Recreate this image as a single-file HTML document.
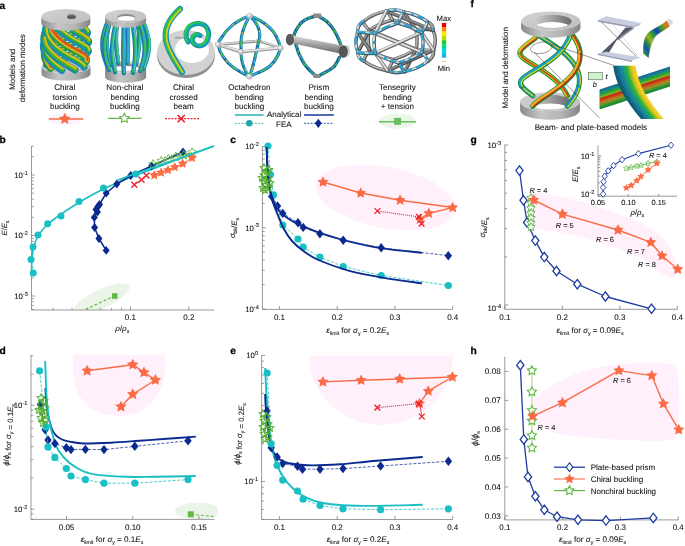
<!DOCTYPE html><html><head><meta charset="utf-8"><style>html,body{margin:0;padding:0;background:#fff;width:685px;height:546px;overflow:hidden}svg{display:block;will-change:transform} text{stroke:#1a1a1a;stroke-width:0.08px;text-rendering:geometricPrecision}</style></head><body><svg width="685" height="546" viewBox="0 0 685 546" font-family='"Liberation Sans", sans-serif'>
<rect width="685" height="546" fill="#fff"/>
<text x="-0.40" y="143.00" font-size="10.2" text-anchor="start" fill="#000" font-weight="bold"  style="stroke:#000;stroke-width:0.25px">b</text>
<clipPath id="cb"><rect x="31.5" y="141" width="187.5" height="169"/></clipPath>
<g clip-path="url(#cb)"><ellipse cx="101.5" cy="299" rx="30.5" ry="9.5" transform="rotate(-25 101.5 299)" fill="#eaf5e7"/></g>
<line x1="31.50" y1="146.00" x2="31.50" y2="310.00" stroke="#808080" stroke-width="0.8"/>
<line x1="31.50" y1="310.00" x2="214.00" y2="310.00" stroke="#808080" stroke-width="0.8"/>
<line x1="31.50" y1="309.42" x2="33.80" y2="309.42" stroke="#808080" stroke-width="0.8"/>
<line x1="31.50" y1="305.37" x2="33.80" y2="305.37" stroke="#808080" stroke-width="0.8"/>
<line x1="31.50" y1="301.86" x2="33.80" y2="301.86" stroke="#808080" stroke-width="0.8"/>
<line x1="31.50" y1="298.77" x2="33.80" y2="298.77" stroke="#808080" stroke-width="0.8"/>
<line x1="31.50" y1="296.00" x2="34.90" y2="296.00" stroke="#808080" stroke-width="0.8"/>
<line x1="31.50" y1="277.79" x2="33.80" y2="277.79" stroke="#808080" stroke-width="0.8"/>
<line x1="31.50" y1="267.13" x2="33.80" y2="267.13" stroke="#808080" stroke-width="0.8"/>
<line x1="31.50" y1="259.58" x2="33.80" y2="259.58" stroke="#808080" stroke-width="0.8"/>
<line x1="31.50" y1="253.71" x2="33.80" y2="253.71" stroke="#808080" stroke-width="0.8"/>
<line x1="31.50" y1="248.92" x2="33.80" y2="248.92" stroke="#808080" stroke-width="0.8"/>
<line x1="31.50" y1="244.87" x2="33.80" y2="244.87" stroke="#808080" stroke-width="0.8"/>
<line x1="31.50" y1="241.36" x2="33.80" y2="241.36" stroke="#808080" stroke-width="0.8"/>
<line x1="31.50" y1="238.27" x2="33.80" y2="238.27" stroke="#808080" stroke-width="0.8"/>
<line x1="31.50" y1="235.50" x2="34.90" y2="235.50" stroke="#808080" stroke-width="0.8"/>
<line x1="31.50" y1="217.29" x2="33.80" y2="217.29" stroke="#808080" stroke-width="0.8"/>
<line x1="31.50" y1="206.63" x2="33.80" y2="206.63" stroke="#808080" stroke-width="0.8"/>
<line x1="31.50" y1="199.08" x2="33.80" y2="199.08" stroke="#808080" stroke-width="0.8"/>
<line x1="31.50" y1="193.21" x2="33.80" y2="193.21" stroke="#808080" stroke-width="0.8"/>
<line x1="31.50" y1="188.42" x2="33.80" y2="188.42" stroke="#808080" stroke-width="0.8"/>
<line x1="31.50" y1="184.37" x2="33.80" y2="184.37" stroke="#808080" stroke-width="0.8"/>
<line x1="31.50" y1="180.86" x2="33.80" y2="180.86" stroke="#808080" stroke-width="0.8"/>
<line x1="31.50" y1="177.77" x2="33.80" y2="177.77" stroke="#808080" stroke-width="0.8"/>
<line x1="31.50" y1="175.00" x2="34.90" y2="175.00" stroke="#808080" stroke-width="0.8"/>
<line x1="31.50" y1="156.79" x2="33.80" y2="156.79" stroke="#808080" stroke-width="0.8"/>
<line x1="31.50" y1="146.13" x2="33.80" y2="146.13" stroke="#808080" stroke-width="0.8"/>
<text x="27.90" y="177.80" font-size="7.8" text-anchor="end" fill="#111">10<tspan font-size="5.6" dy="-3.2">-1</tspan></text>
<text x="27.90" y="238.30" font-size="7.8" text-anchor="end" fill="#111">10<tspan font-size="5.6" dy="-3.2">-2</tspan></text>
<text x="27.90" y="298.80" font-size="7.8" text-anchor="end" fill="#111">10<tspan font-size="5.6" dy="-3.2">-3</tspan></text>
<line x1="53.20" y1="310.00" x2="53.20" y2="307.70" stroke="#808080" stroke-width="0.8"/>
<line x1="72.00" y1="310.00" x2="72.00" y2="307.70" stroke="#808080" stroke-width="0.8"/>
<line x1="87.36" y1="310.00" x2="87.36" y2="307.70" stroke="#808080" stroke-width="0.8"/>
<line x1="100.35" y1="310.00" x2="100.35" y2="307.70" stroke="#808080" stroke-width="0.8"/>
<line x1="111.60" y1="310.00" x2="111.60" y2="307.70" stroke="#808080" stroke-width="0.8"/>
<line x1="121.52" y1="310.00" x2="121.52" y2="307.70" stroke="#808080" stroke-width="0.8"/>
<line x1="130.40" y1="310.00" x2="130.40" y2="306.60" stroke="#808080" stroke-width="0.8"/>
<line x1="188.80" y1="310.00" x2="188.80" y2="306.60" stroke="#808080" stroke-width="0.8"/>
<text x="130.40" y="320.00" font-size="8.0" text-anchor="middle" fill="#111" font-weight="normal"  >0.1</text>
<text x="188.80" y="320.00" font-size="8.0" text-anchor="middle" fill="#111" font-weight="normal"  >0.2</text>
<text x="122.3" y="330.8" font-size="8.0" text-anchor="middle" fill="#111"><tspan font-style="italic">ρ</tspan>/<tspan font-style="italic">ρ</tspan><tspan font-size="5.2" dy="2.2">s</tspan></text>
<text transform="translate(7,228) rotate(-90)" font-size="7.6" text-anchor="middle" fill="#111"><tspan font-style="italic">E</tspan>/<tspan font-style="italic">E</tspan><tspan font-size="5.2" dy="1.8">s</tspan></text>
<path d="M85.40 309.50 L113.40 296.40" fill="none" stroke="#62b844" stroke-width="1.1" stroke-dasharray="3,2" stroke-linejoin="round" />
<rect x="111.9" y="293.2" width="5.6" height="5.6" fill="#62b844"/>
<path d="M31.60 276.00 C31.70 272.50 31.47 261.00 32.20 255.00 C32.93 249.00 34.03 244.50 36.00 240.00 C37.97 235.50 40.50 231.83 44.00 228.00 C47.50 224.17 51.17 221.25 57.00 217.00 C62.83 212.75 71.25 207.17 79.00 202.50 C86.75 197.83 94.05 193.50 103.50 189.00 C112.95 184.50 123.78 180.25 135.70 175.50 C147.62 170.75 161.95 165.42 175.00 160.50 C188.05 155.58 207.50 148.42 214.00 146.00" fill="none" stroke="#19bfc2" stroke-width="1.6" stroke-linecap="butt"/>
<path d="M106.20 250.40 L98.90 238.50 L94.60 227.50 L94.30 217.40 L96.00 209.50 L99.50 204.50 L106.20 193.20 L116.80 184.00 L130.70 175.50 L151.60 166.00 L183.00 152.00" fill="none" stroke="#0b2a8f" stroke-width="1.5" stroke-linejoin="round" />
<polygon points="106.20,246.00 109.70,250.40 106.20,254.80 102.70,250.40" fill="#0b2a8f" stroke="none" stroke-width="0"/>
<polygon points="98.90,234.10 102.40,238.50 98.90,242.90 95.40,238.50" fill="#0b2a8f" stroke="none" stroke-width="0"/>
<polygon points="94.60,223.10 98.10,227.50 94.60,231.90 91.10,227.50" fill="#0b2a8f" stroke="none" stroke-width="0"/>
<polygon points="94.30,213.00 97.80,217.40 94.30,221.80 90.80,217.40" fill="#0b2a8f" stroke="none" stroke-width="0"/>
<polygon points="96.00,205.10 99.50,209.50 96.00,213.90 92.50,209.50" fill="#0b2a8f" stroke="none" stroke-width="0"/>
<polygon points="99.50,200.10 103.00,204.50 99.50,208.90 96.00,204.50" fill="#0b2a8f" stroke="none" stroke-width="0"/>
<polygon points="106.20,188.80 109.70,193.20 106.20,197.60 102.70,193.20" fill="#0b2a8f" stroke="none" stroke-width="0"/>
<polygon points="116.80,179.60 120.30,184.00 116.80,188.40 113.30,184.00" fill="#0b2a8f" stroke="none" stroke-width="0"/>
<polygon points="130.70,171.10 134.20,175.50 130.70,179.90 127.20,175.50" fill="#0b2a8f" stroke="none" stroke-width="0"/>
<polygon points="151.60,161.60 155.10,166.00 151.60,170.40 148.10,166.00" fill="#0b2a8f" stroke="none" stroke-width="0"/>
<polygon points="183.00,147.60 186.50,152.00 183.00,156.40 179.50,152.00" fill="#0b2a8f" stroke="none" stroke-width="0"/>
<polygon points="97.40,207.60 100.90,212.00 97.40,216.40 93.90,212.00" fill="#0b2a8f" stroke="none" stroke-width="0"/>
<polygon points="98.00,202.10 101.50,206.50 98.00,210.90 94.50,206.50" fill="#0b2a8f" stroke="none" stroke-width="0"/>
<circle cx="33.30" cy="273.00" r="3.50" fill="#19bfc2"/>
<circle cx="31.00" cy="259.50" r="3.50" fill="#19bfc2"/>
<circle cx="33.00" cy="247.00" r="3.50" fill="#19bfc2"/>
<circle cx="38.00" cy="235.00" r="3.50" fill="#19bfc2"/>
<circle cx="47.60" cy="223.80" r="3.50" fill="#19bfc2"/>
<circle cx="61.00" cy="216.00" r="3.50" fill="#19bfc2"/>
<circle cx="79.00" cy="201.50" r="3.50" fill="#19bfc2"/>
<circle cx="103.50" cy="188.00" r="3.50" fill="#19bfc2"/>
<circle cx="135.70" cy="174.00" r="3.50" fill="#19bfc2"/>
<path d="M153.20 164.40 L161.40 161.00 L168.50 158.90 L175.80 156.80 L183.70 155.20 L192.10 152.60" fill="none" stroke="#62b844" stroke-width="1.0" stroke-linejoin="round" />
<polygon points="153.20,159.60 154.61,162.46 157.77,162.92 155.48,165.14 156.02,168.28 153.20,166.80 150.38,168.28 150.92,165.14 148.63,162.92 151.79,162.46" fill="white" fill-opacity="0.0" stroke="#62b844" stroke-width="0.9" stroke-linejoin="miter"/>
<polygon points="161.40,156.20 162.81,159.06 165.97,159.52 163.68,161.74 164.22,164.88 161.40,163.40 158.58,164.88 159.12,161.74 156.83,159.52 159.99,159.06" fill="white" fill-opacity="0.0" stroke="#62b844" stroke-width="0.9" stroke-linejoin="miter"/>
<polygon points="168.50,154.10 169.91,156.96 173.07,157.42 170.78,159.64 171.32,162.78 168.50,161.30 165.68,162.78 166.22,159.64 163.93,157.42 167.09,156.96" fill="white" fill-opacity="0.0" stroke="#62b844" stroke-width="0.9" stroke-linejoin="miter"/>
<polygon points="175.80,152.00 177.21,154.86 180.37,155.32 178.08,157.54 178.62,160.68 175.80,159.20 172.98,160.68 173.52,157.54 171.23,155.32 174.39,154.86" fill="white" fill-opacity="0.0" stroke="#62b844" stroke-width="0.9" stroke-linejoin="miter"/>
<polygon points="183.70,150.40 185.11,153.26 188.27,153.72 185.98,155.94 186.52,159.08 183.70,157.60 180.88,159.08 181.42,155.94 179.13,153.72 182.29,153.26" fill="white" fill-opacity="0.0" stroke="#62b844" stroke-width="0.9" stroke-linejoin="miter"/>
<polygon points="192.10,147.80 193.51,150.66 196.67,151.12 194.38,153.34 194.92,156.48 192.10,155.00 189.28,156.48 189.82,153.34 187.53,151.12 190.69,150.66" fill="white" fill-opacity="0.0" stroke="#62b844" stroke-width="0.9" stroke-linejoin="miter"/>
<path d="M154.30 175.20 L161.10 172.60 L168.00 170.00 L174.80 167.10 L182.70 163.70 L192.10 157.90" fill="none" stroke="#fa6c46" stroke-width="1.0" stroke-linejoin="round" />
<polygon points="154.30,170.00 155.83,173.10 159.25,173.59 156.77,176.00 157.36,179.41 154.30,177.80 151.24,179.41 151.83,176.00 149.35,173.59 152.77,173.10" fill="#fa6c46" stroke="none" stroke-width="0" stroke-linejoin="round"/>
<polygon points="161.10,167.40 162.63,170.50 166.05,170.99 163.57,173.40 164.16,176.81 161.10,175.20 158.04,176.81 158.63,173.40 156.15,170.99 159.57,170.50" fill="#fa6c46" stroke="none" stroke-width="0" stroke-linejoin="round"/>
<polygon points="168.00,164.80 169.53,167.90 172.95,168.39 170.47,170.80 171.06,174.21 168.00,172.60 164.94,174.21 165.53,170.80 163.05,168.39 166.47,167.90" fill="#fa6c46" stroke="none" stroke-width="0" stroke-linejoin="round"/>
<polygon points="174.80,161.90 176.33,165.00 179.75,165.49 177.27,167.90 177.86,171.31 174.80,169.70 171.74,171.31 172.33,167.90 169.85,165.49 173.27,165.00" fill="#fa6c46" stroke="none" stroke-width="0" stroke-linejoin="round"/>
<polygon points="182.70,158.50 184.23,161.60 187.65,162.09 185.17,164.50 185.76,167.91 182.70,166.30 179.64,167.91 180.23,164.50 177.75,162.09 181.17,161.60" fill="#fa6c46" stroke="none" stroke-width="0" stroke-linejoin="round"/>
<polygon points="192.10,152.70 193.63,155.80 197.05,156.29 194.57,158.70 195.16,162.11 192.10,160.50 189.04,162.11 189.63,158.70 187.15,156.29 190.57,155.80" fill="#fa6c46" stroke="none" stroke-width="0" stroke-linejoin="round"/>
<path d="M134.30 184.70 L141.50 179.70 L146.40 175.50" fill="none" stroke="#ef1c2c" stroke-width="1.0" stroke-linejoin="round" />
<path d="M131.30 181.70L137.30 187.70M131.30 187.70L137.30 181.70" stroke="#ef1c2c" stroke-width="1.3" fill="none"/>
<path d="M138.50 176.70L144.50 182.70M138.50 182.70L144.50 176.70" stroke="#ef1c2c" stroke-width="1.3" fill="none"/>
<path d="M143.40 172.50L149.40 178.50M143.40 178.50L149.40 172.50" stroke="#ef1c2c" stroke-width="1.3" fill="none"/>
<path d="M117.00 180.50 C120.12 179.35 126.03 177.02 135.70 173.60 C145.37 170.18 161.95 164.60 175.00 160.00 C188.05 155.40 207.50 148.33 214.00 146.00" fill="none" stroke="#19bfc2" stroke-width="1.6" stroke-linecap="butt"/>
<text x="230.20" y="143.00" font-size="10.2" text-anchor="start" fill="#000" font-weight="bold"  style="stroke:#000;stroke-width:0.25px">c</text>
<ellipse cx="385.5" cy="197.5" rx="71" ry="30.5" transform="rotate(11 385.5 197.5)" fill="#fff0fc"/>
<line x1="262.40" y1="146.20" x2="262.40" y2="309.40" stroke="#808080" stroke-width="0.8"/>
<line x1="262.40" y1="309.40" x2="452.70" y2="309.40" stroke="#808080" stroke-width="0.8"/>
<line x1="262.40" y1="309.10" x2="265.80" y2="309.10" stroke="#808080" stroke-width="0.8"/>
<line x1="262.40" y1="284.63" x2="264.70" y2="284.63" stroke="#808080" stroke-width="0.8"/>
<line x1="262.40" y1="270.31" x2="264.70" y2="270.31" stroke="#808080" stroke-width="0.8"/>
<line x1="262.40" y1="260.15" x2="264.70" y2="260.15" stroke="#808080" stroke-width="0.8"/>
<line x1="262.40" y1="252.27" x2="264.70" y2="252.27" stroke="#808080" stroke-width="0.8"/>
<line x1="262.40" y1="245.84" x2="264.70" y2="245.84" stroke="#808080" stroke-width="0.8"/>
<line x1="262.40" y1="240.39" x2="264.70" y2="240.39" stroke="#808080" stroke-width="0.8"/>
<line x1="262.40" y1="235.68" x2="264.70" y2="235.68" stroke="#808080" stroke-width="0.8"/>
<line x1="262.40" y1="231.52" x2="264.70" y2="231.52" stroke="#808080" stroke-width="0.8"/>
<line x1="262.40" y1="227.80" x2="265.80" y2="227.80" stroke="#808080" stroke-width="0.8"/>
<line x1="262.40" y1="203.33" x2="264.70" y2="203.33" stroke="#808080" stroke-width="0.8"/>
<line x1="262.40" y1="189.01" x2="264.70" y2="189.01" stroke="#808080" stroke-width="0.8"/>
<line x1="262.40" y1="178.85" x2="264.70" y2="178.85" stroke="#808080" stroke-width="0.8"/>
<line x1="262.40" y1="170.97" x2="264.70" y2="170.97" stroke="#808080" stroke-width="0.8"/>
<line x1="262.40" y1="164.54" x2="264.70" y2="164.54" stroke="#808080" stroke-width="0.8"/>
<line x1="262.40" y1="159.09" x2="264.70" y2="159.09" stroke="#808080" stroke-width="0.8"/>
<line x1="262.40" y1="154.38" x2="264.70" y2="154.38" stroke="#808080" stroke-width="0.8"/>
<line x1="262.40" y1="150.22" x2="264.70" y2="150.22" stroke="#808080" stroke-width="0.8"/>
<line x1="262.40" y1="146.50" x2="265.80" y2="146.50" stroke="#808080" stroke-width="0.8"/>
<text x="258.80" y="149.30" font-size="7.8" text-anchor="end" fill="#111">10<tspan font-size="5.6" dy="-3.2">-2</tspan></text>
<text x="258.80" y="230.60" font-size="7.8" text-anchor="end" fill="#111">10<tspan font-size="5.6" dy="-3.2">-3</tspan></text>
<text x="258.80" y="311.90" font-size="7.8" text-anchor="end" fill="#111">10<tspan font-size="5.6" dy="-3.2">-4</tspan></text>
<line x1="279.45" y1="309.40" x2="279.45" y2="306.00" stroke="#808080" stroke-width="0.8"/>
<text x="279.45" y="320.00" font-size="8.0" text-anchor="middle" fill="#111" font-weight="normal"  >0.1</text>
<line x1="337.20" y1="309.40" x2="337.20" y2="306.00" stroke="#808080" stroke-width="0.8"/>
<text x="337.20" y="320.00" font-size="8.0" text-anchor="middle" fill="#111" font-weight="normal"  >0.2</text>
<line x1="394.95" y1="309.40" x2="394.95" y2="306.00" stroke="#808080" stroke-width="0.8"/>
<text x="394.95" y="320.00" font-size="8.0" text-anchor="middle" fill="#111" font-weight="normal"  >0.3</text>
<line x1="452.70" y1="309.40" x2="452.70" y2="306.00" stroke="#808080" stroke-width="0.8"/>
<text x="452.70" y="320.00" font-size="8.0" text-anchor="middle" fill="#111" font-weight="normal"  >0.4</text>
<text x="357.70" y="333.00" font-size="8.1" text-anchor="middle" fill="#111"><tspan font-style="italic">ε</tspan><tspan font-size="5.2" dy="2.2">limit</tspan><tspan dy="-2.2"> for </tspan><tspan font-style="italic">σ</tspan><tspan font-size="5.2" dy="2.2">y</tspan><tspan dy="-2.2"> = 0.2</tspan><tspan font-style="italic">E</tspan><tspan font-size="5.2" dy="2.2">s</tspan></text>
<text transform="translate(235.20,228.00) rotate(-90)" font-size="7.8" text-anchor="middle" fill="#111"><tspan font-style="italic">σ</tspan><tspan font-size="5.2" dy="2.0">bk</tspan><tspan dy="-2.0"></tspan>/<tspan font-style="italic">E</tspan><tspan font-size="5.2" dy="2.0">s</tspan><tspan dy="-2.0"></tspan></text>
<path d="M267.50 165.00 L269.50 183.00 L271.70 196.40 L277.50 206.00 L282.80 213.40 L298.00 222.70 L303.20 227.40 L319.90 233.80 L343.20 240.20 L381.20 247.80 L448.30 255.70" fill="none" stroke="#1f3da0" stroke-width="0.8" stroke-dasharray="3,1.6" stroke-linejoin="round" />
<polygon points="271.70,191.70 275.40,196.40 271.70,201.10 268.00,196.40" fill="#0b2a8f" stroke="none" stroke-width="0"/>
<polygon points="277.50,201.30 281.20,206.00 277.50,210.70 273.80,206.00" fill="#0b2a8f" stroke="none" stroke-width="0"/>
<polygon points="282.80,208.70 286.50,213.40 282.80,218.10 279.10,213.40" fill="#0b2a8f" stroke="none" stroke-width="0"/>
<polygon points="298.00,218.00 301.70,222.70 298.00,227.40 294.30,222.70" fill="#0b2a8f" stroke="none" stroke-width="0"/>
<polygon points="303.20,222.70 306.90,227.40 303.20,232.10 299.50,227.40" fill="#0b2a8f" stroke="none" stroke-width="0"/>
<polygon points="319.90,229.10 323.60,233.80 319.90,238.50 316.20,233.80" fill="#0b2a8f" stroke="none" stroke-width="0"/>
<polygon points="343.20,235.50 346.90,240.20 343.20,244.90 339.50,240.20" fill="#0b2a8f" stroke="none" stroke-width="0"/>
<polygon points="381.20,243.10 384.90,247.80 381.20,252.50 377.50,247.80" fill="#0b2a8f" stroke="none" stroke-width="0"/>
<polygon points="448.30,251.00 452.00,255.70 448.30,260.40 444.60,255.70" fill="#0b2a8f" stroke="none" stroke-width="0"/>
<path d="M268.00 146.00 L270.50 174.60 L273.40 194.90 L282.80 225.00 L298.00 239.00 L303.20 247.20 L319.90 257.20 L343.20 266.50 L381.20 275.50 L448.30 285.50" fill="none" stroke="#19bfc2" stroke-width="0.8" stroke-dasharray="3,1.6" stroke-linejoin="round" />
<circle cx="268.00" cy="146.00" r="3.60" fill="#19bfc2"/>
<circle cx="270.50" cy="174.60" r="3.60" fill="#19bfc2"/>
<circle cx="273.40" cy="194.90" r="3.60" fill="#19bfc2"/>
<circle cx="282.80" cy="225.00" r="3.60" fill="#19bfc2"/>
<circle cx="298.00" cy="239.00" r="3.60" fill="#19bfc2"/>
<circle cx="303.20" cy="247.20" r="3.60" fill="#19bfc2"/>
<circle cx="319.90" cy="257.20" r="3.60" fill="#19bfc2"/>
<circle cx="343.20" cy="266.50" r="3.60" fill="#19bfc2"/>
<circle cx="381.20" cy="275.50" r="3.60" fill="#19bfc2"/>
<circle cx="448.30" cy="285.50" r="3.60" fill="#19bfc2"/>
<path d="M266.60 147.00 C266.77 150.83 267.12 163.33 267.60 170.00 C268.08 176.67 268.82 182.70 269.50 187.00 C270.18 191.30 270.37 192.13 271.70 195.80 C273.03 199.47 274.58 205.10 277.50 209.00 C280.42 212.90 284.82 216.28 289.20 219.20 C293.58 222.12 298.93 224.32 303.80 226.50 C308.67 228.68 311.10 229.87 318.40 232.30 C325.70 234.73 336.90 238.42 347.60 241.10 C358.30 243.78 370.20 246.45 382.60 248.40 C395.00 250.35 415.43 252.07 422.00 252.80" fill="none" stroke="#0b2a8f" stroke-width="1.9" stroke-linecap="butt"/>
<path d="M266.60 147.00 C266.77 150.83 267.12 163.33 267.60 170.00 C268.08 176.67 268.82 182.20 269.50 187.00 C270.18 191.80 270.62 194.90 271.70 198.80 C272.78 202.70 274.05 205.53 276.00 210.40 C277.95 215.27 280.73 222.90 283.40 228.00 C286.07 233.10 288.60 237.12 292.00 241.00 C295.40 244.88 299.40 248.13 303.80 251.30 C308.20 254.47 311.10 256.83 318.40 260.00 C325.70 263.17 336.90 267.37 347.60 270.30 C358.30 273.23 370.20 275.42 382.60 277.60 C395.00 279.78 415.43 282.43 422.00 283.40" fill="none" stroke="#0b2a8f" stroke-width="1.9" stroke-linecap="butt"/>
<polygon points="264.00,164.00 265.18,166.38 267.80,166.76 265.90,168.62 266.35,171.24 264.00,170.00 261.65,171.24 262.10,168.62 260.20,166.76 262.82,166.38" fill="white" fill-opacity="0.0" stroke="#52ad2e" stroke-width="1.05" stroke-linejoin="miter"/>
<polygon points="267.00,167.00 268.18,169.38 270.80,169.76 268.90,171.62 269.35,174.24 267.00,173.00 264.65,174.24 265.10,171.62 263.20,169.76 265.82,169.38" fill="white" fill-opacity="0.0" stroke="#52ad2e" stroke-width="1.05" stroke-linejoin="miter"/>
<polygon points="264.00,171.00 265.18,173.38 267.80,173.76 265.90,175.62 266.35,178.24 264.00,177.00 261.65,178.24 262.10,175.62 260.20,173.76 262.82,173.38" fill="white" fill-opacity="0.0" stroke="#52ad2e" stroke-width="1.05" stroke-linejoin="miter"/>
<polygon points="268.00,174.00 269.18,176.38 271.80,176.76 269.90,178.62 270.35,181.24 268.00,180.00 265.65,181.24 266.10,178.62 264.20,176.76 266.82,176.38" fill="white" fill-opacity="0.0" stroke="#52ad2e" stroke-width="1.05" stroke-linejoin="miter"/>
<polygon points="264.00,177.00 265.18,179.38 267.80,179.76 265.90,181.62 266.35,184.24 264.00,183.00 261.65,184.24 262.10,181.62 260.20,179.76 262.82,179.38" fill="white" fill-opacity="0.0" stroke="#52ad2e" stroke-width="1.05" stroke-linejoin="miter"/>
<polygon points="266.00,181.00 267.18,183.38 269.80,183.76 267.90,185.62 268.35,188.24 266.00,187.00 263.65,188.24 264.10,185.62 262.20,183.76 264.82,183.38" fill="white" fill-opacity="0.0" stroke="#52ad2e" stroke-width="1.05" stroke-linejoin="miter"/>
<polygon points="263.00,184.00 264.18,186.38 266.80,186.76 264.90,188.62 265.35,191.24 263.00,190.00 260.65,191.24 261.10,188.62 259.20,186.76 261.82,186.38" fill="white" fill-opacity="0.0" stroke="#52ad2e" stroke-width="1.05" stroke-linejoin="miter"/>
<polygon points="268.00,184.00 269.18,186.38 271.80,186.76 269.90,188.62 270.35,191.24 268.00,190.00 265.65,191.24 266.10,188.62 264.20,186.76 266.82,186.38" fill="white" fill-opacity="0.0" stroke="#52ad2e" stroke-width="1.05" stroke-linejoin="miter"/>
<polygon points="265.00,186.00 266.18,188.38 268.80,188.76 266.90,190.62 267.35,193.24 265.00,192.00 262.65,193.24 263.10,190.62 261.20,188.76 263.82,188.38" fill="white" fill-opacity="0.0" stroke="#52ad2e" stroke-width="1.05" stroke-linejoin="miter"/>
<polygon points="270.00,179.00 271.18,181.38 273.80,181.76 271.90,183.62 272.35,186.24 270.00,185.00 267.65,186.24 268.10,183.62 266.20,181.76 268.82,181.38" fill="white" fill-opacity="0.0" stroke="#52ad2e" stroke-width="1.05" stroke-linejoin="miter"/>
<polygon points="269.00,166.00 270.18,168.38 272.80,168.76 270.90,170.62 271.35,173.24 269.00,172.00 266.65,173.24 267.10,170.62 265.20,168.76 267.82,168.38" fill="white" fill-opacity="0.0" stroke="#52ad2e" stroke-width="1.05" stroke-linejoin="miter"/>
<polygon points="262.00,174.00 263.18,176.38 265.80,176.76 263.90,178.62 264.35,181.24 262.00,180.00 259.65,181.24 260.10,178.62 258.20,176.76 260.82,176.38" fill="white" fill-opacity="0.0" stroke="#52ad2e" stroke-width="1.05" stroke-linejoin="miter"/>
<path d="M323.00 182.00 L360.70 193.00 L400.10 200.20 L452.70 207.50 L428.80 213.40 L420.00 219.20" fill="none" stroke="#fa6c46" stroke-width="1.4" stroke-linejoin="round" />
<polygon points="323.00,176.20 324.70,179.65 328.52,180.21 325.76,182.90 326.41,186.69 323.00,184.90 319.59,186.69 320.24,182.90 317.48,180.21 321.30,179.65" fill="#fa6c46" stroke="none" stroke-width="0" stroke-linejoin="round"/>
<polygon points="360.70,187.20 362.40,190.65 366.22,191.21 363.46,193.90 364.11,197.69 360.70,195.90 357.29,197.69 357.94,193.90 355.18,191.21 359.00,190.65" fill="#fa6c46" stroke="none" stroke-width="0" stroke-linejoin="round"/>
<polygon points="400.10,194.40 401.80,197.85 405.62,198.41 402.86,201.10 403.51,204.89 400.10,203.10 396.69,204.89 397.34,201.10 394.58,198.41 398.40,197.85" fill="#fa6c46" stroke="none" stroke-width="0" stroke-linejoin="round"/>
<polygon points="452.70,201.70 454.40,205.15 458.22,205.71 455.46,208.40 456.11,212.19 452.70,210.40 449.29,212.19 449.94,208.40 447.18,205.71 451.00,205.15" fill="#fa6c46" stroke="none" stroke-width="0" stroke-linejoin="round"/>
<polygon points="428.80,207.60 430.50,211.05 434.32,211.61 431.56,214.30 432.21,218.09 428.80,216.30 425.39,218.09 426.04,214.30 423.28,211.61 427.10,211.05" fill="#fa6c46" stroke="none" stroke-width="0" stroke-linejoin="round"/>
<polygon points="420.00,213.40 421.70,216.85 425.52,217.41 422.76,220.10 423.41,223.89 420.00,222.10 416.59,223.89 417.24,220.10 414.48,217.41 418.30,216.85" fill="#fa6c46" stroke="none" stroke-width="0" stroke-linejoin="round"/>
<path d="M377.40 211.00 L419.00 216.90" fill="none" stroke="#ef1c2c" stroke-width="1.1" stroke-dasharray="1,1" stroke-linejoin="round" />
<path d="M374.50 208.10L380.30 213.90M374.50 213.90L380.30 208.10" stroke="#ef1c2c" stroke-width="1.3" fill="none"/>
<path d="M416.10 214.00L421.90 219.80M416.10 219.80L421.90 214.00" stroke="#ef1c2c" stroke-width="1.3" fill="none"/>
<path d="M418.60 220.70L424.40 226.50M418.60 226.50L424.40 220.70" stroke="#ef1c2c" stroke-width="1.3" fill="none"/>
<text x="-0.40" y="353.60" font-size="10.2" text-anchor="start" fill="#000" font-weight="bold"  style="stroke:#000;stroke-width:0.25px">d</text>
<clipPath id="cd"><rect x="31" y="355" width="186.5" height="164.39999999999998"/></clipPath>
<g clip-path="url(#cd)"><path d="M73 355 L165 355 C166 372 164 392 150 404 C140 413 130 416 119 416 C105 416 92 411 84 402 C74 391 72 372 73 355 Z" fill="#fff0fc"/><ellipse cx="198" cy="511" rx="23" ry="8.5" fill="#eaf5e7"/></g>
<line x1="31.00" y1="355.00" x2="31.00" y2="519.40" stroke="#808080" stroke-width="0.8"/>
<line x1="31.00" y1="519.40" x2="214.50" y2="519.40" stroke="#808080" stroke-width="0.8"/>
<line x1="31.00" y1="519.27" x2="33.30" y2="519.27" stroke="#808080" stroke-width="0.8"/>
<line x1="31.00" y1="513.95" x2="33.30" y2="513.95" stroke="#808080" stroke-width="0.8"/>
<line x1="31.00" y1="509.20" x2="34.40" y2="509.20" stroke="#808080" stroke-width="0.8"/>
<line x1="31.00" y1="477.92" x2="33.30" y2="477.92" stroke="#808080" stroke-width="0.8"/>
<line x1="31.00" y1="459.63" x2="33.30" y2="459.63" stroke="#808080" stroke-width="0.8"/>
<line x1="31.00" y1="446.65" x2="33.30" y2="446.65" stroke="#808080" stroke-width="0.8"/>
<line x1="31.00" y1="436.58" x2="33.30" y2="436.58" stroke="#808080" stroke-width="0.8"/>
<line x1="31.00" y1="428.35" x2="33.30" y2="428.35" stroke="#808080" stroke-width="0.8"/>
<line x1="31.00" y1="421.39" x2="33.30" y2="421.39" stroke="#808080" stroke-width="0.8"/>
<line x1="31.00" y1="415.37" x2="33.30" y2="415.37" stroke="#808080" stroke-width="0.8"/>
<line x1="31.00" y1="410.05" x2="33.30" y2="410.05" stroke="#808080" stroke-width="0.8"/>
<line x1="31.00" y1="405.30" x2="34.40" y2="405.30" stroke="#808080" stroke-width="0.8"/>
<line x1="31.00" y1="374.02" x2="33.30" y2="374.02" stroke="#808080" stroke-width="0.8"/>
<line x1="31.00" y1="355.73" x2="33.30" y2="355.73" stroke="#808080" stroke-width="0.8"/>
<text x="27.40" y="408.10" font-size="7.8" text-anchor="end" fill="#111">10<tspan font-size="5.6" dy="-3.2">-1</tspan></text>
<text x="27.40" y="512.00" font-size="7.8" text-anchor="end" fill="#111">10<tspan font-size="5.6" dy="-3.2">-2</tspan></text>
<line x1="66.50" y1="519.40" x2="66.50" y2="516.00" stroke="#808080" stroke-width="0.8"/>
<text x="66.50" y="530.00" font-size="8.0" text-anchor="middle" fill="#111" font-weight="normal"  >0.05</text>
<line x1="132.75" y1="519.40" x2="132.75" y2="516.00" stroke="#808080" stroke-width="0.8"/>
<text x="132.75" y="530.00" font-size="8.0" text-anchor="middle" fill="#111" font-weight="normal"  >0.10</text>
<line x1="199.00" y1="519.40" x2="199.00" y2="516.00" stroke="#808080" stroke-width="0.8"/>
<text x="199.00" y="530.00" font-size="8.0" text-anchor="middle" fill="#111" font-weight="normal"  >0.15</text>
<text x="112.00" y="542.00" font-size="8.1" text-anchor="middle" fill="#111"><tspan font-style="italic">ε</tspan><tspan font-size="5.2" dy="2.2">limit</tspan><tspan dy="-2.2"> for </tspan><tspan font-style="italic">σ</tspan><tspan font-size="5.2" dy="2.2">y</tspan><tspan dy="-2.2"> = 0.1</tspan><tspan font-style="italic">E</tspan><tspan font-size="5.2" dy="2.2">s</tspan></text>
<text transform="translate(8.60,435.00) rotate(-90)" font-size="7.8" text-anchor="middle" fill="#111"><tspan font-style="italic">ϕ</tspan>/<tspan font-style="italic">ϕ</tspan><tspan font-size="5.2" dy="2.0">s</tspan><tspan dy="-2.0"></tspan> for <tspan font-style="italic">σ</tspan><tspan font-size="5.2" dy="2.0">y</tspan><tspan dy="-2.0"></tspan> = 0.1<tspan font-style="italic">E</tspan><tspan font-size="5.2" dy="2.0">s</tspan><tspan dy="-2.0"></tspan></text>
<path d="M45.40 388.00 C45.50 389.67 45.67 394.07 46.00 398.00 C46.33 401.93 46.47 406.55 47.40 411.60 C48.33 416.65 50.22 424.37 51.60 428.30 C52.98 432.23 53.97 433.33 55.70 435.20 C57.43 437.07 59.68 438.43 62.00 439.50 C64.32 440.57 66.02 440.93 69.60 441.60 C73.18 442.27 76.57 443.32 83.50 443.50 C90.43 443.68 101.95 443.15 111.20 442.70 C120.45 442.25 129.75 441.45 139.00 440.80 C148.25 440.15 157.23 439.50 166.70 438.80 C176.17 438.10 190.95 436.97 195.80 436.60" fill="none" stroke="#0b2a8f" stroke-width="1.9" stroke-linecap="butt"/>
<path d="M45.20 361.00 C45.42 366.67 45.90 385.63 46.50 395.00 C47.10 404.37 47.72 410.27 48.80 417.20 C49.88 424.13 51.38 431.05 53.00 436.60 C54.62 442.15 55.73 446.10 58.50 450.50 C61.27 454.90 65.43 459.53 69.60 463.00 C73.77 466.47 78.88 469.32 83.50 471.30 C88.12 473.28 90.38 473.98 97.30 474.90 C104.22 475.82 115.75 476.48 125.00 476.80 C134.25 477.12 141.00 476.93 152.80 476.80 C164.60 476.67 188.63 476.13 195.80 476.00" fill="none" stroke="#19bfc2" stroke-width="1.9" stroke-linecap="butt"/>
<path d="M40.50 404.70 L45.20 429.70 L48.00 440.00 L54.90 443.50 L66.30 447.70 L71.00 449.60 L85.40 449.40 L104.00 449.60 L134.80 446.30 L188.00 440.80" fill="none" stroke="#1f3da0" stroke-width="0.8" stroke-dasharray="3,1.6" stroke-linejoin="round" />
<polygon points="40.50,400.00 44.20,404.70 40.50,409.40 36.80,404.70" fill="#0b2a8f" stroke="none" stroke-width="0"/>
<polygon points="45.20,425.00 48.90,429.70 45.20,434.40 41.50,429.70" fill="#0b2a8f" stroke="none" stroke-width="0"/>
<polygon points="48.00,435.30 51.70,440.00 48.00,444.70 44.30,440.00" fill="#0b2a8f" stroke="none" stroke-width="0"/>
<polygon points="54.90,438.80 58.60,443.50 54.90,448.20 51.20,443.50" fill="#0b2a8f" stroke="none" stroke-width="0"/>
<polygon points="66.30,443.00 70.00,447.70 66.30,452.40 62.60,447.70" fill="#0b2a8f" stroke="none" stroke-width="0"/>
<polygon points="71.00,444.90 74.70,449.60 71.00,454.30 67.30,449.60" fill="#0b2a8f" stroke="none" stroke-width="0"/>
<polygon points="85.40,444.70 89.10,449.40 85.40,454.10 81.70,449.40" fill="#0b2a8f" stroke="none" stroke-width="0"/>
<polygon points="104.00,444.90 107.70,449.60 104.00,454.30 100.30,449.60" fill="#0b2a8f" stroke="none" stroke-width="0"/>
<polygon points="134.80,441.60 138.50,446.30 134.80,451.00 131.10,446.30" fill="#0b2a8f" stroke="none" stroke-width="0"/>
<polygon points="188.00,436.10 191.70,440.80 188.00,445.50 184.30,440.80" fill="#0b2a8f" stroke="none" stroke-width="0"/>
<path d="M39.60 370.80 L46.00 426.90 L48.00 446.90 L54.90 457.40 L66.30 468.50 L71.00 476.00 L85.40 479.60 L104.00 483.20 L134.80 483.20 L188.00 479.60" fill="none" stroke="#19bfc2" stroke-width="0.8" stroke-dasharray="3,1.6" stroke-linejoin="round" />
<circle cx="39.60" cy="370.80" r="3.60" fill="#19bfc2"/>
<circle cx="46.00" cy="426.90" r="3.60" fill="#19bfc2"/>
<circle cx="48.00" cy="446.90" r="3.60" fill="#19bfc2"/>
<circle cx="54.90" cy="457.40" r="3.60" fill="#19bfc2"/>
<circle cx="66.30" cy="468.50" r="3.60" fill="#19bfc2"/>
<circle cx="71.00" cy="476.00" r="3.60" fill="#19bfc2"/>
<circle cx="85.40" cy="479.60" r="3.60" fill="#19bfc2"/>
<circle cx="104.00" cy="483.20" r="3.60" fill="#19bfc2"/>
<circle cx="134.80" cy="483.20" r="3.60" fill="#19bfc2"/>
<circle cx="188.00" cy="479.60" r="3.60" fill="#19bfc2"/>
<polygon points="41.00,394.00 42.18,396.38 44.80,396.76 42.90,398.62 43.35,401.24 41.00,400.00 38.65,401.24 39.10,398.62 37.20,396.76 39.82,396.38" fill="white" fill-opacity="0.0" stroke="#52ad2e" stroke-width="1.05" stroke-linejoin="miter"/>
<polygon points="44.00,397.00 45.18,399.38 47.80,399.76 45.90,401.62 46.35,404.24 44.00,403.00 41.65,404.24 42.10,401.62 40.20,399.76 42.82,399.38" fill="white" fill-opacity="0.0" stroke="#52ad2e" stroke-width="1.05" stroke-linejoin="miter"/>
<polygon points="41.00,401.00 42.18,403.38 44.80,403.76 42.90,405.62 43.35,408.24 41.00,407.00 38.65,408.24 39.10,405.62 37.20,403.76 39.82,403.38" fill="white" fill-opacity="0.0" stroke="#52ad2e" stroke-width="1.05" stroke-linejoin="miter"/>
<polygon points="45.00,404.00 46.18,406.38 48.80,406.76 46.90,408.62 47.35,411.24 45.00,410.00 42.65,411.24 43.10,408.62 41.20,406.76 43.82,406.38" fill="white" fill-opacity="0.0" stroke="#52ad2e" stroke-width="1.05" stroke-linejoin="miter"/>
<polygon points="42.00,407.00 43.18,409.38 45.80,409.76 43.90,411.62 44.35,414.24 42.00,413.00 39.65,414.24 40.10,411.62 38.20,409.76 40.82,409.38" fill="white" fill-opacity="0.0" stroke="#52ad2e" stroke-width="1.05" stroke-linejoin="miter"/>
<polygon points="44.00,411.00 45.18,413.38 47.80,413.76 45.90,415.62 46.35,418.24 44.00,417.00 41.65,418.24 42.10,415.62 40.20,413.76 42.82,413.38" fill="white" fill-opacity="0.0" stroke="#52ad2e" stroke-width="1.05" stroke-linejoin="miter"/>
<polygon points="41.00,414.00 42.18,416.38 44.80,416.76 42.90,418.62 43.35,421.24 41.00,420.00 38.65,421.24 39.10,418.62 37.20,416.76 39.82,416.38" fill="white" fill-opacity="0.0" stroke="#52ad2e" stroke-width="1.05" stroke-linejoin="miter"/>
<polygon points="45.00,416.00 46.18,418.38 48.80,418.76 46.90,420.62 47.35,423.24 45.00,422.00 42.65,423.24 43.10,420.62 41.20,418.76 43.82,418.38" fill="white" fill-opacity="0.0" stroke="#52ad2e" stroke-width="1.05" stroke-linejoin="miter"/>
<polygon points="43.00,419.00 44.18,421.38 46.80,421.76 44.90,423.62 45.35,426.24 43.00,425.00 40.65,426.24 41.10,423.62 39.20,421.76 41.82,421.38" fill="white" fill-opacity="0.0" stroke="#52ad2e" stroke-width="1.05" stroke-linejoin="miter"/>
<polygon points="39.00,406.00 40.18,408.38 42.80,408.76 40.90,410.62 41.35,413.24 39.00,412.00 36.65,413.24 37.10,410.62 35.20,408.76 37.82,408.38" fill="white" fill-opacity="0.0" stroke="#52ad2e" stroke-width="1.05" stroke-linejoin="miter"/>
<path d="M87.10 370.80 L132.70 364.70 L144.00 372.40 L155.40 380.00 L132.70 394.30 L121.00 406.70" fill="none" stroke="#fa6c46" stroke-width="1.4" stroke-linejoin="round" />
<polygon points="87.10,364.80 88.86,368.37 92.81,368.95 89.95,371.73 90.63,375.65 87.10,373.80 83.57,375.65 84.25,371.73 81.39,368.95 85.34,368.37" fill="#fa6c46" stroke="none" stroke-width="0" stroke-linejoin="round"/>
<polygon points="132.70,358.70 134.46,362.27 138.41,362.85 135.55,365.63 136.23,369.55 132.70,367.70 129.17,369.55 129.85,365.63 126.99,362.85 130.94,362.27" fill="#fa6c46" stroke="none" stroke-width="0" stroke-linejoin="round"/>
<polygon points="144.00,366.40 145.76,369.97 149.71,370.55 146.85,373.33 147.53,377.25 144.00,375.40 140.47,377.25 141.15,373.33 138.29,370.55 142.24,369.97" fill="#fa6c46" stroke="none" stroke-width="0" stroke-linejoin="round"/>
<polygon points="155.40,374.00 157.16,377.57 161.11,378.15 158.25,380.93 158.93,384.85 155.40,383.00 151.87,384.85 152.55,380.93 149.69,378.15 153.64,377.57" fill="#fa6c46" stroke="none" stroke-width="0" stroke-linejoin="round"/>
<polygon points="132.70,388.30 134.46,391.87 138.41,392.45 135.55,395.23 136.23,399.15 132.70,397.30 129.17,399.15 129.85,395.23 126.99,392.45 130.94,391.87" fill="#fa6c46" stroke="none" stroke-width="0" stroke-linejoin="round"/>
<polygon points="121.00,400.70 122.76,404.27 126.71,404.85 123.85,407.63 124.53,411.55 121.00,409.70 117.47,411.55 118.15,407.63 115.29,404.85 119.24,404.27" fill="#fa6c46" stroke="none" stroke-width="0" stroke-linejoin="round"/>
<path d="M190.80 514.30 L213.90 516.50" fill="none" stroke="#62b844" stroke-width="1.0" stroke-dasharray="3,2" stroke-linejoin="round" />
<rect x="187.8" y="511.3" width="6" height="6" fill="#62b844"/>
<text x="230.20" y="353.80" font-size="10.2" text-anchor="start" fill="#000" font-weight="bold"  style="stroke:#000;stroke-width:0.25px">e</text>
<clipPath id="ce"><rect x="261.6" y="355.4" width="194.09999999999997" height="164.10000000000002"/></clipPath>
<g clip-path="url(#ce)"><ellipse cx="381" cy="355.3" rx="72" ry="69.5" fill="#fff0fc"/></g>
<line x1="261.60" y1="355.40" x2="261.60" y2="519.50" stroke="#808080" stroke-width="0.8"/>
<line x1="261.60" y1="519.50" x2="452.70" y2="519.50" stroke="#808080" stroke-width="0.8"/>
<line x1="261.60" y1="519.46" x2="263.90" y2="519.46" stroke="#808080" stroke-width="0.8"/>
<line x1="261.60" y1="509.48" x2="263.90" y2="509.48" stroke="#808080" stroke-width="0.8"/>
<line x1="261.60" y1="501.03" x2="263.90" y2="501.03" stroke="#808080" stroke-width="0.8"/>
<line x1="261.60" y1="493.72" x2="263.90" y2="493.72" stroke="#808080" stroke-width="0.8"/>
<line x1="261.60" y1="487.27" x2="263.90" y2="487.27" stroke="#808080" stroke-width="0.8"/>
<line x1="261.60" y1="481.50" x2="265.00" y2="481.50" stroke="#808080" stroke-width="0.8"/>
<line x1="261.60" y1="443.54" x2="263.90" y2="443.54" stroke="#808080" stroke-width="0.8"/>
<line x1="261.60" y1="421.34" x2="263.90" y2="421.34" stroke="#808080" stroke-width="0.8"/>
<line x1="261.60" y1="405.58" x2="263.90" y2="405.58" stroke="#808080" stroke-width="0.8"/>
<line x1="261.60" y1="393.36" x2="263.90" y2="393.36" stroke="#808080" stroke-width="0.8"/>
<line x1="261.60" y1="383.38" x2="263.90" y2="383.38" stroke="#808080" stroke-width="0.8"/>
<line x1="261.60" y1="374.93" x2="263.90" y2="374.93" stroke="#808080" stroke-width="0.8"/>
<line x1="261.60" y1="367.62" x2="263.90" y2="367.62" stroke="#808080" stroke-width="0.8"/>
<line x1="261.60" y1="361.17" x2="263.90" y2="361.17" stroke="#808080" stroke-width="0.8"/>
<line x1="261.60" y1="355.40" x2="265.00" y2="355.40" stroke="#808080" stroke-width="0.8"/>
<text x="258.00" y="358.20" font-size="7.8" text-anchor="end" fill="#111">10<tspan font-size="5.6" dy="-3.2">0</tspan></text>
<text x="258.00" y="484.30" font-size="7.8" text-anchor="end" fill="#111">10<tspan font-size="5.6" dy="-3.2">-1</tspan></text>
<line x1="279.45" y1="519.50" x2="279.45" y2="516.10" stroke="#808080" stroke-width="0.8"/>
<text x="279.45" y="530.00" font-size="8.0" text-anchor="middle" fill="#111" font-weight="normal"  >0.1</text>
<line x1="337.20" y1="519.50" x2="337.20" y2="516.10" stroke="#808080" stroke-width="0.8"/>
<text x="337.20" y="530.00" font-size="8.0" text-anchor="middle" fill="#111" font-weight="normal"  >0.2</text>
<line x1="394.95" y1="519.50" x2="394.95" y2="516.10" stroke="#808080" stroke-width="0.8"/>
<text x="394.95" y="530.00" font-size="8.0" text-anchor="middle" fill="#111" font-weight="normal"  >0.3</text>
<line x1="452.70" y1="519.50" x2="452.70" y2="516.10" stroke="#808080" stroke-width="0.8"/>
<text x="452.70" y="530.00" font-size="8.0" text-anchor="middle" fill="#111" font-weight="normal"  >0.4</text>
<text x="358.00" y="542.00" font-size="8.1" text-anchor="middle" fill="#111"><tspan font-style="italic">ε</tspan><tspan font-size="5.2" dy="2.2">limit</tspan><tspan dy="-2.2"> for </tspan><tspan font-style="italic">σ</tspan><tspan font-size="5.2" dy="2.2">y</tspan><tspan dy="-2.2"> = 0.2</tspan><tspan font-style="italic">E</tspan><tspan font-size="5.2" dy="2.2">s</tspan></text>
<text transform="translate(239.50,434.00) rotate(-90)" font-size="7.8" text-anchor="middle" fill="#111"><tspan font-style="italic">ϕ</tspan>/<tspan font-style="italic">ϕ</tspan><tspan font-size="5.2" dy="2.0">s</tspan><tspan dy="-2.0"></tspan> for <tspan font-style="italic">σ</tspan><tspan font-size="5.2" dy="2.0">y</tspan><tspan dy="-2.0"></tspan> = 0.2<tspan font-style="italic">E</tspan><tspan font-size="5.2" dy="2.0">s</tspan><tspan dy="-2.0"></tspan></text>
<path d="M265.20 368.00 C265.37 371.67 265.75 382.85 266.20 390.00 C266.65 397.15 267.07 401.93 267.90 410.90 C268.73 419.87 269.55 434.47 271.20 443.80 C272.85 453.13 274.50 459.75 277.80 466.90 C281.10 474.05 286.07 481.48 291.00 486.70 C295.93 491.92 301.92 495.45 307.40 498.20 C312.88 500.95 315.67 501.93 323.90 503.20 C332.13 504.47 340.33 505.53 356.80 505.80 C373.27 506.07 411.72 504.97 422.70 504.80" fill="none" stroke="#19bfc2" stroke-width="1.9" stroke-linecap="butt"/>
<path d="M265.20 394.00 C265.30 396.27 265.08 399.83 265.80 407.60 C266.52 415.37 268.05 432.92 269.50 440.60 C270.95 448.28 272.02 450.13 274.50 453.70 C276.98 457.27 278.92 460.07 284.40 462.00 C289.88 463.93 298.07 464.92 307.40 465.30 C316.73 465.68 329.42 465.02 340.40 464.30 C351.38 463.58 359.58 462.22 373.30 461.00 C387.02 459.78 414.47 457.67 422.70 457.00" fill="none" stroke="#0b2a8f" stroke-width="1.9" stroke-linecap="butt"/>
<path d="M267.20 410.90 L271.20 447.80 L277.10 457.00 L282.70 463.60 L297.50 466.30 L302.50 469.20 L320.00 469.20 L343.00 468.60 L380.60 466.00 L448.40 461.30" fill="none" stroke="#1f3da0" stroke-width="0.8" stroke-dasharray="3,1.6" stroke-linejoin="round" />
<polygon points="267.20,406.20 270.90,410.90 267.20,415.60 263.50,410.90" fill="#0b2a8f" stroke="none" stroke-width="0"/>
<polygon points="271.20,443.10 274.90,447.80 271.20,452.50 267.50,447.80" fill="#0b2a8f" stroke="none" stroke-width="0"/>
<polygon points="277.10,452.30 280.80,457.00 277.10,461.70 273.40,457.00" fill="#0b2a8f" stroke="none" stroke-width="0"/>
<polygon points="282.70,458.90 286.40,463.60 282.70,468.30 279.00,463.60" fill="#0b2a8f" stroke="none" stroke-width="0"/>
<polygon points="297.50,461.60 301.20,466.30 297.50,471.00 293.80,466.30" fill="#0b2a8f" stroke="none" stroke-width="0"/>
<polygon points="302.50,464.50 306.20,469.20 302.50,473.90 298.80,469.20" fill="#0b2a8f" stroke="none" stroke-width="0"/>
<polygon points="320.00,464.50 323.70,469.20 320.00,473.90 316.30,469.20" fill="#0b2a8f" stroke="none" stroke-width="0"/>
<polygon points="343.00,463.90 346.70,468.60 343.00,473.30 339.30,468.60" fill="#0b2a8f" stroke="none" stroke-width="0"/>
<polygon points="380.60,461.30 384.30,466.00 380.60,470.70 376.90,466.00" fill="#0b2a8f" stroke="none" stroke-width="0"/>
<polygon points="448.40,456.60 452.10,461.30 448.40,466.00 444.70,461.30" fill="#0b2a8f" stroke="none" stroke-width="0"/>
<path d="M267.20 373.00 L271.20 443.80 L277.10 465.30 L282.70 480.10 L297.50 491.00 L303.10 499.20 L320.00 505.50 L343.00 508.80 L380.60 509.70 L448.40 508.80" fill="none" stroke="#19bfc2" stroke-width="0.8" stroke-dasharray="3,1.6" stroke-linejoin="round" />
<circle cx="267.20" cy="373.00" r="3.60" fill="#19bfc2"/>
<circle cx="271.20" cy="443.80" r="3.60" fill="#19bfc2"/>
<circle cx="277.10" cy="465.30" r="3.60" fill="#19bfc2"/>
<circle cx="282.70" cy="480.10" r="3.60" fill="#19bfc2"/>
<circle cx="297.50" cy="491.00" r="3.60" fill="#19bfc2"/>
<circle cx="303.10" cy="499.20" r="3.60" fill="#19bfc2"/>
<circle cx="320.00" cy="505.50" r="3.60" fill="#19bfc2"/>
<circle cx="343.00" cy="508.80" r="3.60" fill="#19bfc2"/>
<circle cx="380.60" cy="509.70" r="3.60" fill="#19bfc2"/>
<circle cx="448.40" cy="508.80" r="3.60" fill="#19bfc2"/>
<polygon points="263.00,410.00 264.18,412.38 266.80,412.76 264.90,414.62 265.35,417.24 263.00,416.00 260.65,417.24 261.10,414.62 259.20,412.76 261.82,412.38" fill="white" fill-opacity="0.0" stroke="#52ad2e" stroke-width="1.05" stroke-linejoin="miter"/>
<polygon points="267.00,413.00 268.18,415.38 270.80,415.76 268.90,417.62 269.35,420.24 267.00,419.00 264.65,420.24 265.10,417.62 263.20,415.76 265.82,415.38" fill="white" fill-opacity="0.0" stroke="#52ad2e" stroke-width="1.05" stroke-linejoin="miter"/>
<polygon points="264.00,417.00 265.18,419.38 267.80,419.76 265.90,421.62 266.35,424.24 264.00,423.00 261.65,424.24 262.10,421.62 260.20,419.76 262.82,419.38" fill="white" fill-opacity="0.0" stroke="#52ad2e" stroke-width="1.05" stroke-linejoin="miter"/>
<polygon points="268.00,420.00 269.18,422.38 271.80,422.76 269.90,424.62 270.35,427.24 268.00,426.00 265.65,427.24 266.10,424.62 264.20,422.76 266.82,422.38" fill="white" fill-opacity="0.0" stroke="#52ad2e" stroke-width="1.05" stroke-linejoin="miter"/>
<polygon points="263.00,423.00 264.18,425.38 266.80,425.76 264.90,427.62 265.35,430.24 263.00,429.00 260.65,430.24 261.10,427.62 259.20,425.76 261.82,425.38" fill="white" fill-opacity="0.0" stroke="#52ad2e" stroke-width="1.05" stroke-linejoin="miter"/>
<polygon points="267.00,426.00 268.18,428.38 270.80,428.76 268.90,430.62 269.35,433.24 267.00,432.00 264.65,433.24 265.10,430.62 263.20,428.76 265.82,428.38" fill="white" fill-opacity="0.0" stroke="#52ad2e" stroke-width="1.05" stroke-linejoin="miter"/>
<polygon points="264.00,430.00 265.18,432.38 267.80,432.76 265.90,434.62 266.35,437.24 264.00,436.00 261.65,437.24 262.10,434.62 260.20,432.76 262.82,432.38" fill="white" fill-opacity="0.0" stroke="#52ad2e" stroke-width="1.05" stroke-linejoin="miter"/>
<polygon points="268.00,433.00 269.18,435.38 271.80,435.76 269.90,437.62 270.35,440.24 268.00,439.00 265.65,440.24 266.10,437.62 264.20,435.76 266.82,435.38" fill="white" fill-opacity="0.0" stroke="#52ad2e" stroke-width="1.05" stroke-linejoin="miter"/>
<polygon points="265.00,435.00 266.18,437.38 268.80,437.76 266.90,439.62 267.35,442.24 265.00,441.00 262.65,442.24 263.10,439.62 261.20,437.76 263.82,437.38" fill="white" fill-opacity="0.0" stroke="#52ad2e" stroke-width="1.05" stroke-linejoin="miter"/>
<polygon points="270.00,424.00 271.18,426.38 273.80,426.76 271.90,428.62 272.35,431.24 270.00,430.00 267.65,431.24 268.10,428.62 266.20,426.76 268.82,426.38" fill="white" fill-opacity="0.0" stroke="#52ad2e" stroke-width="1.05" stroke-linejoin="miter"/>
<path d="M322.90 381.90 L361.10 380.30 L399.70 379.00 L452.40 377.00 L428.30 391.10 L419.50 403.60" fill="none" stroke="#fa6c46" stroke-width="1.4" stroke-linejoin="round" />
<polygon points="322.90,376.00 324.63,379.51 328.51,380.08 325.71,382.81 326.37,386.67 322.90,384.85 319.43,386.67 320.09,382.81 317.29,380.08 321.17,379.51" fill="#fa6c46" stroke="none" stroke-width="0" stroke-linejoin="round"/>
<polygon points="361.10,374.40 362.83,377.91 366.71,378.48 363.91,381.21 364.57,385.07 361.10,383.25 357.63,385.07 358.29,381.21 355.49,378.48 359.37,377.91" fill="#fa6c46" stroke="none" stroke-width="0" stroke-linejoin="round"/>
<polygon points="399.70,373.10 401.43,376.61 405.31,377.18 402.51,379.91 403.17,383.77 399.70,381.95 396.23,383.77 396.89,379.91 394.09,377.18 397.97,376.61" fill="#fa6c46" stroke="none" stroke-width="0" stroke-linejoin="round"/>
<polygon points="452.40,371.10 454.13,374.61 458.01,375.18 455.21,377.91 455.87,381.77 452.40,379.95 448.93,381.77 449.59,377.91 446.79,375.18 450.67,374.61" fill="#fa6c46" stroke="none" stroke-width="0" stroke-linejoin="round"/>
<polygon points="428.30,385.20 430.03,388.71 433.91,389.28 431.11,392.01 431.77,395.87 428.30,394.05 424.83,395.87 425.49,392.01 422.69,389.28 426.57,388.71" fill="#fa6c46" stroke="none" stroke-width="0" stroke-linejoin="round"/>
<polygon points="419.50,397.70 421.23,401.21 425.11,401.78 422.31,404.51 422.97,408.37 419.50,406.55 416.03,408.37 416.69,404.51 413.89,401.78 417.77,401.21" fill="#fa6c46" stroke="none" stroke-width="0" stroke-linejoin="round"/>
<path d="M377.30 407.60 L418.80 403.60" fill="none" stroke="#ef1c2c" stroke-width="1.1" stroke-dasharray="1,1" stroke-linejoin="round" />
<path d="M420.00 405.00 L421.80 416.50" fill="none" stroke="#ef1c2c" stroke-width="0.8" stroke-linejoin="round" />
<path d="M374.40 404.70L380.20 410.50M374.40 410.50L380.20 404.70" stroke="#ef1c2c" stroke-width="1.3" fill="none"/>
<path d="M415.90 400.70L421.70 406.50M415.90 406.50L421.70 400.70" stroke="#ef1c2c" stroke-width="1.3" fill="none"/>
<path d="M418.90 413.60L424.70 419.40M418.90 419.40L424.70 413.60" stroke="#ef1c2c" stroke-width="1.3" fill="none"/>
<text x="470.60" y="143.00" font-size="10.2" text-anchor="start" fill="#000" font-weight="bold"  style="stroke:#000;stroke-width:0.25px">g</text>
<path d="M530 192 C560 195 592 203 632 219 C655 228 668 240 672 252 C676 262 678 272 674 277 C665 279 655 268 645 260 C620 248 590 238 560 232 C548 230 538 230 532 229 C528 220 527 200 530 192 Z" fill="#fff0fc"/>
<line x1="504.80" y1="144.50" x2="504.80" y2="309.30" stroke="#808080" stroke-width="0.8"/>
<line x1="504.80" y1="309.30" x2="677.40" y2="309.30" stroke="#808080" stroke-width="0.8"/>
<line x1="504.80" y1="305.00" x2="508.20" y2="305.00" stroke="#808080" stroke-width="0.8"/>
<line x1="504.80" y1="256.84" x2="507.10" y2="256.84" stroke="#808080" stroke-width="0.8"/>
<line x1="504.80" y1="228.66" x2="507.10" y2="228.66" stroke="#808080" stroke-width="0.8"/>
<line x1="504.80" y1="208.67" x2="507.10" y2="208.67" stroke="#808080" stroke-width="0.8"/>
<line x1="504.80" y1="193.16" x2="507.10" y2="193.16" stroke="#808080" stroke-width="0.8"/>
<line x1="504.80" y1="180.50" x2="507.10" y2="180.50" stroke="#808080" stroke-width="0.8"/>
<line x1="504.80" y1="169.78" x2="507.10" y2="169.78" stroke="#808080" stroke-width="0.8"/>
<line x1="504.80" y1="160.51" x2="507.10" y2="160.51" stroke="#808080" stroke-width="0.8"/>
<line x1="504.80" y1="152.32" x2="507.10" y2="152.32" stroke="#808080" stroke-width="0.8"/>
<line x1="504.80" y1="145.00" x2="508.20" y2="145.00" stroke="#808080" stroke-width="0.8"/>
<text x="501.20" y="147.80" font-size="7.8" text-anchor="end" fill="#111">10<tspan font-size="5.6" dy="-3.2">-3</tspan></text>
<text x="501.20" y="311.10" font-size="7.8" text-anchor="end" fill="#111">10<tspan font-size="5.6" dy="-3.2">-4</tspan></text>
<line x1="504.80" y1="309.30" x2="504.80" y2="305.90" stroke="#808080" stroke-width="0.8"/>
<text x="504.80" y="320.00" font-size="8.0" text-anchor="middle" fill="#111" font-weight="normal"  >0.1</text>
<line x1="562.30" y1="309.30" x2="562.30" y2="305.90" stroke="#808080" stroke-width="0.8"/>
<text x="562.30" y="320.00" font-size="8.0" text-anchor="middle" fill="#111" font-weight="normal"  >0.2</text>
<line x1="619.80" y1="309.30" x2="619.80" y2="305.90" stroke="#808080" stroke-width="0.8"/>
<text x="619.80" y="320.00" font-size="8.0" text-anchor="middle" fill="#111" font-weight="normal"  >0.3</text>
<line x1="677.30" y1="309.30" x2="677.30" y2="305.90" stroke="#808080" stroke-width="0.8"/>
<text x="677.30" y="320.00" font-size="8.0" text-anchor="middle" fill="#111" font-weight="normal"  >0.4</text>
<text x="590.00" y="333.00" font-size="8.1" text-anchor="middle" fill="#111"><tspan font-style="italic">ε</tspan><tspan font-size="5.2" dy="2.2">limit</tspan><tspan dy="-2.2"> for </tspan><tspan font-style="italic">σ</tspan><tspan font-size="5.2" dy="2.2">y</tspan><tspan dy="-2.2"> = 0.09</tspan><tspan font-style="italic">E</tspan><tspan font-size="5.2" dy="2.2">s</tspan></text>
<text transform="translate(484.50,227.50) rotate(-90)" font-size="7.8" text-anchor="middle" fill="#111"><tspan font-style="italic">σ</tspan><tspan font-size="5.2" dy="2.0">bk</tspan><tspan dy="-2.0"></tspan>/<tspan font-style="italic">E</tspan><tspan font-size="5.2" dy="2.0">s</tspan><tspan dy="-2.0"></tspan></text>
<path d="M519.50 170.60 L523.50 200.30 L527.10 222.50 L535.30 240.60 L544.30 257.10 L556.50 271.00 L577.30 284.20 L605.40 296.50 L651.50 308.80" fill="none" stroke="#1f3da0" stroke-width="1.3" stroke-linejoin="round" />
<polygon points="519.50,165.90 523.10,170.60 519.50,175.30 515.90,170.60" fill="#fff" stroke="#1f3da0" stroke-width="1.3"/>
<polygon points="523.50,195.60 527.10,200.30 523.50,205.00 519.90,200.30" fill="#fff" stroke="#1f3da0" stroke-width="1.3"/>
<polygon points="527.10,217.80 530.70,222.50 527.10,227.20 523.50,222.50" fill="#fff" stroke="#1f3da0" stroke-width="1.3"/>
<polygon points="535.30,235.90 538.90,240.60 535.30,245.30 531.70,240.60" fill="#fff" stroke="#1f3da0" stroke-width="1.3"/>
<polygon points="544.30,252.40 547.90,257.10 544.30,261.80 540.70,257.10" fill="#fff" stroke="#1f3da0" stroke-width="1.3"/>
<polygon points="556.50,266.30 560.10,271.00 556.50,275.70 552.90,271.00" fill="#fff" stroke="#1f3da0" stroke-width="1.3"/>
<polygon points="577.30,279.50 580.90,284.20 577.30,288.90 573.70,284.20" fill="#fff" stroke="#1f3da0" stroke-width="1.3"/>
<polygon points="605.40,291.80 609.00,296.50 605.40,301.20 601.80,296.50" fill="#fff" stroke="#1f3da0" stroke-width="1.3"/>
<polygon points="651.50,304.10 655.10,308.80 651.50,313.50 647.90,308.80" fill="#fff" stroke="#1f3da0" stroke-width="1.3"/>
<polygon points="531.00,193.60 532.29,196.22 535.18,196.64 533.09,198.68 533.59,201.56 531.00,200.20 528.41,201.56 528.91,198.68 526.82,196.64 529.71,196.22" fill="white" fill-opacity="1" stroke="#62b844" stroke-width="0.95" stroke-linejoin="miter"/>
<polygon points="531.00,198.60 532.29,201.22 535.18,201.64 533.09,203.68 533.59,206.56 531.00,205.20 528.41,206.56 528.91,203.68 526.82,201.64 529.71,201.22" fill="white" fill-opacity="1" stroke="#62b844" stroke-width="0.95" stroke-linejoin="miter"/>
<polygon points="531.00,203.60 532.29,206.22 535.18,206.64 533.09,208.68 533.59,211.56 531.00,210.20 528.41,211.56 528.91,208.68 526.82,206.64 529.71,206.22" fill="white" fill-opacity="1" stroke="#62b844" stroke-width="0.95" stroke-linejoin="miter"/>
<polygon points="531.00,208.60 532.29,211.22 535.18,211.64 533.09,213.68 533.59,216.56 531.00,215.20 528.41,216.56 528.91,213.68 526.82,211.64 529.71,211.22" fill="white" fill-opacity="1" stroke="#62b844" stroke-width="0.95" stroke-linejoin="miter"/>
<polygon points="531.00,213.60 532.29,216.22 535.18,216.64 533.09,218.68 533.59,221.56 531.00,220.20 528.41,221.56 528.91,218.68 526.82,216.64 529.71,216.22" fill="white" fill-opacity="1" stroke="#62b844" stroke-width="0.95" stroke-linejoin="miter"/>
<polygon points="531.00,218.60 532.29,221.22 535.18,221.64 533.09,223.68 533.59,226.56 531.00,225.20 528.41,226.56 528.91,223.68 526.82,221.64 529.71,221.22" fill="white" fill-opacity="1" stroke="#62b844" stroke-width="0.95" stroke-linejoin="miter"/>
<polygon points="531.00,222.60 532.29,225.22 535.18,225.64 533.09,227.68 533.59,230.56 531.00,229.20 528.41,230.56 528.91,227.68 526.82,225.64 529.71,225.22" fill="white" fill-opacity="1" stroke="#62b844" stroke-width="0.95" stroke-linejoin="miter"/>
<path d="M533.70 200.00 L562.40 214.20 L618.00 230.00 L650.80 242.30 L662.00 255.80 L677.70 269.20" fill="none" stroke="#fa6c46" stroke-width="1.4" stroke-linejoin="round" />
<polygon points="533.70,194.10 535.43,197.61 539.31,198.18 536.51,200.91 537.17,204.77 533.70,202.95 530.23,204.77 530.89,200.91 528.09,198.18 531.97,197.61" fill="#fa6c46" stroke="none" stroke-width="0" stroke-linejoin="round"/>
<polygon points="562.40,208.30 564.13,211.81 568.01,212.38 565.21,215.11 565.87,218.97 562.40,217.15 558.93,218.97 559.59,215.11 556.79,212.38 560.67,211.81" fill="#fa6c46" stroke="none" stroke-width="0" stroke-linejoin="round"/>
<polygon points="618.00,224.10 619.73,227.61 623.61,228.18 620.81,230.91 621.47,234.77 618.00,232.95 614.53,234.77 615.19,230.91 612.39,228.18 616.27,227.61" fill="#fa6c46" stroke="none" stroke-width="0" stroke-linejoin="round"/>
<polygon points="650.80,236.40 652.53,239.91 656.41,240.48 653.61,243.21 654.27,247.07 650.80,245.25 647.33,247.07 647.99,243.21 645.19,240.48 649.07,239.91" fill="#fa6c46" stroke="none" stroke-width="0" stroke-linejoin="round"/>
<polygon points="662.00,249.90 663.73,253.41 667.61,253.98 664.81,256.71 665.47,260.57 662.00,258.75 658.53,260.57 659.19,256.71 656.39,253.98 660.27,253.41" fill="#fa6c46" stroke="none" stroke-width="0" stroke-linejoin="round"/>
<polygon points="677.70,263.30 679.43,266.81 683.31,267.38 680.51,270.11 681.17,273.97 677.70,272.15 674.23,273.97 674.89,270.11 672.09,267.38 675.97,266.81" fill="#fa6c46" stroke="none" stroke-width="0" stroke-linejoin="round"/>
<text x="529.40" y="192.80" font-size="7.4" fill="#111"><tspan font-style="italic">R</tspan> = 4</text>
<text x="555.80" y="228.00" font-size="7.4" fill="#111"><tspan font-style="italic">R</tspan> = 5</text>
<text x="596.00" y="242.00" font-size="7.4" fill="#111"><tspan font-style="italic">R</tspan> = 6</text>
<text x="627.00" y="254.00" font-size="7.4" fill="#111"><tspan font-style="italic">R</tspan> = 7</text>
<text x="638.00" y="266.50" font-size="7.4" fill="#111"><tspan font-style="italic">R</tspan> = 8</text>
<line x1="598.00" y1="145.20" x2="598.00" y2="196.20" stroke="#808080" stroke-width="0.8"/>
<line x1="598.00" y1="196.20" x2="677.00" y2="196.20" stroke="#808080" stroke-width="0.8"/>
<line x1="598.00" y1="196.26" x2="600.30" y2="196.26" stroke="#808080" stroke-width="0.8"/>
<line x1="598.00" y1="194.50" x2="601.40" y2="194.50" stroke="#808080" stroke-width="0.8"/>
<line x1="598.00" y1="182.91" x2="600.30" y2="182.91" stroke="#808080" stroke-width="0.8"/>
<line x1="598.00" y1="176.13" x2="600.30" y2="176.13" stroke="#808080" stroke-width="0.8"/>
<line x1="598.00" y1="171.32" x2="600.30" y2="171.32" stroke="#808080" stroke-width="0.8"/>
<line x1="598.00" y1="167.59" x2="600.30" y2="167.59" stroke="#808080" stroke-width="0.8"/>
<line x1="598.00" y1="164.54" x2="600.30" y2="164.54" stroke="#808080" stroke-width="0.8"/>
<line x1="598.00" y1="161.96" x2="600.30" y2="161.96" stroke="#808080" stroke-width="0.8"/>
<line x1="598.00" y1="159.73" x2="600.30" y2="159.73" stroke="#808080" stroke-width="0.8"/>
<line x1="598.00" y1="157.76" x2="600.30" y2="157.76" stroke="#808080" stroke-width="0.8"/>
<line x1="598.00" y1="156.00" x2="601.40" y2="156.00" stroke="#808080" stroke-width="0.8"/>
<text x="594.40" y="158.80" font-size="7.8" text-anchor="end" fill="#111">10<tspan font-size="5.6" dy="-3.2">-1</tspan></text>
<text x="594.40" y="197.30" font-size="7.8" text-anchor="end" fill="#111">10<tspan font-size="5.6" dy="-3.2">-2</tspan></text>
<line x1="598.00" y1="196.20" x2="598.00" y2="194.00" stroke="#808080" stroke-width="0.8"/>
<text x="598.00" y="204.90" font-size="7.4" text-anchor="middle" fill="#111" font-weight="normal"  >0.05</text>
<line x1="628.35" y1="196.20" x2="628.35" y2="194.00" stroke="#808080" stroke-width="0.8"/>
<text x="628.35" y="204.90" font-size="7.4" text-anchor="middle" fill="#111" font-weight="normal"  >0.10</text>
<line x1="658.70" y1="196.20" x2="658.70" y2="194.00" stroke="#808080" stroke-width="0.8"/>
<text x="658.70" y="204.90" font-size="7.4" text-anchor="middle" fill="#111" font-weight="normal"  >0.15</text>
<text x="637.3" y="214.6" font-size="7.8" text-anchor="middle" fill="#111"><tspan font-style="italic">ρ</tspan>/<tspan font-style="italic">ρ</tspan><tspan font-size="5.2" dy="2.4">s</tspan></text>
<text transform="translate(578.20,174.30) rotate(-90)" font-size="7.9" text-anchor="middle" fill="#111"><tspan font-style="italic">E</tspan>/<tspan font-style="italic">E</tspan><tspan font-size="5.2" dy="2.0">s</tspan><tspan dy="-2.0"></tspan></text>
<path d="M603.10 194.20 L603.10 187.50 L603.60 181.70 L604.70 176.20 L608.20 170.90 L613.50 165.60 L622.00 159.70 L638.40 153.60 L671.00 145.20" fill="none" stroke="#1f3da0" stroke-width="1.1" stroke-linejoin="round" />
<polygon points="603.10,191.00 605.80,194.20 603.10,197.40 600.40,194.20" fill="#fff" stroke="#1f3da0" stroke-width="0.9"/>
<polygon points="603.10,184.30 605.80,187.50 603.10,190.70 600.40,187.50" fill="#fff" stroke="#1f3da0" stroke-width="0.9"/>
<polygon points="603.60,178.50 606.30,181.70 603.60,184.90 600.90,181.70" fill="#fff" stroke="#1f3da0" stroke-width="0.9"/>
<polygon points="604.70,173.00 607.40,176.20 604.70,179.40 602.00,176.20" fill="#fff" stroke="#1f3da0" stroke-width="0.9"/>
<polygon points="608.20,167.70 610.90,170.90 608.20,174.10 605.50,170.90" fill="#fff" stroke="#1f3da0" stroke-width="0.9"/>
<polygon points="613.50,162.40 616.20,165.60 613.50,168.80 610.80,165.60" fill="#fff" stroke="#1f3da0" stroke-width="0.9"/>
<polygon points="622.00,156.50 624.70,159.70 622.00,162.90 619.30,159.70" fill="#fff" stroke="#1f3da0" stroke-width="0.9"/>
<polygon points="638.40,150.40 641.10,153.60 638.40,156.80 635.70,153.60" fill="#fff" stroke="#1f3da0" stroke-width="0.9"/>
<polygon points="671.00,142.00 673.70,145.20 671.00,148.40 668.30,145.20" fill="#fff" stroke="#1f3da0" stroke-width="0.9"/>
<path d="M626.40 168.50 L631.20 167.40 L636.80 166.10 L641.20 165.30 L648.10 163.40 L656.90 161.80" fill="none" stroke="#62b844" stroke-width="0.8" stroke-linejoin="round" />
<polygon points="626.40,165.50 627.28,167.29 629.25,167.57 627.83,168.96 628.16,170.93 626.40,170.00 624.64,170.93 624.97,168.96 623.55,167.57 625.52,167.29" fill="white" fill-opacity="0.0" stroke="#62b844" stroke-width="0.7" stroke-linejoin="miter"/>
<polygon points="631.20,164.40 632.08,166.19 634.05,166.47 632.63,167.86 632.96,169.83 631.20,168.90 629.44,169.83 629.77,167.86 628.35,166.47 630.32,166.19" fill="white" fill-opacity="0.0" stroke="#62b844" stroke-width="0.7" stroke-linejoin="miter"/>
<polygon points="636.80,163.10 637.68,164.89 639.65,165.17 638.23,166.56 638.56,168.53 636.80,167.60 635.04,168.53 635.37,166.56 633.95,165.17 635.92,164.89" fill="white" fill-opacity="0.0" stroke="#62b844" stroke-width="0.7" stroke-linejoin="miter"/>
<polygon points="641.20,162.30 642.08,164.09 644.05,164.37 642.63,165.76 642.96,167.73 641.20,166.80 639.44,167.73 639.77,165.76 638.35,164.37 640.32,164.09" fill="white" fill-opacity="0.0" stroke="#62b844" stroke-width="0.7" stroke-linejoin="miter"/>
<polygon points="648.10,160.40 648.98,162.19 650.95,162.47 649.53,163.86 649.86,165.83 648.10,164.90 646.34,165.83 646.67,163.86 645.25,162.47 647.22,162.19" fill="white" fill-opacity="0.0" stroke="#62b844" stroke-width="0.7" stroke-linejoin="miter"/>
<polygon points="656.90,158.80 657.78,160.59 659.75,160.87 658.33,162.26 658.66,164.23 656.90,163.30 655.14,164.23 655.47,162.26 654.05,160.87 656.02,160.59" fill="white" fill-opacity="0.0" stroke="#62b844" stroke-width="0.7" stroke-linejoin="miter"/>
<path d="M626.40 187.80 L631.20 185.40 L636.80 180.60 L640.80 176.50 L648.10 169.80 L656.90 163.40" fill="none" stroke="#fa6c46" stroke-width="1.0" stroke-linejoin="round" />
<polygon points="626.40,183.90 627.55,186.22 630.11,186.59 628.25,188.40 628.69,190.96 626.40,189.75 624.11,190.96 624.55,188.40 622.69,186.59 625.25,186.22" fill="#fa6c46" stroke="none" stroke-width="0" stroke-linejoin="round"/>
<polygon points="631.20,181.50 632.35,183.82 634.91,184.19 633.05,186.00 633.49,188.56 631.20,187.35 628.91,188.56 629.35,186.00 627.49,184.19 630.05,183.82" fill="#fa6c46" stroke="none" stroke-width="0" stroke-linejoin="round"/>
<polygon points="636.80,176.70 637.95,179.02 640.51,179.39 638.65,181.20 639.09,183.76 636.80,182.55 634.51,183.76 634.95,181.20 633.09,179.39 635.65,179.02" fill="#fa6c46" stroke="none" stroke-width="0" stroke-linejoin="round"/>
<polygon points="640.80,172.60 641.95,174.92 644.51,175.29 642.65,177.10 643.09,179.66 640.80,178.45 638.51,179.66 638.95,177.10 637.09,175.29 639.65,174.92" fill="#fa6c46" stroke="none" stroke-width="0" stroke-linejoin="round"/>
<polygon points="648.10,165.90 649.25,168.22 651.81,168.59 649.95,170.40 650.39,172.96 648.10,171.75 645.81,172.96 646.25,170.40 644.39,168.59 646.95,168.22" fill="#fa6c46" stroke="none" stroke-width="0" stroke-linejoin="round"/>
<polygon points="656.90,159.50 658.05,161.82 660.61,162.19 658.75,164.00 659.19,166.56 656.90,165.35 654.61,166.56 655.05,164.00 653.19,162.19 655.75,161.82" fill="#fa6c46" stroke="none" stroke-width="0" stroke-linejoin="round"/>
<text x="648.90" y="157.60" font-size="7.4" fill="#111"><tspan font-style="italic">R</tspan> = 4</text>
<text x="470.60" y="354.00" font-size="10.2" text-anchor="start" fill="#000" font-weight="bold"  style="stroke:#000;stroke-width:0.25px">h</text>
<path d="M533 400 C545 388 575 368 620 364 C650 362 672 362 676 366 C680 380 681 425 675 440 C650 442 600 440 560 434 C540 430 530 420 533 400 Z" fill="#fff0fc"/>
<line x1="504.80" y1="356.80" x2="504.80" y2="519.90" stroke="#808080" stroke-width="0.8"/>
<line x1="504.80" y1="519.90" x2="678.60" y2="519.90" stroke="#808080" stroke-width="0.8"/>
<line x1="504.80" y1="515.80" x2="508.20" y2="515.80" stroke="#808080" stroke-width="0.8"/>
<text x="500.80" y="518.70" font-size="8.2" text-anchor="end" fill="#111" font-weight="normal"  >0.03</text>
<line x1="504.80" y1="486.94" x2="508.20" y2="486.94" stroke="#808080" stroke-width="0.8"/>
<text x="500.80" y="489.84" font-size="8.2" text-anchor="end" fill="#111" font-weight="normal"  >0.04</text>
<line x1="504.80" y1="458.08" x2="508.20" y2="458.08" stroke="#808080" stroke-width="0.8"/>
<text x="500.80" y="460.98" font-size="8.2" text-anchor="end" fill="#111" font-weight="normal"  >0.05</text>
<line x1="504.80" y1="429.22" x2="508.20" y2="429.22" stroke="#808080" stroke-width="0.8"/>
<text x="500.80" y="432.12" font-size="8.2" text-anchor="end" fill="#111" font-weight="normal"  >0.06</text>
<line x1="504.80" y1="400.36" x2="508.20" y2="400.36" stroke="#808080" stroke-width="0.8"/>
<text x="500.80" y="403.26" font-size="8.2" text-anchor="end" fill="#111" font-weight="normal"  >0.07</text>
<line x1="504.80" y1="371.50" x2="508.20" y2="371.50" stroke="#808080" stroke-width="0.8"/>
<text x="500.80" y="374.40" font-size="8.2" text-anchor="end" fill="#111" font-weight="normal"  >0.08</text>
<line x1="504.80" y1="519.90" x2="504.80" y2="516.50" stroke="#808080" stroke-width="0.8"/>
<text x="504.80" y="530.00" font-size="8.0" text-anchor="middle" fill="#111" font-weight="normal"  >0.1</text>
<line x1="562.60" y1="519.90" x2="562.60" y2="516.50" stroke="#808080" stroke-width="0.8"/>
<text x="562.60" y="530.00" font-size="8.0" text-anchor="middle" fill="#111" font-weight="normal"  >0.2</text>
<line x1="620.40" y1="519.90" x2="620.40" y2="516.50" stroke="#808080" stroke-width="0.8"/>
<text x="620.40" y="530.00" font-size="8.0" text-anchor="middle" fill="#111" font-weight="normal"  >0.3</text>
<line x1="678.20" y1="519.90" x2="678.20" y2="516.50" stroke="#808080" stroke-width="0.8"/>
<text x="678.20" y="530.00" font-size="8.0" text-anchor="middle" fill="#111" font-weight="normal"  >0.4</text>
<text x="592.60" y="542.00" font-size="8.1" text-anchor="middle" fill="#111"><tspan font-style="italic">ε</tspan><tspan font-size="5.2" dy="2.2">limit</tspan><tspan dy="-2.2"> for </tspan><tspan font-style="italic">σ</tspan><tspan font-size="5.2" dy="2.2">y</tspan><tspan dy="-2.2"> = 0.09</tspan><tspan font-style="italic">E</tspan><tspan font-size="5.2" dy="2.2">s</tspan></text>
<text transform="translate(478.00,438.60) rotate(-90)" font-size="8.8" text-anchor="middle" fill="#111"><tspan font-style="italic">ϕ</tspan>/<tspan font-style="italic">ϕ</tspan><tspan font-size="5.2" dy="2.0">s</tspan><tspan dy="-2.0"></tspan></text>
<path d="M520.30 365.20 L523.80 439.40 L528.00 476.90 L535.40 496.30 L544.30 509.80 L557.00 516.70 L578.00 519.80 L606.00 520.60 L653.30 517.90" fill="none" stroke="#1f3da0" stroke-width="1.3" stroke-linejoin="round" />
<polygon points="520.30,360.50 523.90,365.20 520.30,369.90 516.70,365.20" fill="#fff" stroke="#1f3da0" stroke-width="1.3"/>
<polygon points="523.80,434.70 527.40,439.40 523.80,444.10 520.20,439.40" fill="#fff" stroke="#1f3da0" stroke-width="1.3"/>
<polygon points="528.00,472.20 531.60,476.90 528.00,481.60 524.40,476.90" fill="#fff" stroke="#1f3da0" stroke-width="1.3"/>
<polygon points="535.40,491.60 539.00,496.30 535.40,501.00 531.80,496.30" fill="#fff" stroke="#1f3da0" stroke-width="1.3"/>
<polygon points="544.30,505.10 547.90,509.80 544.30,514.50 540.70,509.80" fill="#fff" stroke="#1f3da0" stroke-width="1.3"/>
<polygon points="557.00,512.00 560.60,516.70 557.00,521.40 553.40,516.70" fill="#fff" stroke="#1f3da0" stroke-width="1.3"/>
<polygon points="578.00,515.10 581.60,519.80 578.00,524.50 574.40,519.80" fill="#fff" stroke="#1f3da0" stroke-width="1.3"/>
<polygon points="606.00,515.90 609.60,520.60 606.00,525.30 602.40,520.60" fill="#fff" stroke="#1f3da0" stroke-width="1.3"/>
<polygon points="653.30,513.20 656.90,517.90 653.30,522.60 649.70,517.90" fill="#fff" stroke="#1f3da0" stroke-width="1.3"/>
<path d="M531.90 370.60 L531.90 391.80 L531.90 410.40 L531.90 420.80 L531.90 435.50 L531.90 447.90" fill="none" stroke="#a6d890" stroke-width="1.1" stroke-linejoin="round" />
<polygon points="531.90,365.80 533.31,368.66 536.47,369.12 534.18,371.34 534.72,374.48 531.90,373.00 529.08,374.48 529.62,371.34 527.33,369.12 530.49,368.66" fill="white" fill-opacity="1" stroke="#62b844" stroke-width="1.1" stroke-linejoin="miter"/>
<polygon points="531.90,387.00 533.31,389.86 536.47,390.32 534.18,392.54 534.72,395.68 531.90,394.20 529.08,395.68 529.62,392.54 527.33,390.32 530.49,389.86" fill="white" fill-opacity="1" stroke="#62b844" stroke-width="1.1" stroke-linejoin="miter"/>
<polygon points="531.90,405.60 533.31,408.46 536.47,408.92 534.18,411.14 534.72,414.28 531.90,412.80 529.08,414.28 529.62,411.14 527.33,408.92 530.49,408.46" fill="white" fill-opacity="1" stroke="#62b844" stroke-width="1.1" stroke-linejoin="miter"/>
<polygon points="531.90,416.00 533.31,418.86 536.47,419.32 534.18,421.54 534.72,424.68 531.90,423.20 529.08,424.68 529.62,421.54 527.33,419.32 530.49,418.86" fill="white" fill-opacity="1" stroke="#62b844" stroke-width="1.1" stroke-linejoin="miter"/>
<polygon points="531.90,430.70 533.31,433.56 536.47,434.02 534.18,436.24 534.72,439.38 531.90,437.90 529.08,439.38 529.62,436.24 527.33,434.02 530.49,433.56" fill="white" fill-opacity="1" stroke="#62b844" stroke-width="1.1" stroke-linejoin="miter"/>
<polygon points="531.90,443.10 533.31,445.96 536.47,446.42 534.18,448.64 534.72,451.78 531.90,450.30 529.08,451.78 529.62,448.64 527.33,446.42 530.49,445.96" fill="white" fill-opacity="1" stroke="#62b844" stroke-width="1.1" stroke-linejoin="miter"/>
<path d="M532.70 416.20 L562.40 402.70 L618.90 370.60 L651.80 375.60 L663.40 403.80 L678.80 429.70" fill="none" stroke="#fa6c46" stroke-width="1.4" stroke-linejoin="round" />
<polygon points="532.70,410.30 534.43,413.81 538.31,414.38 535.51,417.11 536.17,420.97 532.70,419.15 529.23,420.97 529.89,417.11 527.09,414.38 530.97,413.81" fill="#fa6c46" stroke="none" stroke-width="0" stroke-linejoin="round"/>
<polygon points="562.40,396.80 564.13,400.31 568.01,400.88 565.21,403.61 565.87,407.47 562.40,405.65 558.93,407.47 559.59,403.61 556.79,400.88 560.67,400.31" fill="#fa6c46" stroke="none" stroke-width="0" stroke-linejoin="round"/>
<polygon points="618.90,364.70 620.63,368.21 624.51,368.78 621.71,371.51 622.37,375.37 618.90,373.55 615.43,375.37 616.09,371.51 613.29,368.78 617.17,368.21" fill="#fa6c46" stroke="none" stroke-width="0" stroke-linejoin="round"/>
<polygon points="651.80,369.70 653.53,373.21 657.41,373.78 654.61,376.51 655.27,380.37 651.80,378.55 648.33,380.37 648.99,376.51 646.19,373.78 650.07,373.21" fill="#fa6c46" stroke="none" stroke-width="0" stroke-linejoin="round"/>
<polygon points="663.40,397.90 665.13,401.41 669.01,401.98 666.21,404.71 666.87,408.57 663.40,406.75 659.93,408.57 660.59,404.71 657.79,401.98 661.67,401.41" fill="#fa6c46" stroke="none" stroke-width="0" stroke-linejoin="round"/>
<polygon points="678.80,423.80 680.53,427.31 684.41,427.88 681.61,430.61 682.27,434.47 678.80,432.65 675.33,434.47 675.99,430.61 673.19,427.88 677.07,427.31" fill="#fa6c46" stroke="none" stroke-width="0" stroke-linejoin="round"/>
<text x="613.00" y="383.00" font-size="7.4" fill="#111"><tspan font-style="italic">R</tspan> = 6</text>
<text x="537.50" y="429.50" font-size="7.4" fill="#111"><tspan font-style="italic">R</tspan> = 4</text>
<line x1="554.00" y1="467.20" x2="585.00" y2="467.20" stroke="#1f3da0" stroke-width="1.3"/>
<polygon points="569.50,462.80 572.80,467.20 569.50,471.60 566.20,467.20" fill="#fff" stroke="#1f3da0" stroke-width="1.1"/>
<text x="590.70" y="469.60" font-size="8.0" text-anchor="start" fill="#111" font-weight="normal"  >Plate-based prism</text>
<line x1="554.00" y1="479.00" x2="585.00" y2="479.00" stroke="#fa6c46" stroke-width="1.1"/>
<polygon points="569.50,473.60 571.09,476.82 574.64,477.33 572.07,479.83 572.67,483.37 569.50,481.70 566.33,483.37 566.93,479.83 564.36,477.33 567.91,476.82" fill="#fa6c46" stroke="none" stroke-width="0" stroke-linejoin="round"/>
<text x="590.70" y="481.50" font-size="8.0" text-anchor="start" fill="#111" font-weight="normal"  >Chiral buckling</text>
<line x1="554.00" y1="490.60" x2="585.00" y2="490.60" stroke="#62b844" stroke-width="1.2"/>
<polygon points="569.50,485.80 570.91,488.66 574.07,489.12 571.78,491.34 572.32,494.48 569.50,493.00 566.68,494.48 567.22,491.34 564.93,489.12 568.09,488.66" fill="white" fill-opacity="1" stroke="#62b844" stroke-width="1.1" stroke-linejoin="miter"/>
<text x="590.70" y="494.10" font-size="8.0" text-anchor="start" fill="#111" font-weight="normal"  >Nonchiral buckling</text>
<defs><linearGradient id="gside" x1="0" x2="1" y1="0" y2="0"><stop offset="0" stop-color="#8a8a8a"/><stop offset="0.35" stop-color="#c6c6c6"/><stop offset="0.7" stop-color="#b4b4b4"/><stop offset="1" stop-color="#848484"/></linearGradient><linearGradient id="gtop" x1="0" x2="1" y1="0" y2="1"><stop offset="0" stop-color="#d2d2d2"/><stop offset="1" stop-color="#bebebe"/></linearGradient><linearGradient id="cbar" x1="0" x2="0" y1="0" y2="1"><stop offset="0" stop-color="#e8001c"/><stop offset="0.15" stop-color="#ff7a00"/><stop offset="0.32" stop-color="#f2e600"/><stop offset="0.5" stop-color="#3cc81e"/><stop offset="0.7" stop-color="#00d2c8"/><stop offset="0.85" stop-color="#10b4f0"/><stop offset="1" stop-color="#1eaaf0"/></linearGradient><linearGradient id="gwall" x1="0" x2="1" y1="0" y2="0"><stop offset="0" stop-color="#d0d0d0"/><stop offset="0.5" stop-color="#a0a0a0"/><stop offset="1" stop-color="#686868"/></linearGradient><linearGradient id="rod" x1="0" x2="0" y1="0" y2="1"><stop offset="0" stop-color="#e6e6e6"/><stop offset="0.5" stop-color="#9c9c9c"/><stop offset="1" stop-color="#6a6a6a"/></linearGradient></defs>
<text x="-0.40" y="9.00" font-size="10.2" text-anchor="start" fill="#000" font-weight="bold"  style="stroke:#000;stroke-width:0.25px">a</text>
<text transform="translate(15,69.3) rotate(-90)" font-size="7.95" text-anchor="middle" fill="#111">Models and</text>
<text transform="translate(24.5,68.2) rotate(-90)" font-size="7.95" text-anchor="middle" fill="#111">deformation modes</text>
<path d="M41.50 66.50 A24.50 6.60 0 0 0 90.50 66.50 L90.50 74.00 A24.50 6.60 0 0 1 41.50 74.00 Z" fill="url(#gside)"/>
<ellipse cx="66.00" cy="66.50" rx="24.50" ry="6.60" fill="url(#gtop)"/>
<path d="M87.3 32.7 L87.2 33.6 L86.7 34.5 L85.8 35.4 L84.6 36.4 L83.1 37.4 L81.3 38.5 L79.2 39.7 L76.8 40.9 L74.3 42.3 L71.7 43.7 L69.0 45.3 L66.4 47.0 L63.7 48.7 L61.2 50.6 L58.9 52.6 L56.7 54.6 L54.7 56.8 L53.0 58.9 L51.6 61.2" fill="none" stroke="#1888c8" stroke-width="7.00" stroke-linecap="round" stroke-linejoin="round"/>
<path d="M87.3 32.7 L87.2 33.6 L86.7 34.5 L85.8 35.4 L84.6 36.4 L83.1 37.4 L81.3 38.5 L79.2 39.7 L76.8 40.9 L74.3 42.3 L71.7 43.7 L69.0 45.3 L66.4 47.0 L63.7 48.7 L61.2 50.6 L58.9 52.6 L56.7 54.6 L54.7 56.8 L53.0 58.9 L51.6 61.2" fill="none" stroke="#2aa83a" stroke-width="4.34" stroke-linecap="round" stroke-linejoin="round" transform="translate(0.5,-0.7)"/>
<path d="M87.3 32.7 L87.2 33.6 L86.7 34.5 L85.8 35.4 L84.6 36.4 L83.1 37.4 L81.3 38.5 L79.2 39.7 L76.8 40.9 L74.3 42.3 L71.7 43.7 L69.0 45.3 L66.4 47.0 L63.7 48.7 L61.2 50.6 L58.9 52.6 L56.7 54.6 L54.7 56.8 L53.0 58.9 L51.6 61.2" fill="none" stroke="#d4c420" stroke-width="2.10" stroke-linecap="round" stroke-linejoin="round" transform="translate(1.0,-1.5)"/>
<path d="M78.2 20.6 L76.5 21.8 L74.5 23.0 L72.4 24.3 L70.0 25.7 L67.5 27.1 L64.9 28.7 L62.3 30.4 L59.6 32.2 L57.0 34.1 L54.5 36.0 L52.2 38.1 L50.2 40.3 L48.4 42.6 L46.8 44.9 L45.7 47.3 L44.9 49.7 L44.4 52.1 L44.3 54.6 L44.6 57.0" fill="none" stroke="#2a9a3a" stroke-width="7.00" stroke-linecap="round" stroke-linejoin="round"/>
<path d="M78.2 20.6 L76.5 21.8 L74.5 23.0 L72.4 24.3 L70.0 25.7 L67.5 27.1 L64.9 28.7 L62.3 30.4 L59.6 32.2 L57.0 34.1 L54.5 36.0 L52.2 38.1 L50.2 40.3 L48.4 42.6 L46.8 44.9 L45.7 47.3 L44.9 49.7 L44.4 52.1 L44.3 54.6 L44.6 57.0" fill="none" stroke="#d8b020" stroke-width="4.34" stroke-linecap="round" stroke-linejoin="round" transform="translate(0.5,-0.7)"/>
<path d="M78.2 20.6 L76.5 21.8 L74.5 23.0 L72.4 24.3 L70.0 25.7 L67.5 27.1 L64.9 28.7 L62.3 30.4 L59.6 32.2 L57.0 34.1 L54.5 36.0 L52.2 38.1 L50.2 40.3 L48.4 42.6 L46.8 44.9 L45.7 47.3 L44.9 49.7 L44.4 52.1 L44.3 54.6 L44.6 57.0" fill="none" stroke="#e04a20" stroke-width="2.10" stroke-linecap="round" stroke-linejoin="round" transform="translate(1.0,-1.5)"/>
<path d="M85.1 23.9 L84.9 24.9 L84.4 25.8 L83.5 26.8 L82.4 27.8 L80.9 28.9 L79.1 30.0 L77.0 31.2 L74.8 32.4 L72.3 33.8 L69.7 35.2 L67.0 36.8 L64.3 38.5 L61.6 40.2 L58.9 42.1 L56.5 44.1 L54.2 46.2 L52.2 48.4 L50.4 50.6 L48.9 52.9 L47.8 55.3 L47.0 57.6 L46.5 60.0 L46.4 62.4 L46.5 64.8" fill="none" stroke="#1888c8" stroke-width="7.00" stroke-linecap="round" stroke-linejoin="round"/>
<path d="M85.1 23.9 L84.9 24.9 L84.4 25.8 L83.5 26.8 L82.4 27.8 L80.9 28.9 L79.1 30.0 L77.0 31.2 L74.8 32.4 L72.3 33.8 L69.7 35.2 L67.0 36.8 L64.3 38.5 L61.6 40.2 L58.9 42.1 L56.5 44.1 L54.2 46.2 L52.2 48.4 L50.4 50.6 L48.9 52.9 L47.8 55.3 L47.0 57.6 L46.5 60.0 L46.4 62.4 L46.5 64.8" fill="none" stroke="#2aa83a" stroke-width="4.34" stroke-linecap="round" stroke-linejoin="round" transform="translate(0.5,-0.7)"/>
<path d="M85.1 23.9 L84.9 24.9 L84.4 25.8 L83.5 26.8 L82.4 27.8 L80.9 28.9 L79.1 30.0 L77.0 31.2 L74.8 32.4 L72.3 33.8 L69.7 35.2 L67.0 36.8 L64.3 38.5 L61.6 40.2 L58.9 42.1 L56.5 44.1 L54.2 46.2 L52.2 48.4 L50.4 50.6 L48.9 52.9 L47.8 55.3 L47.0 57.6 L46.5 60.0 L46.4 62.4 L46.5 64.8" fill="none" stroke="#d4c420" stroke-width="2.10" stroke-linecap="round" stroke-linejoin="round" transform="translate(1.0,-1.5)"/>
<path d="M88.5 41.6 L88.4 42.5 L87.9 43.4 L87.0 44.3 L85.8 45.2 L84.3 46.3 L82.5 47.3 L80.4 48.5 L78.1 49.8 L75.8 51.1 L73.3 52.6 L70.7 54.2 L68.2 55.8 L65.8 57.6 L63.5 59.4" fill="none" stroke="#1a8a9a" stroke-width="7.00" stroke-linecap="round" stroke-linejoin="round"/>
<path d="M88.5 41.6 L88.4 42.5 L87.9 43.4 L87.0 44.3 L85.8 45.2 L84.3 46.3 L82.5 47.3 L80.4 48.5 L78.1 49.8 L75.8 51.1 L73.3 52.6 L70.7 54.2 L68.2 55.8 L65.8 57.6 L63.5 59.4" fill="none" stroke="#44b030" stroke-width="4.34" stroke-linecap="round" stroke-linejoin="round" transform="translate(0.5,-0.7)"/>
<path d="M88.5 41.6 L88.4 42.5 L87.9 43.4 L87.0 44.3 L85.8 45.2 L84.3 46.3 L82.5 47.3 L80.4 48.5 L78.1 49.8 L75.8 51.1 L73.3 52.6 L70.7 54.2 L68.2 55.8 L65.8 57.6 L63.5 59.4" fill="none" stroke="#e0b818" stroke-width="2.10" stroke-linecap="round" stroke-linejoin="round" transform="translate(1.0,-1.5)"/>
<path d="M65.5 19.3 L63.1 21.0 L60.7 22.7 L58.2 24.4 L55.8 26.3 L53.4 28.3 L51.2 30.4 L49.2 32.6 L47.4 34.8 L45.9 37.1 L44.8 39.5 L43.9 41.9 L43.5 44.4 L43.4 46.8" fill="none" stroke="#1888c8" stroke-width="7.00" stroke-linecap="round" stroke-linejoin="round"/>
<path d="M65.5 19.3 L63.1 21.0 L60.7 22.7 L58.2 24.4 L55.8 26.3 L53.4 28.3 L51.2 30.4 L49.2 32.6 L47.4 34.8 L45.9 37.1 L44.8 39.5 L43.9 41.9 L43.5 44.4 L43.4 46.8" fill="none" stroke="#30a838" stroke-width="4.34" stroke-linecap="round" stroke-linejoin="round" transform="translate(0.5,-0.7)"/>
<path d="M65.5 19.3 L63.1 21.0 L60.7 22.7 L58.2 24.4 L55.8 26.3 L53.4 28.3 L51.2 30.4 L49.2 32.6 L47.4 34.8 L45.9 37.1 L44.8 39.5 L43.9 41.9 L43.5 44.4 L43.4 46.8" fill="none" stroke="#c8c820" stroke-width="2.10" stroke-linecap="round" stroke-linejoin="round" transform="translate(1.0,-1.5)"/>
<path d="M88.2 51.4 L87.7 52.3 L86.9 53.3 L85.7 54.3 L84.3 55.3 L82.6 56.4 L80.7 57.6 L78.6 58.9 L76.5 60.2" fill="none" stroke="#1888c8" stroke-width="7.00" stroke-linecap="round" stroke-linejoin="round"/>
<path d="M88.2 51.4 L87.7 52.3 L86.9 53.3 L85.7 54.3 L84.3 55.3 L82.6 56.4 L80.7 57.6 L78.6 58.9 L76.5 60.2" fill="none" stroke="#30a838" stroke-width="4.34" stroke-linecap="round" stroke-linejoin="round" transform="translate(0.5,-0.7)"/>
<path d="M88.2 51.4 L87.7 52.3 L86.9 53.3 L85.7 54.3 L84.3 55.3 L82.6 56.4 L80.7 57.6 L78.6 58.9 L76.5 60.2" fill="none" stroke="#c8c820" stroke-width="2.10" stroke-linecap="round" stroke-linejoin="round" transform="translate(1.0,-1.5)"/>
<path d="M53.1 20.8 L51.1 22.8 L49.3 25.0 L47.7 27.2 L46.3 29.5 L45.2 31.8 L44.5 34.2 L44.0 36.6 L44.0 39.1" fill="none" stroke="#1a8a9a" stroke-width="7.00" stroke-linecap="round" stroke-linejoin="round"/>
<path d="M53.1 20.8 L51.1 22.8 L49.3 25.0 L47.7 27.2 L46.3 29.5 L45.2 31.8 L44.5 34.2 L44.0 36.6 L44.0 39.1" fill="none" stroke="#44b030" stroke-width="4.34" stroke-linecap="round" stroke-linejoin="round" transform="translate(0.5,-0.7)"/>
<path d="M53.1 20.8 L51.1 22.8 L49.3 25.0 L47.7 27.2 L46.3 29.5 L45.2 31.8 L44.5 34.2 L44.0 36.6 L44.0 39.1" fill="none" stroke="#e0b818" stroke-width="2.10" stroke-linecap="round" stroke-linejoin="round" transform="translate(1.0,-1.5)"/>
<path d="M86.3 61.3 L85.6 62.3 L84.6 63.3" fill="none" stroke="#2a9a3a" stroke-width="7.00" stroke-linecap="round" stroke-linejoin="round"/>
<path d="M86.3 61.3 L85.6 62.3 L84.6 63.3" fill="none" stroke="#d8b020" stroke-width="4.34" stroke-linecap="round" stroke-linejoin="round" transform="translate(0.5,-0.7)"/>
<path d="M86.3 61.3 L85.6 62.3 L84.6 63.3" fill="none" stroke="#e04a20" stroke-width="2.10" stroke-linecap="round" stroke-linejoin="round" transform="translate(1.0,-1.5)"/>
<path d="M46.7 24.1 L46.1 26.5 L45.8 28.9" fill="none" stroke="#1888c8" stroke-width="7.00" stroke-linecap="round" stroke-linejoin="round"/>
<path d="M46.7 24.1 L46.1 26.5 L45.8 28.9" fill="none" stroke="#2aa83a" stroke-width="4.34" stroke-linecap="round" stroke-linejoin="round" transform="translate(0.5,-0.7)"/>
<path d="M46.7 24.1 L46.1 26.5 L45.8 28.9" fill="none" stroke="#d4c420" stroke-width="2.10" stroke-linecap="round" stroke-linejoin="round" transform="translate(1.0,-1.5)"/>
<path d="M83.1 27.7 L84.5 28.8 L85.6 29.8 L86.5 30.8 L87.1 31.8 L87.3 32.7" fill="none" stroke="#1888c8" stroke-width="7.00" stroke-linecap="round" stroke-linejoin="round"/>
<path d="M83.1 27.7 L84.5 28.8 L85.6 29.8 L86.5 30.8 L87.1 31.8 L87.3 32.7" fill="none" stroke="#2aa83a" stroke-width="4.34" stroke-linecap="round" stroke-linejoin="round" transform="translate(0.5,-0.7)"/>
<path d="M83.1 27.7 L84.5 28.8 L85.6 29.8 L86.5 30.8 L87.1 31.8 L87.3 32.7" fill="none" stroke="#d4c420" stroke-width="2.10" stroke-linecap="round" stroke-linejoin="round" transform="translate(1.0,-1.5)"/>
<path d="M44.6 57.0 L45.2 59.4 L46.2 61.7 L47.4 64.0 L48.9 66.3 L50.5 68.4" fill="none" stroke="#2a9a3a" stroke-width="7.00" stroke-linecap="round" stroke-linejoin="round"/>
<path d="M44.6 57.0 L45.2 59.4 L46.2 61.7 L47.4 64.0 L48.9 66.3 L50.5 68.4" fill="none" stroke="#d8b020" stroke-width="4.34" stroke-linecap="round" stroke-linejoin="round" transform="translate(0.5,-0.7)"/>
<path d="M44.6 57.0 L45.2 59.4 L46.2 61.7 L47.4 64.0 L48.9 66.3 L50.5 68.4" fill="none" stroke="#e04a20" stroke-width="2.10" stroke-linecap="round" stroke-linejoin="round" transform="translate(1.0,-1.5)"/>
<path d="M73.1 30.3 L75.4 31.8 L77.7 33.1 L79.9 34.5 L81.9 35.7 L83.7 36.8 L85.3 37.9 L86.6 38.9 L87.6 39.8 L88.2 40.7 L88.5 41.6" fill="none" stroke="#1a8a9a" stroke-width="7.00" stroke-linecap="round" stroke-linejoin="round"/>
<path d="M73.1 30.3 L75.4 31.8 L77.7 33.1 L79.9 34.5 L81.9 35.7 L83.7 36.8 L85.3 37.9 L86.6 38.9 L87.6 39.8 L88.2 40.7 L88.5 41.6" fill="none" stroke="#44b030" stroke-width="4.34" stroke-linecap="round" stroke-linejoin="round" transform="translate(0.5,-0.7)"/>
<path d="M73.1 30.3 L75.4 31.8 L77.7 33.1 L79.9 34.5 L81.9 35.7 L83.7 36.8 L85.3 37.9 L86.6 38.9 L87.6 39.8 L88.2 40.7 L88.5 41.6" fill="none" stroke="#e0b818" stroke-width="2.10" stroke-linecap="round" stroke-linejoin="round" transform="translate(1.0,-1.5)"/>
<path d="M43.4 46.8 L43.7 49.3 L44.4 51.7 L45.4 54.1 L46.8 56.4 L48.4 58.7 L50.3 60.9 L52.4 63.0 L54.7 65.0 L57.0 66.9 L59.4 68.8 L61.8 70.5" fill="none" stroke="#1888c8" stroke-width="7.00" stroke-linecap="round" stroke-linejoin="round"/>
<path d="M43.4 46.8 L43.7 49.3 L44.4 51.7 L45.4 54.1 L46.8 56.4 L48.4 58.7 L50.3 60.9 L52.4 63.0 L54.7 65.0 L57.0 66.9 L59.4 68.8 L61.8 70.5" fill="none" stroke="#30a838" stroke-width="4.34" stroke-linecap="round" stroke-linejoin="round" transform="translate(0.5,-0.7)"/>
<path d="M43.4 46.8 L43.7 49.3 L44.4 51.7 L45.4 54.1 L46.8 56.4 L48.4 58.7 L50.3 60.9 L52.4 63.0 L54.7 65.0 L57.0 66.9 L59.4 68.8 L61.8 70.5" fill="none" stroke="#c8c820" stroke-width="2.10" stroke-linecap="round" stroke-linejoin="round" transform="translate(1.0,-1.5)"/>
<path d="M59.8 30.4 L62.0 32.3 L64.3 34.2 L66.8 36.0 L69.3 37.7 L71.9 39.3 L74.4 40.8 L76.9 42.2 L79.3 43.5 L81.5 44.7 L83.4 45.8 L85.1 46.9 L86.4 47.8 L87.4 48.8 L88.0 49.7 L88.3 50.5 L88.2 51.4" fill="none" stroke="#1888c8" stroke-width="7.00" stroke-linecap="round" stroke-linejoin="round"/>
<path d="M59.8 30.4 L62.0 32.3 L64.3 34.2 L66.8 36.0 L69.3 37.7 L71.9 39.3 L74.4 40.8 L76.9 42.2 L79.3 43.5 L81.5 44.7 L83.4 45.8 L85.1 46.9 L86.4 47.8 L87.4 48.8 L88.0 49.7 L88.3 50.5 L88.2 51.4" fill="none" stroke="#30a838" stroke-width="4.34" stroke-linecap="round" stroke-linejoin="round" transform="translate(0.5,-0.7)"/>
<path d="M59.8 30.4 L62.0 32.3 L64.3 34.2 L66.8 36.0 L69.3 37.7 L71.9 39.3 L74.4 40.8 L76.9 42.2 L79.3 43.5 L81.5 44.7 L83.4 45.8 L85.1 46.9 L86.4 47.8 L87.4 48.8 L88.0 49.7 L88.3 50.5 L88.2 51.4" fill="none" stroke="#c8c820" stroke-width="2.10" stroke-linecap="round" stroke-linejoin="round" transform="translate(1.0,-1.5)"/>
<path d="M49.3 27.9 L50.4 30.2 L51.7 32.5 L53.3 34.7 L55.2 36.9 L57.3 39.0 L59.6 41.0 L62.1 42.9 L64.7 44.8 L67.4 46.5 L70.1 48.1 L72.8 49.6 L75.4 51.0 L77.8 52.3 L79.9 53.5 L81.9 54.6 L83.5 55.6 L84.8 56.6 L85.8 57.6 L86.5 58.5 L86.7 59.4 L86.7 60.3 L86.3 61.3" fill="none" stroke="#2a9a3a" stroke-width="7.00" stroke-linecap="round" stroke-linejoin="round"/>
<path d="M49.3 27.9 L50.4 30.2 L51.7 32.5 L53.3 34.7 L55.2 36.9 L57.3 39.0 L59.6 41.0 L62.1 42.9 L64.7 44.8 L67.4 46.5 L70.1 48.1 L72.8 49.6 L75.4 51.0 L77.8 52.3 L79.9 53.5 L81.9 54.6 L83.5 55.6 L84.8 56.6 L85.8 57.6 L86.5 58.5 L86.7 59.4 L86.7 60.3 L86.3 61.3" fill="none" stroke="#d8b020" stroke-width="4.34" stroke-linecap="round" stroke-linejoin="round" transform="translate(0.5,-0.7)"/>
<path d="M49.3 27.9 L50.4 30.2 L51.7 32.5 L53.3 34.7 L55.2 36.9 L57.3 39.0 L59.6 41.0 L62.1 42.9 L64.7 44.8 L67.4 46.5 L70.1 48.1 L72.8 49.6 L75.4 51.0 L77.8 52.3 L79.9 53.5 L81.9 54.6 L83.5 55.6 L84.8 56.6 L85.8 57.6 L86.5 58.5 L86.7 59.4 L86.7 60.3 L86.3 61.3" fill="none" stroke="#e04a20" stroke-width="2.10" stroke-linecap="round" stroke-linejoin="round" transform="translate(1.0,-1.5)"/>
<path d="M45.8 28.9 L45.8 31.3 L46.1 33.7 L46.8 36.1 L47.8 38.4 L49.1 40.7 L50.8 43.0 L52.7 45.2 L54.9 47.4 L57.4 49.4 L59.9 51.3 L62.6 53.1 L65.3 54.9 L68.0 56.5 L70.7 58.0 L73.2 59.4 L75.5 60.7 L77.6 61.9 L79.5 63.0 L81.1 64.1 L82.4 65.2 L83.3 66.2 L84.0 67.2" fill="none" stroke="#1888c8" stroke-width="7.00" stroke-linecap="round" stroke-linejoin="round"/>
<path d="M45.8 28.9 L45.8 31.3 L46.1 33.7 L46.8 36.1 L47.8 38.4 L49.1 40.7 L50.8 43.0 L52.7 45.2 L54.9 47.4 L57.4 49.4 L59.9 51.3 L62.6 53.1 L65.3 54.9 L68.0 56.5 L70.7 58.0 L73.2 59.4 L75.5 60.7 L77.6 61.9 L79.5 63.0 L81.1 64.1 L82.4 65.2 L83.3 66.2 L84.0 67.2" fill="none" stroke="#2aa83a" stroke-width="4.34" stroke-linecap="round" stroke-linejoin="round" transform="translate(0.5,-0.7)"/>
<path d="M45.8 28.9 L45.8 31.3 L46.1 33.7 L46.8 36.1 L47.8 38.4 L49.1 40.7 L50.8 43.0 L52.7 45.2 L54.9 47.4 L57.4 49.4 L59.9 51.3 L62.6 53.1 L65.3 54.9 L68.0 56.5 L70.7 58.0 L73.2 59.4 L75.5 60.7 L77.6 61.9 L79.5 63.0 L81.1 64.1 L82.4 65.2 L83.3 66.2 L84.0 67.2" fill="none" stroke="#d4c420" stroke-width="2.10" stroke-linecap="round" stroke-linejoin="round" transform="translate(1.0,-1.5)"/>
<path d="M44.0 39.1 L44.3 41.5 L44.9 44.0 L46.0 46.4 L47.3 48.7 L49.0 51.0 L51.0 53.2 L53.2 55.3 L55.6 57.4 L58.1 59.3 L60.7 61.1 L63.4 62.8 L65.9 64.4 L68.4 66.0 L70.8 67.4 L73.0 68.7 L75.0 70.0" fill="none" stroke="#1a8a9a" stroke-width="7.00" stroke-linecap="round" stroke-linejoin="round"/>
<path d="M44.0 39.1 L44.3 41.5 L44.9 44.0 L46.0 46.4 L47.3 48.7 L49.0 51.0 L51.0 53.2 L53.2 55.3 L55.6 57.4 L58.1 59.3 L60.7 61.1 L63.4 62.8 L65.9 64.4 L68.4 66.0 L70.8 67.4 L73.0 68.7 L75.0 70.0" fill="none" stroke="#44b030" stroke-width="4.34" stroke-linecap="round" stroke-linejoin="round" transform="translate(0.5,-0.7)"/>
<path d="M44.0 39.1 L44.3 41.5 L44.9 44.0 L46.0 46.4 L47.3 48.7 L49.0 51.0 L51.0 53.2 L53.2 55.3 L55.6 57.4 L58.1 59.3 L60.7 61.1 L63.4 62.8 L65.9 64.4 L68.4 66.0 L70.8 67.4 L73.0 68.7 L75.0 70.0" fill="none" stroke="#e0b818" stroke-width="2.10" stroke-linecap="round" stroke-linejoin="round" transform="translate(1.0,-1.5)"/>
<path d="M41.30 16.65 A24.50 7.55 0 0 0 90.30 16.65 L90.30 23.15 A24.50 7.55 0 0 1 41.30 23.15 Z" fill="url(#gside)"/>
<ellipse cx="65.80" cy="16.65" rx="24.50" ry="7.55" fill="url(#gtop)"/>
<ellipse cx="71.50" cy="16.40" rx="4.50" ry="2.50" fill="#8a8a8a"/>
<ellipse cx="71.50" cy="17.15" rx="4.37" ry="1.80" fill="#5a5a5a"/>
<path d="M105.10 67.00 A20.50 5.80 0 0 0 146.10 67.00 L146.10 77.00 A20.50 5.80 0 0 1 105.10 77.00 Z" fill="url(#gside)"/>
<ellipse cx="125.60" cy="67.00" rx="20.50" ry="5.80" fill="url(#gtop)"/>
<ellipse cx="125.60" cy="67.50" rx="14.00" ry="3.50" fill="#8c8c8c"/>
<ellipse cx="125.60" cy="68.55" rx="13.58" ry="2.52" fill="#fff"/>
<path d="M127.4 16.8 L127.5 18.5 L127.5 20.2 L127.6 22.0 L127.7 23.7 L127.7 25.4 L127.8 27.2 L127.8 29.0 L127.9 30.8 L127.9 32.6 L127.9 34.5 L127.9 36.3 L127.9 38.2 L127.9 40.2 L127.9 42.1 L127.9 44.1 L127.9 46.1 L127.8 48.2 L127.8 50.2 L127.7 52.3 L127.7 54.4 L127.6 56.5 L127.5 58.6 L127.5 60.7 L127.4 62.8" fill="none" stroke="#1a70b0" stroke-width="4.40" stroke-linecap="round" stroke-linejoin="round"/>
<path d="M127.4 16.8 L127.5 18.5 L127.5 20.2 L127.6 22.0 L127.7 23.7 L127.7 25.4 L127.8 27.2 L127.8 29.0 L127.9 30.8 L127.9 32.6 L127.9 34.5 L127.9 36.3 L127.9 38.2 L127.9 40.2 L127.9 42.1 L127.9 44.1 L127.9 46.1 L127.8 48.2 L127.8 50.2 L127.7 52.3 L127.7 54.4 L127.6 56.5 L127.5 58.6 L127.5 60.7 L127.4 62.8" fill="none" stroke="#3ab848" stroke-width="2.73" stroke-linecap="round" stroke-linejoin="round" transform="translate(0.5,-0.7)"/>
<path d="M127.4 16.8 L127.5 18.5 L127.5 20.2 L127.6 22.0 L127.7 23.7 L127.7 25.4 L127.8 27.2 L127.8 29.0 L127.9 30.8 L127.9 32.6 L127.9 34.5 L127.9 36.3 L127.9 38.2 L127.9 40.2 L127.9 42.1 L127.9 44.1 L127.9 46.1 L127.8 48.2 L127.8 50.2 L127.7 52.3 L127.7 54.4 L127.6 56.5 L127.5 58.6 L127.5 60.7 L127.4 62.8" fill="none" stroke="#30b0e0" stroke-width="1.32" stroke-linecap="round" stroke-linejoin="round" transform="translate(1.0,-1.5)"/>
<path d="M118.2 17.2 L117.9 19.0 L117.6 20.7 L117.4 22.4 L117.1 24.2 L116.8 26.0 L116.6 27.7 L116.4 29.5 L116.3 31.3 L116.2 33.2 L116.1 35.0 L116.0 36.9 L116.0 38.8 L116.0 40.7 L116.1 42.7 L116.2 44.7 L116.3 46.7 L116.4 48.7 L116.6 50.7 L116.8 52.8 L117.1 54.9 L117.4 56.9 L117.6 59.0 L117.9 61.1 L118.2 63.2" fill="none" stroke="#1a78b8" stroke-width="4.40" stroke-linecap="round" stroke-linejoin="round"/>
<path d="M118.2 17.2 L117.9 19.0 L117.6 20.7 L117.4 22.4 L117.1 24.2 L116.8 26.0 L116.6 27.7 L116.4 29.5 L116.3 31.3 L116.2 33.2 L116.1 35.0 L116.0 36.9 L116.0 38.8 L116.0 40.7 L116.1 42.7 L116.2 44.7 L116.3 46.7 L116.4 48.7 L116.6 50.7 L116.8 52.8 L117.1 54.9 L117.4 56.9 L117.6 59.0 L117.9 61.1 L118.2 63.2" fill="none" stroke="#2ab04a" stroke-width="2.73" stroke-linecap="round" stroke-linejoin="round" transform="translate(0.5,-0.7)"/>
<path d="M118.2 17.2 L117.9 19.0 L117.6 20.7 L117.4 22.4 L117.1 24.2 L116.8 26.0 L116.6 27.7 L116.4 29.5 L116.3 31.3 L116.2 33.2 L116.1 35.0 L116.0 36.9 L116.0 38.8 L116.0 40.7 L116.1 42.7 L116.2 44.7 L116.3 46.7 L116.4 48.7 L116.6 50.7 L116.8 52.8 L117.1 54.9 L117.4 56.9 L117.6 59.0 L117.9 61.1 L118.2 63.2" fill="none" stroke="#48c4e8" stroke-width="1.32" stroke-linecap="round" stroke-linejoin="round" transform="translate(1.0,-1.5)"/>
<path d="M136.1 17.8 L136.5 19.5 L136.9 21.3 L137.3 23.0 L137.7 24.8 L138.0 26.6 L138.3 28.4 L138.6 30.2 L138.8 32.0 L139.0 33.8 L139.2 35.7 L139.2 37.6 L139.3 39.5 L139.2 41.4 L139.2 43.4 L139.0 45.3 L138.8 47.3 L138.6 49.3 L138.3 51.4 L138.0 53.4 L137.7 55.5 L137.3 57.5 L136.9 59.6 L136.5 61.7 L136.1 63.8" fill="none" stroke="#1a78b8" stroke-width="4.40" stroke-linecap="round" stroke-linejoin="round"/>
<path d="M136.1 17.8 L136.5 19.5 L136.9 21.3 L137.3 23.0 L137.7 24.8 L138.0 26.6 L138.3 28.4 L138.6 30.2 L138.8 32.0 L139.0 33.8 L139.2 35.7 L139.2 37.6 L139.3 39.5 L139.2 41.4 L139.2 43.4 L139.0 45.3 L138.8 47.3 L138.6 49.3 L138.3 51.4 L138.0 53.4 L137.7 55.5 L137.3 57.5 L136.9 59.6 L136.5 61.7 L136.1 63.8" fill="none" stroke="#2ab04a" stroke-width="2.73" stroke-linecap="round" stroke-linejoin="round" transform="translate(0.5,-0.7)"/>
<path d="M136.1 17.8 L136.5 19.5 L136.9 21.3 L137.3 23.0 L137.7 24.8 L138.0 26.6 L138.3 28.4 L138.6 30.2 L138.8 32.0 L139.0 33.8 L139.2 35.7 L139.2 37.6 L139.3 39.5 L139.2 41.4 L139.2 43.4 L139.0 45.3 L138.8 47.3 L138.6 49.3 L138.3 51.4 L138.0 53.4 L137.7 55.5 L137.3 57.5 L136.9 59.6 L136.5 61.7 L136.1 63.8" fill="none" stroke="#48c4e8" stroke-width="1.32" stroke-linecap="round" stroke-linejoin="round" transform="translate(1.0,-1.5)"/>
<path d="M111.0 19.0 L110.4 20.7 L109.9 22.5 L109.3 24.4 L108.8 26.2 L108.3 28.0 L107.9 29.8 L107.5 31.6 L107.2 33.5 L106.9 35.4 L106.8 37.2 L106.6 39.1 L106.6 41.0 L106.6 43.0 L106.8 44.9 L106.9 46.9 L107.2 48.8 L107.5 50.8 L107.9 52.8 L108.3 54.8 L108.8 56.8 L109.3 58.9 L109.9 60.9 L110.4 62.9 L111.0 65.0" fill="none" stroke="#1a70b0" stroke-width="4.40" stroke-linecap="round" stroke-linejoin="round"/>
<path d="M111.0 19.0 L110.4 20.7 L109.9 22.5 L109.3 24.4 L108.8 26.2 L108.3 28.0 L107.9 29.8 L107.5 31.6 L107.2 33.5 L106.9 35.4 L106.8 37.2 L106.6 39.1 L106.6 41.0 L106.6 43.0 L106.8 44.9 L106.9 46.9 L107.2 48.8 L107.5 50.8 L107.9 52.8 L108.3 54.8 L108.8 56.8 L109.3 58.9 L109.9 60.9 L110.4 62.9 L111.0 65.0" fill="none" stroke="#3ab848" stroke-width="2.73" stroke-linecap="round" stroke-linejoin="round" transform="translate(0.5,-0.7)"/>
<path d="M111.0 19.0 L110.4 20.7 L109.9 22.5 L109.3 24.4 L108.8 26.2 L108.3 28.0 L107.9 29.8 L107.5 31.6 L107.2 33.5 L106.9 35.4 L106.8 37.2 L106.6 39.1 L106.6 41.0 L106.6 43.0 L106.8 44.9 L106.9 46.9 L107.2 48.8 L107.5 50.8 L107.9 52.8 L108.3 54.8 L108.8 56.8 L109.3 58.9 L109.9 60.9 L110.4 62.9 L111.0 65.0" fill="none" stroke="#30b0e0" stroke-width="1.32" stroke-linecap="round" stroke-linejoin="round" transform="translate(1.0,-1.5)"/>
<path d="M142.0 19.9 L142.7 21.7 L143.3 23.5 L143.9 25.4 L144.5 27.2 L145.0 29.0 L145.5 30.9 L145.9 32.8 L146.3 34.6 L146.6 36.5 L146.8 38.4 L146.9 40.3 L146.9 42.2 L146.9 44.1 L146.8 46.1 L146.6 48.0 L146.3 50.0 L145.9 51.9 L145.5 53.9 L145.0 55.9 L144.5 57.9 L143.9 59.9 L143.3 61.9 L142.7 63.9 L142.0 65.9" fill="none" stroke="#1a70b0" stroke-width="4.40" stroke-linecap="round" stroke-linejoin="round"/>
<path d="M142.0 19.9 L142.7 21.7 L143.3 23.5 L143.9 25.4 L144.5 27.2 L145.0 29.0 L145.5 30.9 L145.9 32.8 L146.3 34.6 L146.6 36.5 L146.8 38.4 L146.9 40.3 L146.9 42.2 L146.9 44.1 L146.8 46.1 L146.6 48.0 L146.3 50.0 L145.9 51.9 L145.5 53.9 L145.0 55.9 L144.5 57.9 L143.9 59.9 L143.3 61.9 L142.7 63.9 L142.0 65.9" fill="none" stroke="#3ab848" stroke-width="2.73" stroke-linecap="round" stroke-linejoin="round" transform="translate(0.5,-0.7)"/>
<path d="M142.0 19.9 L142.7 21.7 L143.3 23.5 L143.9 25.4 L144.5 27.2 L145.0 29.0 L145.5 30.9 L145.9 32.8 L146.3 34.6 L146.6 36.5 L146.8 38.4 L146.9 40.3 L146.9 42.2 L146.9 44.1 L146.8 46.1 L146.6 48.0 L146.3 50.0 L145.9 51.9 L145.5 53.9 L145.0 55.9 L144.5 57.9 L143.9 59.9 L143.3 61.9 L142.7 63.9 L142.0 65.9" fill="none" stroke="#30b0e0" stroke-width="1.32" stroke-linecap="round" stroke-linejoin="round" transform="translate(1.0,-1.5)"/>
<path d="M107.7 21.5 L107.0 23.4 L106.3 25.3 L105.6 27.2 L105.0 29.1 L104.4 31.0 L103.9 32.9 L103.4 34.8 L103.0 36.7 L102.7 38.6 L102.5 40.5 L102.4 42.4 L102.3 44.3 L102.4 46.2 L102.5 48.2 L102.7 50.1 L103.0 52.0 L103.4 53.9 L103.9 55.9 L104.4 57.8 L105.0 59.7 L105.6 61.7 L106.3 63.6 L107.0 65.5 L107.7 67.5" fill="none" stroke="#1a78b8" stroke-width="4.40" stroke-linecap="round" stroke-linejoin="round"/>
<path d="M107.7 21.5 L107.0 23.4 L106.3 25.3 L105.6 27.2 L105.0 29.1 L104.4 31.0 L103.9 32.9 L103.4 34.8 L103.0 36.7 L102.7 38.6 L102.5 40.5 L102.4 42.4 L102.3 44.3 L102.4 46.2 L102.5 48.2 L102.7 50.1 L103.0 52.0 L103.4 53.9 L103.9 55.9 L104.4 57.8 L105.0 59.7 L105.6 61.7 L106.3 63.6 L107.0 65.5 L107.7 67.5" fill="none" stroke="#2ab04a" stroke-width="2.73" stroke-linecap="round" stroke-linejoin="round" transform="translate(0.5,-0.7)"/>
<path d="M107.7 21.5 L107.0 23.4 L106.3 25.3 L105.6 27.2 L105.0 29.1 L104.4 31.0 L103.9 32.9 L103.4 34.8 L103.0 36.7 L102.7 38.6 L102.5 40.5 L102.4 42.4 L102.3 44.3 L102.4 46.2 L102.5 48.2 L102.7 50.1 L103.0 52.0 L103.4 53.9 L103.9 55.9 L104.4 57.8 L105.0 59.7 L105.6 61.7 L106.3 63.6 L107.0 65.5 L107.7 67.5" fill="none" stroke="#48c4e8" stroke-width="1.32" stroke-linecap="round" stroke-linejoin="round" transform="translate(1.0,-1.5)"/>
<path d="M143.5 22.5 L144.2 24.5 L144.9 26.4 L145.6 28.3 L146.2 30.3 L146.8 32.2 L147.3 34.1 L147.8 36.1 L148.2 38.0 L148.5 39.9 L148.7 41.8 L148.8 43.8 L148.9 45.7 L148.8 47.6 L148.7 49.5 L148.5 51.4 L148.2 53.3 L147.8 55.2 L147.3 57.1 L146.8 59.0 L146.2 60.9 L145.6 62.8 L144.9 64.7 L144.2 66.6 L143.5 68.5" fill="none" stroke="#1a78b8" stroke-width="4.40" stroke-linecap="round" stroke-linejoin="round"/>
<path d="M143.5 22.5 L144.2 24.5 L144.9 26.4 L145.6 28.3 L146.2 30.3 L146.8 32.2 L147.3 34.1 L147.8 36.1 L148.2 38.0 L148.5 39.9 L148.7 41.8 L148.8 43.8 L148.9 45.7 L148.8 47.6 L148.7 49.5 L148.5 51.4 L148.2 53.3 L147.8 55.2 L147.3 57.1 L146.8 59.0 L146.2 60.9 L145.6 62.8 L144.9 64.7 L144.2 66.6 L143.5 68.5" fill="none" stroke="#2ab04a" stroke-width="2.73" stroke-linecap="round" stroke-linejoin="round" transform="translate(0.5,-0.7)"/>
<path d="M143.5 22.5 L144.2 24.5 L144.9 26.4 L145.6 28.3 L146.2 30.3 L146.8 32.2 L147.3 34.1 L147.8 36.1 L148.2 38.0 L148.5 39.9 L148.7 41.8 L148.8 43.8 L148.9 45.7 L148.8 47.6 L148.7 49.5 L148.5 51.4 L148.2 53.3 L147.8 55.2 L147.3 57.1 L146.8 59.0 L146.2 60.9 L145.6 62.8 L144.9 64.7 L144.2 66.6 L143.5 68.5" fill="none" stroke="#48c4e8" stroke-width="1.32" stroke-linecap="round" stroke-linejoin="round" transform="translate(1.0,-1.5)"/>
<path d="M109.2 24.1 L108.5 26.1 L107.9 28.1 L107.3 30.1 L106.7 32.1 L106.2 34.1 L105.7 36.1 L105.3 38.1 L104.9 40.0 L104.6 42.0 L104.4 43.9 L104.3 45.9 L104.3 47.8 L104.3 49.7 L104.4 51.6 L104.6 53.5 L104.9 55.4 L105.3 57.2 L105.7 59.1 L106.2 61.0 L106.7 62.8 L107.3 64.6 L107.9 66.5 L108.5 68.3 L109.2 70.1" fill="none" stroke="#1a70b0" stroke-width="4.40" stroke-linecap="round" stroke-linejoin="round"/>
<path d="M109.2 24.1 L108.5 26.1 L107.9 28.1 L107.3 30.1 L106.7 32.1 L106.2 34.1 L105.7 36.1 L105.3 38.1 L104.9 40.0 L104.6 42.0 L104.4 43.9 L104.3 45.9 L104.3 47.8 L104.3 49.7 L104.4 51.6 L104.6 53.5 L104.9 55.4 L105.3 57.2 L105.7 59.1 L106.2 61.0 L106.7 62.8 L107.3 64.6 L107.9 66.5 L108.5 68.3 L109.2 70.1" fill="none" stroke="#3ab848" stroke-width="2.73" stroke-linecap="round" stroke-linejoin="round" transform="translate(0.5,-0.7)"/>
<path d="M109.2 24.1 L108.5 26.1 L107.9 28.1 L107.3 30.1 L106.7 32.1 L106.2 34.1 L105.7 36.1 L105.3 38.1 L104.9 40.0 L104.6 42.0 L104.4 43.9 L104.3 45.9 L104.3 47.8 L104.3 49.7 L104.4 51.6 L104.6 53.5 L104.9 55.4 L105.3 57.2 L105.7 59.1 L106.2 61.0 L106.7 62.8 L107.3 64.6 L107.9 66.5 L108.5 68.3 L109.2 70.1" fill="none" stroke="#30b0e0" stroke-width="1.32" stroke-linecap="round" stroke-linejoin="round" transform="translate(1.0,-1.5)"/>
<path d="M140.2 25.0 L140.8 27.1 L141.3 29.1 L141.9 31.1 L142.4 33.2 L142.9 35.2 L143.3 37.2 L143.7 39.2 L144.0 41.2 L144.3 43.1 L144.4 45.1 L144.6 47.0 L144.6 49.0 L144.6 50.9 L144.4 52.8 L144.3 54.6 L144.0 56.5 L143.7 58.4 L143.3 60.2 L142.9 62.0 L142.4 63.8 L141.9 65.6 L141.3 67.5 L140.8 69.3 L140.2 71.0" fill="none" stroke="#1a70b0" stroke-width="4.40" stroke-linecap="round" stroke-linejoin="round"/>
<path d="M140.2 25.0 L140.8 27.1 L141.3 29.1 L141.9 31.1 L142.4 33.2 L142.9 35.2 L143.3 37.2 L143.7 39.2 L144.0 41.2 L144.3 43.1 L144.4 45.1 L144.6 47.0 L144.6 49.0 L144.6 50.9 L144.4 52.8 L144.3 54.6 L144.0 56.5 L143.7 58.4 L143.3 60.2 L142.9 62.0 L142.4 63.8 L141.9 65.6 L141.3 67.5 L140.8 69.3 L140.2 71.0" fill="none" stroke="#3ab848" stroke-width="2.73" stroke-linecap="round" stroke-linejoin="round" transform="translate(0.5,-0.7)"/>
<path d="M140.2 25.0 L140.8 27.1 L141.3 29.1 L141.9 31.1 L142.4 33.2 L142.9 35.2 L143.3 37.2 L143.7 39.2 L144.0 41.2 L144.3 43.1 L144.4 45.1 L144.6 47.0 L144.6 49.0 L144.6 50.9 L144.4 52.8 L144.3 54.6 L144.0 56.5 L143.7 58.4 L143.3 60.2 L142.9 62.0 L142.4 63.8 L141.9 65.6 L141.3 67.5 L140.8 69.3 L140.2 71.0" fill="none" stroke="#30b0e0" stroke-width="1.32" stroke-linecap="round" stroke-linejoin="round" transform="translate(1.0,-1.5)"/>
<path d="M115.1 26.2 L114.7 28.3 L114.3 30.4 L113.9 32.5 L113.5 34.5 L113.2 36.6 L112.9 38.6 L112.6 40.7 L112.4 42.7 L112.2 44.7 L112.0 46.6 L112.0 48.6 L111.9 50.5 L112.0 52.4 L112.0 54.3 L112.2 56.2 L112.4 58.0 L112.6 59.8 L112.9 61.6 L113.2 63.4 L113.5 65.2 L113.9 67.0 L114.3 68.7 L114.7 70.5 L115.1 72.2" fill="none" stroke="#1a78b8" stroke-width="4.40" stroke-linecap="round" stroke-linejoin="round"/>
<path d="M115.1 26.2 L114.7 28.3 L114.3 30.4 L113.9 32.5 L113.5 34.5 L113.2 36.6 L112.9 38.6 L112.6 40.7 L112.4 42.7 L112.2 44.7 L112.0 46.6 L112.0 48.6 L111.9 50.5 L112.0 52.4 L112.0 54.3 L112.2 56.2 L112.4 58.0 L112.6 59.8 L112.9 61.6 L113.2 63.4 L113.5 65.2 L113.9 67.0 L114.3 68.7 L114.7 70.5 L115.1 72.2" fill="none" stroke="#2ab04a" stroke-width="2.73" stroke-linecap="round" stroke-linejoin="round" transform="translate(0.5,-0.7)"/>
<path d="M115.1 26.2 L114.7 28.3 L114.3 30.4 L113.9 32.5 L113.5 34.5 L113.2 36.6 L112.9 38.6 L112.6 40.7 L112.4 42.7 L112.2 44.7 L112.0 46.6 L112.0 48.6 L111.9 50.5 L112.0 52.4 L112.0 54.3 L112.2 56.2 L112.4 58.0 L112.6 59.8 L112.9 61.6 L113.2 63.4 L113.5 65.2 L113.9 67.0 L114.3 68.7 L114.7 70.5 L115.1 72.2" fill="none" stroke="#48c4e8" stroke-width="1.32" stroke-linecap="round" stroke-linejoin="round" transform="translate(1.0,-1.5)"/>
<path d="M133.0 26.8 L133.3 28.9 L133.6 31.0 L133.8 33.1 L134.1 35.1 L134.4 37.2 L134.6 39.3 L134.8 41.3 L134.9 43.3 L135.0 45.3 L135.1 47.3 L135.2 49.3 L135.2 51.2 L135.2 53.1 L135.1 55.0 L135.0 56.8 L134.9 58.7 L134.8 60.5 L134.6 62.3 L134.4 64.0 L134.1 65.8 L133.8 67.6 L133.6 69.3 L133.3 71.0 L133.0 72.8" fill="none" stroke="#1a78b8" stroke-width="4.40" stroke-linecap="round" stroke-linejoin="round"/>
<path d="M133.0 26.8 L133.3 28.9 L133.6 31.0 L133.8 33.1 L134.1 35.1 L134.4 37.2 L134.6 39.3 L134.8 41.3 L134.9 43.3 L135.0 45.3 L135.1 47.3 L135.2 49.3 L135.2 51.2 L135.2 53.1 L135.1 55.0 L135.0 56.8 L134.9 58.7 L134.8 60.5 L134.6 62.3 L134.4 64.0 L134.1 65.8 L133.8 67.6 L133.6 69.3 L133.3 71.0 L133.0 72.8" fill="none" stroke="#2ab04a" stroke-width="2.73" stroke-linecap="round" stroke-linejoin="round" transform="translate(0.5,-0.7)"/>
<path d="M133.0 26.8 L133.3 28.9 L133.6 31.0 L133.8 33.1 L134.1 35.1 L134.4 37.2 L134.6 39.3 L134.8 41.3 L134.9 43.3 L135.0 45.3 L135.1 47.3 L135.2 49.3 L135.2 51.2 L135.2 53.1 L135.1 55.0 L135.0 56.8 L134.9 58.7 L134.8 60.5 L134.6 62.3 L134.4 64.0 L134.1 65.8 L133.8 67.6 L133.6 69.3 L133.3 71.0 L133.0 72.8" fill="none" stroke="#48c4e8" stroke-width="1.32" stroke-linecap="round" stroke-linejoin="round" transform="translate(1.0,-1.5)"/>
<path d="M123.8 27.2 L123.7 29.3 L123.7 31.4 L123.6 33.5 L123.5 35.6 L123.5 37.7 L123.4 39.8 L123.4 41.8 L123.3 43.9 L123.3 45.9 L123.3 47.9 L123.3 49.8 L123.3 51.8 L123.3 53.7 L123.3 55.5 L123.3 57.4 L123.3 59.2 L123.4 61.0 L123.4 62.8 L123.5 64.6 L123.5 66.3 L123.6 68.0 L123.7 69.8 L123.7 71.5 L123.8 73.2" fill="none" stroke="#1a70b0" stroke-width="4.40" stroke-linecap="round" stroke-linejoin="round"/>
<path d="M123.8 27.2 L123.7 29.3 L123.7 31.4 L123.6 33.5 L123.5 35.6 L123.5 37.7 L123.4 39.8 L123.4 41.8 L123.3 43.9 L123.3 45.9 L123.3 47.9 L123.3 49.8 L123.3 51.8 L123.3 53.7 L123.3 55.5 L123.3 57.4 L123.3 59.2 L123.4 61.0 L123.4 62.8 L123.5 64.6 L123.5 66.3 L123.6 68.0 L123.7 69.8 L123.7 71.5 L123.8 73.2" fill="none" stroke="#3ab848" stroke-width="2.73" stroke-linecap="round" stroke-linejoin="round" transform="translate(0.5,-0.7)"/>
<path d="M123.8 27.2 L123.7 29.3 L123.7 31.4 L123.6 33.5 L123.5 35.6 L123.5 37.7 L123.4 39.8 L123.4 41.8 L123.3 43.9 L123.3 45.9 L123.3 47.9 L123.3 49.8 L123.3 51.8 L123.3 53.7 L123.3 55.5 L123.3 57.4 L123.3 59.2 L123.4 61.0 L123.4 62.8 L123.5 64.6 L123.5 66.3 L123.6 68.0 L123.7 69.8 L123.7 71.5 L123.8 73.2" fill="none" stroke="#30b0e0" stroke-width="1.32" stroke-linecap="round" stroke-linejoin="round" transform="translate(1.0,-1.5)"/>
<path d="M105.10 16.40 A20.50 6.80 0 0 0 146.10 16.40 L146.10 20.90 A20.50 6.80 0 0 1 105.10 20.90 Z" fill="url(#gside)"/>
<ellipse cx="125.60" cy="16.40" rx="20.50" ry="6.80" fill="url(#gtop)"/>
<ellipse cx="126.30" cy="17.40" rx="9.00" ry="3.40" fill="#8c8c8c"/>
<ellipse cx="126.30" cy="18.42" rx="8.73" ry="2.45" fill="#fff"/>
<ellipse cx="186" cy="55.5" rx="29" ry="22.5" fill="#8f8f8f"/>
<ellipse cx="186" cy="52.5" rx="29" ry="22.5" fill="#d2d2d2"/>
<ellipse cx="192" cy="49.5" rx="17" ry="13.5" fill="#fff"/>
<path d="M175 38 C178 37 186 38 192 40" stroke="#9a9a9a" stroke-width="1.5" fill="none"/>
<path d="M180 9 C170 18 164 28 166 40 C168 52 176 62 182 72" fill="none" stroke="#1b8fb0" stroke-width="6.20" stroke-linecap="round"/>
<path d="M180 9 C170 18 164 28 166 40 C168 52 176 62 182 72" fill="none" stroke="#2cc04a" stroke-width="3.10" stroke-linecap="round" transform="translate(-0.7,-0.5)"/>
<path d="M180 9 C170 18 164 28 166 40 C168 52 176 62 182 72" fill="none" stroke="#d8d020" stroke-width="1.74" stroke-linecap="round" transform="translate(0.9,0.4)"/>
<path d="M188 42 C184 34 186 25 197 23.5 C208 23 211 33 207 41 C203 48 194 47 192.5 41 C191.5 36 196 33 200 35.5" fill="none" stroke="#178fa0" stroke-width="5.00" stroke-linecap="round"/>
<path d="M188 42 C184 34 186 25 197 23.5 C208 23 211 33 207 41 C203 48 194 47 192.5 41 C191.5 36 196 33 200 35.5" fill="none" stroke="#2ccd3a" stroke-width="2.50" stroke-linecap="round" transform="translate(-0.7,-0.5)"/>
<path d="M188 42 C184 34 186 25 197 23.5 C208 23 211 33 207 41 C203 48 194 47 192.5 41 C191.5 36 196 33 200 35.5" fill="none" stroke="#0fa0d8" stroke-width="1.40" stroke-linecap="round" transform="translate(0.9,0.4)"/>
<line x1="218.00" y1="44.60" x2="258.80" y2="41.00" stroke="#8e8e8e" stroke-width="2.80" stroke-linecap="round"/>
<line x1="258.80" y1="41.00" x2="280.60" y2="48.00" stroke="#8e8e8e" stroke-width="2.80" stroke-linecap="round"/>
<line x1="218.00" y1="44.20" x2="258.80" y2="40.60" stroke="#d8d8d8" stroke-width="1.40" stroke-linecap="round"/>
<line x1="258.80" y1="40.60" x2="280.60" y2="47.60" stroke="#d8d8d8" stroke-width="1.40" stroke-linecap="round"/>
<path d="M249.6 15.9 C257 22 262 32 258.8 41 C256 52 254 66 249.3 76.6" fill="none" stroke="#18709a" stroke-width="3.10" stroke-linecap="round"/>
<path d="M249.6 15.9 C257 22 262 32 258.8 41 C256 52 254 66 249.3 76.6" fill="none" stroke="#3ab8e0" stroke-width="1.40" stroke-linecap="round" stroke-dasharray="9,2,4,3" transform="translate(0.35,-0.35)"/>
<path d="M249.6 15.9 C257 22 262 32 258.8 41 C256 52 254 66 249.3 76.6" fill="none" stroke="#3cc040" stroke-width="1.86" stroke-dasharray="4,11,3,15" stroke-dashoffset="6"/>
<path d="M249.6 15.9 C257 22 262 32 258.8 41 C256 52 254 66 249.3 76.6" fill="none" stroke="#e8b020" stroke-width="1.40" stroke-dasharray="2,28,1.5,36" stroke-dashoffset="12"/>
<path d="M249.6 15.9 C236 20 226 30 222 37 C219 41 218 43 218 44.6" fill="none" stroke="#18709a" stroke-width="3.10" stroke-linecap="round"/>
<path d="M249.6 15.9 C236 20 226 30 222 37 C219 41 218 43 218 44.6" fill="none" stroke="#3ab8e0" stroke-width="1.40" stroke-linecap="round" stroke-dasharray="9,2,4,3" transform="translate(0.35,-0.35)"/>
<path d="M249.6 15.9 C236 20 226 30 222 37 C219 41 218 43 218 44.6" fill="none" stroke="#3cc040" stroke-width="1.86" stroke-dasharray="4,11,3,15" stroke-dashoffset="6"/>
<path d="M249.6 15.9 C236 20 226 30 222 37 C219 41 218 43 218 44.6" fill="none" stroke="#e8b020" stroke-width="1.40" stroke-dasharray="2,28,1.5,36" stroke-dashoffset="12"/>
<path d="M249.6 15.9 C262 20 272 28 276 36 C279 42 280 45 280.6 48" fill="none" stroke="#18709a" stroke-width="3.10" stroke-linecap="round"/>
<path d="M249.6 15.9 C262 20 272 28 276 36 C279 42 280 45 280.6 48" fill="none" stroke="#3ab8e0" stroke-width="1.40" stroke-linecap="round" stroke-dasharray="9,2,4,3" transform="translate(0.35,-0.35)"/>
<path d="M249.6 15.9 C262 20 272 28 276 36 C279 42 280 45 280.6 48" fill="none" stroke="#3cc040" stroke-width="1.86" stroke-dasharray="4,11,3,15" stroke-dashoffset="6"/>
<path d="M249.6 15.9 C262 20 272 28 276 36 C279 42 280 45 280.6 48" fill="none" stroke="#e8b020" stroke-width="1.40" stroke-dasharray="2,28,1.5,36" stroke-dashoffset="12"/>
<path d="M218 44.6 C220 54 226 62 234 68 C240 72 246 75 249.3 76.6" fill="none" stroke="#18709a" stroke-width="3.10" stroke-linecap="round"/>
<path d="M218 44.6 C220 54 226 62 234 68 C240 72 246 75 249.3 76.6" fill="none" stroke="#3ab8e0" stroke-width="1.40" stroke-linecap="round" stroke-dasharray="9,2,4,3" transform="translate(0.35,-0.35)"/>
<path d="M218 44.6 C220 54 226 62 234 68 C240 72 246 75 249.3 76.6" fill="none" stroke="#3cc040" stroke-width="1.86" stroke-dasharray="4,11,3,15" stroke-dashoffset="6"/>
<path d="M218 44.6 C220 54 226 62 234 68 C240 72 246 75 249.3 76.6" fill="none" stroke="#e8b020" stroke-width="1.40" stroke-dasharray="2,28,1.5,36" stroke-dashoffset="12"/>
<path d="M280.6 48 C278 58 272 66 264 70 C258 73 252 75 249.3 76.6" fill="none" stroke="#18709a" stroke-width="3.10" stroke-linecap="round"/>
<path d="M280.6 48 C278 58 272 66 264 70 C258 73 252 75 249.3 76.6" fill="none" stroke="#3ab8e0" stroke-width="1.40" stroke-linecap="round" stroke-dasharray="9,2,4,3" transform="translate(0.35,-0.35)"/>
<path d="M280.6 48 C278 58 272 66 264 70 C258 73 252 75 249.3 76.6" fill="none" stroke="#3cc040" stroke-width="1.86" stroke-dasharray="4,11,3,15" stroke-dashoffset="6"/>
<path d="M280.6 48 C278 58 272 66 264 70 C258 73 252 75 249.3 76.6" fill="none" stroke="#e8b020" stroke-width="1.40" stroke-dasharray="2,28,1.5,36" stroke-dashoffset="12"/>
<path d="M249.6 15.9 C245 24 241 34 241 42 C241 48 241 51 241 51.9 C241 60 244 70 249.3 76.6" fill="none" stroke="#18709a" stroke-width="3.10" stroke-linecap="round"/>
<path d="M249.6 15.9 C245 24 241 34 241 42 C241 48 241 51 241 51.9 C241 60 244 70 249.3 76.6" fill="none" stroke="#3ab8e0" stroke-width="1.40" stroke-linecap="round" stroke-dasharray="9,2,4,3" transform="translate(0.35,-0.35)"/>
<path d="M249.6 15.9 C245 24 241 34 241 42 C241 48 241 51 241 51.9 C241 60 244 70 249.3 76.6" fill="none" stroke="#3cc040" stroke-width="1.86" stroke-dasharray="4,11,3,15" stroke-dashoffset="6"/>
<path d="M249.6 15.9 C245 24 241 34 241 42 C241 48 241 51 241 51.9 C241 60 244 70 249.3 76.6" fill="none" stroke="#e8b020" stroke-width="1.40" stroke-dasharray="2,28,1.5,36" stroke-dashoffset="12"/>
<line x1="218.00" y1="44.60" x2="241.00" y2="51.90" stroke="#9a9a9a" stroke-width="3.20" stroke-linecap="round"/>
<line x1="241.00" y1="51.90" x2="280.60" y2="48.00" stroke="#9a9a9a" stroke-width="3.20" stroke-linecap="round"/>
<line x1="218.00" y1="44.10" x2="241.00" y2="51.40" stroke="#e2e2e2" stroke-width="1.80" stroke-linecap="round"/>
<line x1="241.00" y1="51.40" x2="280.60" y2="47.50" stroke="#e2e2e2" stroke-width="1.80" stroke-linecap="round"/>
<circle cx="249.60" cy="15.90" r="3.0" fill="#b8b8b8"/><circle cx="249.00" cy="15.30" r="1.8" fill="#e8e8e8"/>
<circle cx="249.30" cy="76.60" r="3.0" fill="#b8b8b8"/><circle cx="248.70" cy="76.00" r="1.8" fill="#e8e8e8"/>
<circle cx="218.00" cy="44.60" r="3.0" fill="#b8b8b8"/><circle cx="217.40" cy="44.00" r="1.8" fill="#e8e8e8"/>
<circle cx="280.60" cy="48.00" r="3.0" fill="#b8b8b8"/><circle cx="280.00" cy="47.40" r="1.8" fill="#e8e8e8"/>
<circle cx="241.00" cy="51.90" r="3.0" fill="#b8b8b8"/><circle cx="240.40" cy="51.30" r="1.8" fill="#e8e8e8"/>
<path d="M317 15.9 C311 17 305 19 301 23 C297 28 294 33 293.9 36.5 M295.9 44.3 C297 49 299 55 302 60 C305 66 310 71 314.3 74.6 L316.3 75.9" fill="none" stroke="#13627e" stroke-width="3.3" stroke-linecap="round"/>
<path d="M317 15.9 C311 17 305 19 301 23 C297 28 294 33 293.9 36.5 M295.9 44.3 C297 49 299 55 302 60 C305 66 310 71 314.3 74.6 L316.3 75.9" fill="none" stroke="#2aa6cc" stroke-width="1.3" stroke-linecap="round" stroke-dasharray="4,2,2,3" transform="translate(0.4,-0.2)"/>
<path d="M317 15.9 C311 17 305 19 301 23 C297 28 294 33 293.9 36.5 M295.9 44.3 C297 49 299 55 302 60 C305 66 310 71 314.3 74.6 L316.3 75.9" fill="none" stroke="#36c23a" stroke-width="1.8" stroke-dasharray="3,8,2,11" stroke-dashoffset="4"/>
<path d="M317 15.9 C311 17 305 19 301 23 C297 28 294 33 293.9 36.5 M295.9 44.3 C297 49 299 55 302 60 C305 66 310 71 314.3 74.6 L316.3 75.9" fill="none" stroke="#f0a018" stroke-width="1.4" stroke-dasharray="1.5,19,1,23" stroke-dashoffset="9"/>
<path d="M319 16.5 C324 19 328 22 331 26 C335 31 338 37 340.7 44.3 M339.4 57.4 C338 61 336 64 334.1 66.7 C330 70 326 72 323.5 73.3 L318.3 75.9" fill="none" stroke="#13627e" stroke-width="3.3" stroke-linecap="round"/>
<path d="M319 16.5 C324 19 328 22 331 26 C335 31 338 37 340.7 44.3 M339.4 57.4 C338 61 336 64 334.1 66.7 C330 70 326 72 323.5 73.3 L318.3 75.9" fill="none" stroke="#2aa6cc" stroke-width="1.3" stroke-linecap="round" stroke-dasharray="4,2,2,3" transform="translate(0.4,-0.2)"/>
<path d="M319 16.5 C324 19 328 22 331 26 C335 31 338 37 340.7 44.3 M339.4 57.4 C338 61 336 64 334.1 66.7 C330 70 326 72 323.5 73.3 L318.3 75.9" fill="none" stroke="#36c23a" stroke-width="1.8" stroke-dasharray="3,8,2,11" stroke-dashoffset="4"/>
<path d="M319 16.5 C324 19 328 22 331 26 C335 31 338 37 340.7 44.3 M339.4 57.4 C338 61 336 64 334.1 66.7 C330 70 326 72 323.5 73.3 L318.3 75.9" fill="none" stroke="#f0a018" stroke-width="1.4" stroke-dasharray="1.5,19,1,23" stroke-dashoffset="9"/>
<linearGradient id="rod2" x1="0" x2="0" y1="0" y2="1" gradientTransform="rotate(12 0.5 0.5)"><stop offset="0" stop-color="#f0f0f0"/><stop offset="0.45" stop-color="#a8a8a8"/><stop offset="1" stop-color="#5e5e5e"/></linearGradient>
<path d="M292 35.5 L341.5 45.6 L340.2 53.4 L290.6 43 Z" fill="url(#rod2)"/>
<ellipse cx="347" cy="50.9" rx="3.2" ry="6.1" fill="#d6d6d6"/>
<ellipse cx="343.3" cy="51.5" rx="4.6" ry="6.3" fill="#555"/>
<ellipse cx="289.9" cy="39.7" rx="4.1" ry="5.9" fill="#5a5a5a"/>
<path d="M313 13.5 L321 13.5 L322 17.5 L314 18 Z" fill="#8c8c8c"/><path d="M312.5 74 L320 74 L320.5 78 L313.5 78 Z" fill="#8c8c8c"/>
<path d="M416.2 49.4 L369.3 30.2" fill="none" stroke="#505050" stroke-width="3.6" stroke-linecap="round"/>
<path d="M416.2 49.4 L369.3 30.2" fill="none" stroke="#8a8a8a" stroke-width="1.9" stroke-linecap="round" transform="translate(-0.3,-0.5)"/>
<path d="M393.2 59.7 Q405.6 55.8 416.2 49.4" fill="none" stroke="#505050" stroke-width="3.4" stroke-linecap="round"/>
<path d="M393.2 59.7 Q405.6 55.8 416.2 49.4" fill="none" stroke="#b0b0b0" stroke-width="1.9" stroke-linecap="round" transform="translate(-0.3,-0.4)"/>
<path d="M416.2 49.4 Q418.1 39.3 415.9 29.5" fill="none" stroke="#505050" stroke-width="3.4" stroke-linecap="round"/>
<path d="M416.2 49.4 Q418.1 39.3 415.9 29.5" fill="none" stroke="#b0b0b0" stroke-width="1.9" stroke-linecap="round" transform="translate(-0.3,-0.4)"/>
<path d="M369.7 50.1 Q380.0 56.2 393.2 59.7" fill="none" stroke="#505050" stroke-width="3.4" stroke-linecap="round"/>
<path d="M369.7 50.1 Q380.0 56.2 393.2 59.7" fill="none" stroke="#b0b0b0" stroke-width="1.9" stroke-linecap="round" transform="translate(-0.3,-0.4)"/>
<path d="M415.9 29.5 Q405.0 23.1 392.4 20.0" fill="none" stroke="#505050" stroke-width="3.4" stroke-linecap="round"/>
<path d="M415.9 29.5 Q405.0 23.1 392.4 20.0" fill="none" stroke="#b0b0b0" stroke-width="1.9" stroke-linecap="round" transform="translate(-0.3,-0.4)"/>
<path d="M369.7 50.1 Q366.9 40.0 369.3 30.2" fill="none" stroke="#505050" stroke-width="3.4" stroke-linecap="round"/>
<path d="M369.7 50.1 Q366.9 40.0 369.3 30.2" fill="none" stroke="#b0b0b0" stroke-width="1.9" stroke-linecap="round" transform="translate(-0.3,-0.4)"/>
<path d="M369.3 30.2 Q379.4 23.4 392.4 20.0" fill="none" stroke="#505050" stroke-width="3.4" stroke-linecap="round"/>
<path d="M369.3 30.2 Q379.4 23.4 392.4 20.0" fill="none" stroke="#b0b0b0" stroke-width="1.9" stroke-linecap="round" transform="translate(-0.3,-0.4)"/>
<path d="M416.2 49.4 Q427.8 50.7 433.6 50.2" fill="none" stroke="#505050" stroke-width="3.4" stroke-linecap="round"/>
<path d="M416.2 49.4 Q427.8 50.7 433.6 50.2" fill="none" stroke="#b0b0b0" stroke-width="1.9" stroke-linecap="round" transform="translate(-0.3,-0.4)"/>
<path d="M387.5 70.8 Q389.8 67.6 393.2 59.7" fill="none" stroke="#505050" stroke-width="3.4" stroke-linecap="round"/>
<path d="M387.5 70.8 Q389.8 67.6 393.2 59.7" fill="none" stroke="#b0b0b0" stroke-width="1.9" stroke-linecap="round" transform="translate(-0.3,-0.4)"/>
<path d="M433.2 30.4 Q427.4 28.8 415.9 29.5" fill="none" stroke="#505050" stroke-width="3.4" stroke-linecap="round"/>
<path d="M433.2 30.4 Q427.4 28.8 415.9 29.5" fill="none" stroke="#b0b0b0" stroke-width="1.9" stroke-linecap="round" transform="translate(-0.3,-0.4)"/>
<path d="M369.7 50.1 Q364.0 57.0 364.0 61.2" fill="none" stroke="#505050" stroke-width="3.4" stroke-linecap="round"/>
<path d="M369.7 50.1 Q364.0 57.0 364.0 61.2" fill="none" stroke="#b0b0b0" stroke-width="1.9" stroke-linecap="round" transform="translate(-0.3,-0.4)"/>
<path d="M386.4 11.2 Q388.8 13.0 392.4 20.0" fill="none" stroke="#505050" stroke-width="3.4" stroke-linecap="round"/>
<path d="M386.4 11.2 Q388.8 13.0 392.4 20.0" fill="none" stroke="#b0b0b0" stroke-width="1.9" stroke-linecap="round" transform="translate(-0.3,-0.4)"/>
<path d="M369.3 30.2 Q363.4 24.3 363.3 21.5" fill="none" stroke="#505050" stroke-width="3.4" stroke-linecap="round"/>
<path d="M369.3 30.2 Q363.4 24.3 363.3 21.5" fill="none" stroke="#b0b0b0" stroke-width="1.9" stroke-linecap="round" transform="translate(-0.3,-0.4)"/>
<path d="M416.2 49.4 L404.8 71.6" fill="none" stroke="#505050" stroke-width="3.6" stroke-linecap="round"/>
<path d="M416.2 49.4 L404.8 71.6" fill="none" stroke="#8a8a8a" stroke-width="1.9" stroke-linecap="round" transform="translate(-0.3,-0.5)"/>
<path d="M387.5 70.8 L433.6 50.2" fill="none" stroke="#505050" stroke-width="3.6" stroke-linecap="round"/>
<path d="M387.5 70.8 L433.6 50.2" fill="none" stroke="#8a8a8a" stroke-width="1.9" stroke-linecap="round" transform="translate(-0.3,-0.5)"/>
<path d="M433.2 30.4 Q437.2 40.2 433.6 50.2" fill="none" stroke="#505050" stroke-width="3.4" stroke-linecap="round"/>
<path d="M433.2 30.4 Q437.2 40.2 433.6 50.2" fill="none" stroke="#b0b0b0" stroke-width="1.9" stroke-linecap="round" transform="translate(-0.3,-0.4)"/>
<path d="M403.7 12.0 L415.9 29.5" fill="none" stroke="#505050" stroke-width="3.6" stroke-linecap="round"/>
<path d="M403.7 12.0 L415.9 29.5" fill="none" stroke="#8a8a8a" stroke-width="1.9" stroke-linecap="round" transform="translate(-0.3,-0.5)"/>
<path d="M433.2 30.4 L386.4 11.2" fill="none" stroke="#505050" stroke-width="3.6" stroke-linecap="round"/>
<path d="M433.2 30.4 L386.4 11.2" fill="none" stroke="#8a8a8a" stroke-width="1.9" stroke-linecap="round" transform="translate(-0.3,-0.5)"/>
<path d="M387.5 70.8 Q373.7 68.4 364.0 61.2" fill="none" stroke="#505050" stroke-width="3.4" stroke-linecap="round"/>
<path d="M387.5 70.8 Q373.7 68.4 364.0 61.2" fill="none" stroke="#b0b0b0" stroke-width="1.9" stroke-linecap="round" transform="translate(-0.3,-0.4)"/>
<path d="M358.0 52.4 L369.3 30.2" fill="none" stroke="#505050" stroke-width="3.6" stroke-linecap="round"/>
<path d="M358.0 52.4 L369.3 30.2" fill="none" stroke="#8a8a8a" stroke-width="1.9" stroke-linecap="round" transform="translate(-0.3,-0.5)"/>
<path d="M369.7 50.1 L357.6 32.6" fill="none" stroke="#505050" stroke-width="3.6" stroke-linecap="round"/>
<path d="M369.7 50.1 L357.6 32.6" fill="none" stroke="#8a8a8a" stroke-width="1.9" stroke-linecap="round" transform="translate(-0.3,-0.5)"/>
<path d="M386.4 11.2 Q372.7 13.8 363.3 21.5" fill="none" stroke="#505050" stroke-width="3.4" stroke-linecap="round"/>
<path d="M386.4 11.2 Q372.7 13.8 363.3 21.5" fill="none" stroke="#b0b0b0" stroke-width="1.9" stroke-linecap="round" transform="translate(-0.3,-0.4)"/>
<path d="M433.6 50.2 Q434.3 57.2 427.9 61.3" fill="none" stroke="#505050" stroke-width="3.4" stroke-linecap="round"/>
<path d="M433.6 50.2 Q434.3 57.2 427.9 61.3" fill="none" stroke="#b0b0b0" stroke-width="1.9" stroke-linecap="round" transform="translate(-0.3,-0.4)"/>
<path d="M387.5 70.8 Q396.2 74.1 404.8 71.6" fill="none" stroke="#505050" stroke-width="3.4" stroke-linecap="round"/>
<path d="M387.5 70.8 Q396.2 74.1 404.8 71.6" fill="none" stroke="#b0b0b0" stroke-width="1.9" stroke-linecap="round" transform="translate(-0.3,-0.4)"/>
<path d="M387.5 70.8 Q396.2 74.1 404.8 71.6" fill="none" stroke="#22a2d4" stroke-width="2.0" stroke-dasharray="9,4" stroke-dashoffset="2" transform="translate(-0.2,-0.3)"/>
<path d="M427.2 21.6 Q433.7 24.5 433.2 30.4" fill="none" stroke="#505050" stroke-width="3.4" stroke-linecap="round"/>
<path d="M427.2 21.6 Q433.7 24.5 433.2 30.4" fill="none" stroke="#b0b0b0" stroke-width="1.9" stroke-linecap="round" transform="translate(-0.3,-0.4)"/>
<path d="M427.2 21.6 Q433.7 24.5 433.2 30.4" fill="none" stroke="#22a2d4" stroke-width="2.0" stroke-dasharray="6,6,3,4" stroke-dashoffset="3" transform="translate(-0.2,-0.3)"/>
<path d="M364.0 61.2 Q357.5 58.3 358.0 52.4" fill="none" stroke="#3c5a66" stroke-width="3.4" stroke-linecap="round"/>
<path d="M364.0 61.2 Q357.5 58.3 358.0 52.4" fill="none" stroke="#dadada" stroke-width="1.9" stroke-linecap="round" transform="translate(-0.3,-0.4)"/>
<path d="M364.0 61.2 Q357.5 58.3 358.0 52.4" fill="none" stroke="#22a2d4" stroke-width="2.0" stroke-dasharray="9,4" stroke-dashoffset="4" transform="translate(-0.2,-0.3)"/>
<path d="M403.7 12.0 Q395.0 8.6 386.4 11.2" fill="none" stroke="#3c5a66" stroke-width="3.4" stroke-linecap="round"/>
<path d="M403.7 12.0 Q395.0 8.6 386.4 11.2" fill="none" stroke="#dadada" stroke-width="1.9" stroke-linecap="round" transform="translate(-0.3,-0.4)"/>
<path d="M403.7 12.0 Q395.0 8.6 386.4 11.2" fill="none" stroke="#22a2d4" stroke-width="2.0" stroke-dasharray="6,6,3,4" stroke-dashoffset="5" transform="translate(-0.2,-0.3)"/>
<path d="M357.6 32.6 Q356.9 25.6 363.3 21.5" fill="none" stroke="#3c5a66" stroke-width="3.4" stroke-linecap="round"/>
<path d="M357.6 32.6 Q356.9 25.6 363.3 21.5" fill="none" stroke="#dadada" stroke-width="1.9" stroke-linecap="round" transform="translate(-0.3,-0.4)"/>
<path d="M357.6 32.6 Q356.9 25.6 363.3 21.5" fill="none" stroke="#22a2d4" stroke-width="2.0" stroke-dasharray="9,4" stroke-dashoffset="6" transform="translate(-0.2,-0.3)"/>
<path d="M421.5 32.7 L433.6 50.2" fill="none" stroke="#6e6e6e" stroke-width="3.6" stroke-linecap="round"/>
<path d="M421.5 32.7 L433.6 50.2" fill="none" stroke="#e0e0e0" stroke-width="1.9" stroke-linecap="round" transform="translate(-0.3,-0.5)"/>
<path d="M404.8 71.6 Q418.4 69.0 427.9 61.3" fill="none" stroke="#3c5a66" stroke-width="3.4" stroke-linecap="round"/>
<path d="M404.8 71.6 Q418.4 69.0 427.9 61.3" fill="none" stroke="#dadada" stroke-width="1.9" stroke-linecap="round" transform="translate(-0.3,-0.4)"/>
<path d="M404.8 71.6 Q418.4 69.0 427.9 61.3" fill="none" stroke="#22a2d4" stroke-width="2.0" stroke-dasharray="9,4" stroke-dashoffset="1" transform="translate(-0.2,-0.3)"/>
<path d="M387.5 70.8 L375.3 53.3" fill="none" stroke="#6e6e6e" stroke-width="3.6" stroke-linecap="round"/>
<path d="M387.5 70.8 L375.3 53.3" fill="none" stroke="#e0e0e0" stroke-width="1.9" stroke-linecap="round" transform="translate(-0.3,-0.5)"/>
<path d="M375.0 33.4 L386.4 11.2" fill="none" stroke="#6e6e6e" stroke-width="3.6" stroke-linecap="round"/>
<path d="M375.0 33.4 L386.4 11.2" fill="none" stroke="#e0e0e0" stroke-width="1.9" stroke-linecap="round" transform="translate(-0.3,-0.5)"/>
<path d="M403.7 12.0 Q417.4 14.4 427.2 21.6" fill="none" stroke="#3c5a66" stroke-width="3.4" stroke-linecap="round"/>
<path d="M403.7 12.0 Q417.4 14.4 427.2 21.6" fill="none" stroke="#dadada" stroke-width="1.9" stroke-linecap="round" transform="translate(-0.3,-0.4)"/>
<path d="M403.7 12.0 Q417.4 14.4 427.2 21.6" fill="none" stroke="#22a2d4" stroke-width="2.0" stroke-dasharray="6,6,3,4" stroke-dashoffset="4" transform="translate(-0.2,-0.3)"/>
<path d="M358.0 52.4 Q354.0 42.6 357.6 32.6" fill="none" stroke="#3c5a66" stroke-width="3.4" stroke-linecap="round"/>
<path d="M358.0 52.4 Q354.0 42.6 357.6 32.6" fill="none" stroke="#dadada" stroke-width="1.9" stroke-linecap="round" transform="translate(-0.3,-0.4)"/>
<path d="M358.0 52.4 Q354.0 42.6 357.6 32.6" fill="none" stroke="#22a2d4" stroke-width="2.0" stroke-dasharray="9,4" stroke-dashoffset="5" transform="translate(-0.2,-0.3)"/>
<path d="M421.9 52.6 Q427.8 58.5 427.9 61.3" fill="none" stroke="#3c5a66" stroke-width="3.4" stroke-linecap="round"/>
<path d="M421.9 52.6 Q427.8 58.5 427.9 61.3" fill="none" stroke="#dadada" stroke-width="1.9" stroke-linecap="round" transform="translate(-0.3,-0.4)"/>
<path d="M421.9 52.6 Q427.8 58.5 427.9 61.3" fill="none" stroke="#22a2d4" stroke-width="2.0" stroke-dasharray="6,6,3,4" stroke-dashoffset="6" transform="translate(-0.2,-0.3)"/>
<path d="M404.8 71.6 Q402.4 69.8 398.8 62.8" fill="none" stroke="#3c5a66" stroke-width="3.4" stroke-linecap="round"/>
<path d="M404.8 71.6 Q402.4 69.8 398.8 62.8" fill="none" stroke="#dadada" stroke-width="1.9" stroke-linecap="round" transform="translate(-0.3,-0.4)"/>
<path d="M404.8 71.6 Q402.4 69.8 398.8 62.8" fill="none" stroke="#22a2d4" stroke-width="2.0" stroke-dasharray="9,4" stroke-dashoffset="0" transform="translate(-0.2,-0.3)"/>
<path d="M421.5 32.7 Q427.2 25.8 427.2 21.6" fill="none" stroke="#3c5a66" stroke-width="3.4" stroke-linecap="round"/>
<path d="M421.5 32.7 Q427.2 25.8 427.2 21.6" fill="none" stroke="#dadada" stroke-width="1.9" stroke-linecap="round" transform="translate(-0.3,-0.4)"/>
<path d="M421.5 32.7 Q427.2 25.8 427.2 21.6" fill="none" stroke="#22a2d4" stroke-width="2.0" stroke-dasharray="6,6,3,4" stroke-dashoffset="1" transform="translate(-0.2,-0.3)"/>
<path d="M358.0 52.4 Q363.8 54.0 375.3 53.3" fill="none" stroke="#3c5a66" stroke-width="3.4" stroke-linecap="round"/>
<path d="M358.0 52.4 Q363.8 54.0 375.3 53.3" fill="none" stroke="#dadada" stroke-width="1.9" stroke-linecap="round" transform="translate(-0.3,-0.4)"/>
<path d="M358.0 52.4 Q363.8 54.0 375.3 53.3" fill="none" stroke="#22a2d4" stroke-width="2.0" stroke-dasharray="9,4" stroke-dashoffset="2" transform="translate(-0.2,-0.3)"/>
<path d="M403.7 12.0 Q401.4 15.2 398.0 23.1" fill="none" stroke="#3c5a66" stroke-width="3.4" stroke-linecap="round"/>
<path d="M403.7 12.0 Q401.4 15.2 398.0 23.1" fill="none" stroke="#dadada" stroke-width="1.9" stroke-linecap="round" transform="translate(-0.3,-0.4)"/>
<path d="M403.7 12.0 Q401.4 15.2 398.0 23.1" fill="none" stroke="#22a2d4" stroke-width="2.0" stroke-dasharray="6,6,3,4" stroke-dashoffset="3" transform="translate(-0.2,-0.3)"/>
<path d="M375.0 33.4 Q363.3 32.1 357.6 32.6" fill="none" stroke="#3c5a66" stroke-width="3.4" stroke-linecap="round"/>
<path d="M375.0 33.4 Q363.3 32.1 357.6 32.6" fill="none" stroke="#dadada" stroke-width="1.9" stroke-linecap="round" transform="translate(-0.3,-0.4)"/>
<path d="M375.0 33.4 Q363.3 32.1 357.6 32.6" fill="none" stroke="#22a2d4" stroke-width="2.0" stroke-dasharray="9,4" stroke-dashoffset="4" transform="translate(-0.2,-0.3)"/>
<path d="M375.0 33.4 L421.9 52.6" fill="none" stroke="#6e6e6e" stroke-width="3.6" stroke-linecap="round"/>
<path d="M375.0 33.4 L421.9 52.6" fill="none" stroke="#e0e0e0" stroke-width="1.9" stroke-linecap="round" transform="translate(-0.3,-0.5)"/>
<path d="M421.5 32.7 L375.3 53.3" fill="none" stroke="#6e6e6e" stroke-width="3.6" stroke-linecap="round"/>
<path d="M421.5 32.7 L375.3 53.3" fill="none" stroke="#e0e0e0" stroke-width="1.9" stroke-linecap="round" transform="translate(-0.3,-0.5)"/>
<path d="M421.9 52.6 Q411.8 59.3 398.8 62.8" fill="none" stroke="#3c5a66" stroke-width="3.4" stroke-linecap="round"/>
<path d="M421.9 52.6 Q411.8 59.3 398.8 62.8" fill="none" stroke="#dadada" stroke-width="1.9" stroke-linecap="round" transform="translate(-0.3,-0.4)"/>
<path d="M421.9 52.6 Q411.8 59.3 398.8 62.8" fill="none" stroke="#22a2d4" stroke-width="2.0" stroke-dasharray="6,6,3,4" stroke-dashoffset="0" transform="translate(-0.2,-0.3)"/>
<path d="M421.5 32.7 Q424.3 42.8 421.9 52.6" fill="none" stroke="#3c5a66" stroke-width="3.4" stroke-linecap="round"/>
<path d="M421.5 32.7 Q424.3 42.8 421.9 52.6" fill="none" stroke="#dadada" stroke-width="1.9" stroke-linecap="round" transform="translate(-0.3,-0.4)"/>
<path d="M421.5 32.7 Q424.3 42.8 421.9 52.6" fill="none" stroke="#22a2d4" stroke-width="2.0" stroke-dasharray="9,4" stroke-dashoffset="1" transform="translate(-0.2,-0.3)"/>
<path d="M375.3 53.3 Q386.2 59.7 398.8 62.8" fill="none" stroke="#3c5a66" stroke-width="3.4" stroke-linecap="round"/>
<path d="M375.3 53.3 Q386.2 59.7 398.8 62.8" fill="none" stroke="#dadada" stroke-width="1.9" stroke-linecap="round" transform="translate(-0.3,-0.4)"/>
<path d="M375.3 53.3 Q386.2 59.7 398.8 62.8" fill="none" stroke="#22a2d4" stroke-width="2.0" stroke-dasharray="6,6,3,4" stroke-dashoffset="2" transform="translate(-0.2,-0.3)"/>
<path d="M421.5 32.7 Q411.2 26.6 398.0 23.1" fill="none" stroke="#3c5a66" stroke-width="3.4" stroke-linecap="round"/>
<path d="M421.5 32.7 Q411.2 26.6 398.0 23.1" fill="none" stroke="#dadada" stroke-width="1.9" stroke-linecap="round" transform="translate(-0.3,-0.4)"/>
<path d="M421.5 32.7 Q411.2 26.6 398.0 23.1" fill="none" stroke="#22a2d4" stroke-width="2.0" stroke-dasharray="9,4" stroke-dashoffset="3" transform="translate(-0.2,-0.3)"/>
<path d="M375.0 33.4 Q373.1 43.5 375.3 53.3" fill="none" stroke="#3c5a66" stroke-width="3.4" stroke-linecap="round"/>
<path d="M375.0 33.4 Q373.1 43.5 375.3 53.3" fill="none" stroke="#dadada" stroke-width="1.9" stroke-linecap="round" transform="translate(-0.3,-0.4)"/>
<path d="M375.0 33.4 Q373.1 43.5 375.3 53.3" fill="none" stroke="#22a2d4" stroke-width="2.0" stroke-dasharray="6,6,3,4" stroke-dashoffset="4" transform="translate(-0.2,-0.3)"/>
<path d="M398.0 23.1 Q385.6 26.9 375.0 33.4" fill="none" stroke="#3c5a66" stroke-width="3.4" stroke-linecap="round"/>
<path d="M398.0 23.1 Q385.6 26.9 375.0 33.4" fill="none" stroke="#dadada" stroke-width="1.9" stroke-linecap="round" transform="translate(-0.3,-0.4)"/>
<path d="M398.0 23.1 Q385.6 26.9 375.0 33.4" fill="none" stroke="#22a2d4" stroke-width="2.0" stroke-dasharray="9,4" stroke-dashoffset="5" transform="translate(-0.2,-0.3)"/>
<rect x="441.9" y="22.90" width="4.3" height="4.45" fill="#e8000c"/>
<rect x="441.9" y="27.23" width="4.3" height="4.45" fill="#ff8c00"/>
<rect x="441.9" y="31.56" width="4.3" height="4.45" fill="#ffe600"/>
<rect x="441.9" y="35.89" width="4.3" height="4.45" fill="#b4e000"/>
<rect x="441.9" y="40.22" width="4.3" height="4.45" fill="#22c822"/>
<rect x="441.9" y="44.55" width="4.3" height="4.45" fill="#00d890"/>
<rect x="441.9" y="48.88" width="4.3" height="4.45" fill="#00d4e8"/>
<rect x="441.9" y="53.21" width="4.3" height="4.45" fill="#18b0f0"/>
<line x1="442" y1="61.4" x2="445.6" y2="61.4" stroke="#999" stroke-width="0.6"/>
<text x="443.80" y="20.60" font-size="7.6" text-anchor="middle" fill="#111" font-weight="normal"  >Max</text>
<text x="443.80" y="71.00" font-size="7.6" text-anchor="middle" fill="#111" font-weight="normal"  >Min</text>
<text x="64.80" y="89.90" font-size="8.1" text-anchor="middle" fill="#111" font-weight="normal"  >Chiral</text>
<text x="64.80" y="99.50" font-size="8.1" text-anchor="middle" fill="#111" font-weight="normal"  >torsion</text>
<text x="64.80" y="109.10" font-size="8.1" text-anchor="middle" fill="#111" font-weight="normal"  >buckling</text>
<text x="124.80" y="89.90" font-size="8.1" text-anchor="middle" fill="#111" font-weight="normal"  >Non-chiral</text>
<text x="124.80" y="99.50" font-size="8.1" text-anchor="middle" fill="#111" font-weight="normal"  >bending</text>
<text x="124.80" y="109.10" font-size="8.1" text-anchor="middle" fill="#111" font-weight="normal"  >buckling</text>
<text x="183.60" y="89.90" font-size="8.1" text-anchor="middle" fill="#111" font-weight="normal"  >Chiral</text>
<text x="183.60" y="99.50" font-size="8.1" text-anchor="middle" fill="#111" font-weight="normal"  >crossed</text>
<text x="183.60" y="109.10" font-size="8.1" text-anchor="middle" fill="#111" font-weight="normal"  >beam</text>
<text x="249.30" y="89.90" font-size="8.1" text-anchor="middle" fill="#111" font-weight="normal"  >Octahedron</text>
<text x="249.30" y="99.50" font-size="8.1" text-anchor="middle" fill="#111" font-weight="normal"  >bending</text>
<text x="249.30" y="109.10" font-size="8.1" text-anchor="middle" fill="#111" font-weight="normal"  >buckling</text>
<text x="318.80" y="89.90" font-size="8.1" text-anchor="middle" fill="#111" font-weight="normal"  >Prism</text>
<text x="318.80" y="99.50" font-size="8.1" text-anchor="middle" fill="#111" font-weight="normal"  >bending</text>
<text x="318.80" y="109.10" font-size="8.1" text-anchor="middle" fill="#111" font-weight="normal"  >buckling</text>
<text x="397.40" y="89.90" font-size="8.1" text-anchor="middle" fill="#111" font-weight="normal"  >Tensegrity</text>
<text x="397.40" y="99.50" font-size="8.1" text-anchor="middle" fill="#111" font-weight="normal"  >bending</text>
<text x="397.40" y="109.10" font-size="8.1" text-anchor="middle" fill="#111" font-weight="normal"  >+ tension</text>
<ellipse cx="64.8" cy="119" rx="17" ry="6" fill="#fdf3fc"/>
<line x1="48.80" y1="119.00" x2="83.30" y2="119.00" stroke="#fa6c46" stroke-width="1.5"/>
<polygon points="64.80,112.80 66.56,116.57 70.70,117.08 67.65,119.93 68.44,124.02 64.80,122.00 61.16,124.02 61.95,119.93 58.90,117.08 63.04,116.57" fill="#fa6c46" stroke="none" stroke-width="0" stroke-linejoin="round"/>
<line x1="108.00" y1="118.30" x2="141.40" y2="118.30" stroke="#62b844" stroke-width="1.2"/>
<polygon points="124.40,113.30 125.87,116.28 129.16,116.75 126.78,119.07 127.34,122.35 124.40,120.80 121.46,122.35 122.02,119.07 119.64,116.75 122.93,116.28" fill="white" fill-opacity="1" stroke="#62b844" stroke-width="1.1" stroke-linejoin="miter"/>
<line x1="165" y1="118.6" x2="199.8" y2="118.6" stroke="#ef1c2c" stroke-width="1.3" stroke-dasharray="2,1.2"/>
<path d="M177.60 115.00L184.80 122.20M177.60 122.20L184.80 115.00" stroke="#ef1c2c" stroke-width="1.6" fill="none"/>
<line x1="235.00" y1="115.00" x2="263.60" y2="115.00" stroke="#1aa8ad" stroke-width="1.4"/>
<line x1="235" y1="123.3" x2="263.6" y2="123.3" stroke="#1aa8ad" stroke-width="0.8" stroke-dasharray="2,1.3"/>
<circle cx="249.30" cy="123.30" r="3.20" fill="#1aa8ad"/>
<text x="267.00" y="117.10" font-size="8.0" text-anchor="start" fill="#111" font-weight="normal"  >Analytical</text>
<text x="283.80" y="126.60" font-size="8.0" text-anchor="middle" fill="#111" font-weight="normal"  >FEA</text>
<line x1="304.00" y1="115.00" x2="333.80" y2="115.00" stroke="#0b2a8f" stroke-width="1.4"/>
<line x1="304" y1="123.3" x2="333.8" y2="123.3" stroke="#0b2a8f" stroke-width="0.8" stroke-dasharray="2,1.3"/>
<polygon points="318.30,118.70 321.70,123.30 318.30,127.90 314.90,123.30" fill="#0b2a8f" stroke="none" stroke-width="0"/>
<ellipse cx="397.3" cy="121.2" rx="18.3" ry="7.6" fill="#ecf6e9"/>
<line x1="379.00" y1="121.70" x2="416.00" y2="121.70" stroke="#66be5c" stroke-width="1.5"/>
<rect x="394.1" y="117.9" width="6.9" height="6.9" fill="#66be5c"/>
<text x="470.60" y="7.00" font-size="10.2" text-anchor="start" fill="#000" font-weight="bold"  style="stroke:#000;stroke-width:0.25px">f</text>
<text transform="translate(508,67.8) rotate(-90)" font-size="7.95" text-anchor="middle" fill="#111">Model and deformation</text>
<path d="M520.10 101.60 A29.90 9.40 0 0 0 579.90 101.60 L579.90 110.30 A29.90 9.40 0 0 1 520.10 110.30 Z" fill="url(#gside)"/>
<ellipse cx="550.00" cy="101.60" rx="29.90" ry="9.40" fill="url(#gtop)"/>
<ellipse cx="550.00" cy="102.20" rx="21.20" ry="7.40" fill="url(#gwall)"/>
<clipPath id="hc5500"><ellipse cx="550.00" cy="102.20" rx="21.20" ry="7.40"/></clipPath>
<ellipse cx="550.00" cy="110.50" rx="21.20" ry="7.00" fill="#fff" clip-path="url(#hc5500)"/>
<path d="M520.1 51.9 L519.9 53.6 L520.5 55.2 L521.8 56.8 L523.7 58.6 L526.2 60.4 L529.2 62.3 L532.8 64.5 L536.6 66.8 L540.6 69.3 L544.8 72.0 L548.9 75.0 L552.9 78.1 L556.6 81.4 L559.9 84.8 L562.9 88.4 L565.4 92.1 L567.4 95.8" fill="none" stroke="#2a9a2a" stroke-width="5.20" stroke-linecap="round" stroke-linejoin="round"/>
<path d="M520.1 51.9 L519.9 53.6 L520.5 55.2 L521.8 56.8 L523.7 58.6 L526.2 60.4 L529.2 62.3 L532.8 64.5 L536.6 66.8 L540.6 69.3 L544.8 72.0 L548.9 75.0 L552.9 78.1 L556.6 81.4 L559.9 84.8 L562.9 88.4 L565.4 92.1 L567.4 95.8" fill="none" stroke="#e0c020" stroke-width="2.86" stroke-linecap="round" stroke-linejoin="round" transform="translate(-0.5,-0.4)"/>
<path d="M520.1 51.9 L519.9 53.6 L520.5 55.2 L521.8 56.8 L523.7 58.6 L526.2 60.4 L529.2 62.3 L532.8 64.5 L536.6 66.8 L540.6 69.3 L544.8 72.0 L548.9 75.0 L552.9 78.1 L556.6 81.4 L559.9 84.8 L562.9 88.4 L565.4 92.1 L567.4 95.8" fill="none" stroke="#d03020" stroke-width="1.30" stroke-linecap="round" stroke-linejoin="round" transform="translate(0.8,0.5)"/>
<path d="M530.2 27.7 L531.7 29.6 L533.8 31.6 L536.3 33.6 L539.3 35.8 L542.8 38.0 L546.6 40.5 L550.6 43.1 L554.8 46.0 L559.0 49.0 L563.1 52.3 L566.9 55.7 L570.4 59.4 L573.4 63.1 L575.9 67.1 L577.8 71.1 L579.0 75.2 L579.5 79.3 L579.3 83.4 L578.5 87.5" fill="none" stroke="#1a9a3a" stroke-width="5.20" stroke-linecap="round" stroke-linejoin="round"/>
<path d="M530.2 27.7 L531.7 29.6 L533.8 31.6 L536.3 33.6 L539.3 35.8 L542.8 38.0 L546.6 40.5 L550.6 43.1 L554.8 46.0 L559.0 49.0 L563.1 52.3 L566.9 55.7 L570.4 59.4 L573.4 63.1 L575.9 67.1 L577.8 71.1 L579.0 75.2 L579.5 79.3 L579.3 83.4 L578.5 87.5" fill="none" stroke="#1a90d0" stroke-width="2.86" stroke-linecap="round" stroke-linejoin="round" transform="translate(-0.5,-0.4)"/>
<path d="M530.2 27.7 L531.7 29.6 L533.8 31.6 L536.3 33.6 L539.3 35.8 L542.8 38.0 L546.6 40.5 L550.6 43.1 L554.8 46.0 L559.0 49.0 L563.1 52.3 L566.9 55.7 L570.4 59.4 L573.4 63.1 L575.9 67.1 L577.8 71.1 L579.0 75.2 L579.5 79.3 L579.3 83.4 L578.5 87.5" fill="none" stroke="#e0d020" stroke-width="1.30" stroke-linecap="round" stroke-linejoin="round" transform="translate(0.8,0.5)"/>
<path d="M564.4 26.1 L567.6 29.4 L570.7 32.9 L573.4 36.5 L575.8 40.3 L577.8 44.2 L579.2 48.2 L579.9 52.3" fill="none" stroke="#1e8a2e" stroke-width="5.20" stroke-linecap="round" stroke-linejoin="round"/>
<path d="M564.4 26.1 L567.6 29.4 L570.7 32.9 L573.4 36.5 L575.8 40.3 L577.8 44.2 L579.2 48.2 L579.9 52.3" fill="none" stroke="#f0b020" stroke-width="2.86" stroke-linecap="round" stroke-linejoin="round" transform="translate(-0.5,-0.4)"/>
<path d="M564.4 26.1 L567.6 29.4 L570.7 32.9 L573.4 36.5 L575.8 40.3 L577.8 44.2 L579.2 48.2 L579.9 52.3" fill="none" stroke="#c82818" stroke-width="1.30" stroke-linecap="round" stroke-linejoin="round" transform="translate(0.8,0.5)"/>
<path d="M521.5 85.8 L522.9 87.5 L524.8 89.4 L527.1 91.4 L529.8 93.5 L532.7 95.8" fill="none" stroke="#16883a" stroke-width="5.20" stroke-linecap="round" stroke-linejoin="round"/>
<path d="M521.5 85.8 L522.9 87.5 L524.8 89.4 L527.1 91.4 L529.8 93.5 L532.7 95.8" fill="none" stroke="#1aa0c8" stroke-width="2.86" stroke-linecap="round" stroke-linejoin="round" transform="translate(-0.5,-0.4)"/>
<path d="M521.5 85.8 L522.9 87.5 L524.8 89.4 L527.1 91.4 L529.8 93.5 L532.7 95.8" fill="none" stroke="#d8d820" stroke-width="1.30" stroke-linecap="round" stroke-linejoin="round" transform="translate(0.8,0.5)"/>
<path d="M578.5 87.5 L577.1 91.5 L575.2 95.4 L572.9 99.1 L570.2 102.7 L567.3 106.2" fill="none" stroke="#1a9a3a" stroke-width="5.20" stroke-linecap="round" stroke-linejoin="round"/>
<path d="M578.5 87.5 L577.1 91.5 L575.2 95.4 L572.9 99.1 L570.2 102.7 L567.3 106.2" fill="none" stroke="#1a90d0" stroke-width="2.86" stroke-linecap="round" stroke-linejoin="round" transform="translate(-0.5,-0.4)"/>
<path d="M578.5 87.5 L577.1 91.5 L575.2 95.4 L572.9 99.1 L570.2 102.7 L567.3 106.2" fill="none" stroke="#e0d020" stroke-width="1.30" stroke-linecap="round" stroke-linejoin="round" transform="translate(0.8,0.5)"/>
<path d="M535.6 37.9 L532.4 40.4 L529.3 42.6 L526.6 44.7 L524.2 46.7 L522.2 48.5 L520.8 50.3 L520.1 51.9" fill="none" stroke="#2a9a2a" stroke-width="5.20" stroke-linecap="round" stroke-linejoin="round"/>
<path d="M535.6 37.9 L532.4 40.4 L529.3 42.6 L526.6 44.7 L524.2 46.7 L522.2 48.5 L520.8 50.3 L520.1 51.9" fill="none" stroke="#e0c020" stroke-width="2.86" stroke-linecap="round" stroke-linejoin="round" transform="translate(-0.5,-0.4)"/>
<path d="M535.6 37.9 L532.4 40.4 L529.3 42.6 L526.6 44.7 L524.2 46.7 L522.2 48.5 L520.8 50.3 L520.1 51.9" fill="none" stroke="#d03020" stroke-width="1.30" stroke-linecap="round" stroke-linejoin="round" transform="translate(0.8,0.5)"/>
<path d="M569.8 36.3 L568.3 40.2 L566.2 43.9 L563.7 47.6 L560.7 51.2 L557.2 54.7 L553.4 58.0 L549.4 61.1 L545.2 64.0 L541.0 66.7 L536.9 69.2 L533.1 71.5 L529.6 73.6 L526.6 75.6 L524.1 77.4 L522.2 79.1 L521.0 80.8 L520.5 82.4 L520.7 84.1 L521.5 85.8" fill="none" stroke="#16883a" stroke-width="5.20" stroke-linecap="round" stroke-linejoin="round"/>
<path d="M569.8 36.3 L568.3 40.2 L566.2 43.9 L563.7 47.6 L560.7 51.2 L557.2 54.7 L553.4 58.0 L549.4 61.1 L545.2 64.0 L541.0 66.7 L536.9 69.2 L533.1 71.5 L529.6 73.6 L526.6 75.6 L524.1 77.4 L522.2 79.1 L521.0 80.8 L520.5 82.4 L520.7 84.1 L521.5 85.8" fill="none" stroke="#1aa0c8" stroke-width="2.86" stroke-linecap="round" stroke-linejoin="round" transform="translate(-0.5,-0.4)"/>
<path d="M569.8 36.3 L568.3 40.2 L566.2 43.9 L563.7 47.6 L560.7 51.2 L557.2 54.7 L553.4 58.0 L549.4 61.1 L545.2 64.0 L541.0 66.7 L536.9 69.2 L533.1 71.5 L529.6 73.6 L526.6 75.6 L524.1 77.4 L522.2 79.1 L521.0 80.8 L520.5 82.4 L520.7 84.1 L521.5 85.8" fill="none" stroke="#d8d820" stroke-width="1.30" stroke-linecap="round" stroke-linejoin="round" transform="translate(0.8,0.5)"/>
<path d="M579.9 52.3 L580.1 56.4 L579.5 60.6 L578.2 64.7 L576.3 68.7 L573.8 72.6 L570.8 76.4 L567.2 80.0 L563.4 83.5 L559.4 86.7 L555.2 89.7 L551.1 92.5 L547.1 95.2 L543.4 97.6 L540.1 99.9 L537.1 102.1 L534.6 104.2 L532.6 106.2" fill="none" stroke="#1e8a2e" stroke-width="5.20" stroke-linecap="round" stroke-linejoin="round"/>
<path d="M579.9 52.3 L580.1 56.4 L579.5 60.6 L578.2 64.7 L576.3 68.7 L573.8 72.6 L570.8 76.4 L567.2 80.0 L563.4 83.5 L559.4 86.7 L555.2 89.7 L551.1 92.5 L547.1 95.2 L543.4 97.6 L540.1 99.9 L537.1 102.1 L534.6 104.2 L532.6 106.2" fill="none" stroke="#f0b020" stroke-width="2.86" stroke-linecap="round" stroke-linejoin="round" transform="translate(-0.5,-0.4)"/>
<path d="M579.9 52.3 L580.1 56.4 L579.5 60.6 L578.2 64.7 L576.3 68.7 L573.8 72.6 L570.8 76.4 L567.2 80.0 L563.4 83.5 L559.4 86.7 L555.2 89.7 L551.1 92.5 L547.1 95.2 L543.4 97.6 L540.1 99.9 L537.1 102.1 L534.6 104.2 L532.6 106.2" fill="none" stroke="#c82818" stroke-width="1.30" stroke-linecap="round" stroke-linejoin="round" transform="translate(0.8,0.5)"/>
<path d="M521.10 21.00 A29.65 9.45 0 0 0 580.40 21.00 L580.40 28.20 A29.65 9.45 0 0 1 521.10 28.20 Z" fill="url(#gside)"/>
<ellipse cx="550.75" cy="21.00" rx="29.65" ry="9.45" fill="url(#gtop)"/>
<ellipse cx="552.50" cy="21.35" rx="19.15" ry="6.65" fill="url(#gwall)"/>
<clipPath id="hc5525"><ellipse cx="552.50" cy="21.35" rx="19.15" ry="6.65"/></clipPath>
<ellipse cx="552.50" cy="28.60" rx="19.15" ry="6.60" fill="#fff" clip-path="url(#hc5525)"/>
<ellipse cx="541.3" cy="47.8" rx="11" ry="5.6" fill="none" stroke="#444" stroke-width="0.5" transform="rotate(-10 541.3 47.8)"/>
<line x1="551.00" y1="44.00" x2="614.00" y2="65.50" stroke="#333" stroke-width="0.5"/>
<line x1="534.00" y1="52.00" x2="599.50" y2="118.00" stroke="#333" stroke-width="0.5"/>
<path d="M597.9 19.9 L606.4 16.3 L640.6 23 L632.5 26.2 Z" fill="#c9cde0"/>
<path d="M597.9 19.9 L632.5 26.2 L632.5 28 L597.9 21.7 Z" fill="#979cb2"/><path d="M632.5 26.2 L640.6 23 L640.6 24.6 L632.5 28 Z" fill="#b0b4c6"/>
<path d="M625.5 27.5 L633.4 27.5 L616.8 40 L608.4 53.4 L600 54 L615.5 39.6 Z" fill="#545a6a"/>
<path d="M616.8 40 L633.4 27.5 L634 28.5 L618 40.5 Z" fill="#8a90a4"/>
<line x1="601.2" y1="21.8" x2="636.6" y2="56.6" stroke="#555" stroke-width="0.6"/>
<line x1="613" y1="24.5" x2="637.3" y2="55.5" stroke="#aaa" stroke-width="0.4"/>
<path d="M597.9 53.4 L606.4 51.8 L640.6 57.3 L632 60.6 Z" fill="#c9cde0"/>
<path d="M597.9 53.4 L632 60.6 L632 62 L597.9 54.9 Z" fill="#979cb2"/>
<linearGradient id="strip" x1="1" y1="0" x2="0" y2="1"><stop offset="0" stop-color="#c02818"/><stop offset="0.12" stop-color="#e08020"/><stop offset="0.25" stop-color="#3aa030"/><stop offset="0.38" stop-color="#1040b8"/><stop offset="0.5" stop-color="#2a9a3a"/><stop offset="0.62" stop-color="#a0b020"/><stop offset="0.72" stop-color="#2a8a3a"/><stop offset="0.82" stop-color="#1850b0"/><stop offset="0.92" stop-color="#3a9a30"/><stop offset="1" stop-color="#a83018"/></linearGradient>
<path d="M649 58 C650 50 652 42 657 36 C662 31 667 29 671 25 L673.5 22 L669 18.5 C664 24 658 29 653 34 C649 40 647.5 48 648.5 58 Z" fill="#d9d9d9"/>
<path d="M643.2 53.4 C643 45 643.8 38 647.5 33.5 C652 29 660 26.5 666.5 20.8 L669.5 26.5 C664.5 30.5 660 32 656 35.5 C652 40 650 47 648.5 58 Z" fill="url(#strip)"/>
<clipPath id="zi"><path d="M599.5 65.5 L670 65.5 L670 119 L599.5 119 Z"/></clipPath>
<g clip-path="url(#zi)">
<path d="M599.5 90 L670 67 L670 84 L599.5 109 Z" fill="#2a9a3a"/>
<path d="M599.5 89.5 L670 66.5 L670 69.0 L599.5 92.0 Z" fill="#1a6a9a"/>
<path d="M599.5 91.2 L670 68.2 L670 70.8 L599.5 93.8 Z" fill="#1a8090"/>
<path d="M599.5 93.0 L670 70.0 L670 72.5 L599.5 95.5 Z" fill="#1a9a50"/>
<path d="M599.5 94.8 L670 71.8 L670 74.2 L599.5 97.2 Z" fill="#3aa830"/>
<path d="M599.5 96.5 L670 73.5 L670 76.0 L599.5 99.0 Z" fill="#80b020"/>
<path d="M599.5 98.2 L670 75.2 L670 77.8 L599.5 100.8 Z" fill="#c82818"/>
<path d="M599.5 100.0 L670 77.0 L670 79.5 L599.5 102.5 Z" fill="#c84818"/>
<path d="M599.5 101.8 L670 78.8 L670 81.2 L599.5 104.2 Z" fill="#b87820"/>
<path d="M599.5 103.5 L670 80.5 L670 83.0 L599.5 106.0 Z" fill="#90902a"/>
<path d="M599.5 105.2 L670 82.2 L670 84.8 L599.5 107.8 Z" fill="#4a9a2a"/>
<path d="M599.5 107.0 L670 84.0 L670 86.5 L599.5 109.5 Z" fill="#1e8a3a"/>
<path d="M613.0 65.5 C616.0 85 625.0 100 641.0 119 L644.4 119 C628.2 100 619.2 85 616.2 65.5 Z" fill="#0f5a7a"/>
<path d="M615.4 65.5 C618.4 85 627.4 100 643.4 119 L646.8 119 C630.6 100 621.6 85 618.6 65.5 Z" fill="#106a80"/>
<path d="M617.8 65.5 C620.8 85 629.8 100 645.8 119 L649.2 119 C633.0 100 624.0 85 621.0 65.5 Z" fill="#1a7aa0"/>
<path d="M620.2 65.5 C623.2 85 632.2 100 648.2 119 L651.6 119 C635.4 100 626.4 85 623.4 65.5 Z" fill="#1a8a90"/>
<path d="M622.6 65.5 C625.6 85 634.6 100 650.6 119 L654.0 119 C637.8 100 628.8 85 625.8 65.5 Z" fill="#20a070"/>
<path d="M625.0 65.5 C628.0 85 637.0 100 653.0 119 L656.4 119 C640.2 100 631.2 85 628.2 65.5 Z" fill="#2ab040"/>
<path d="M627.4 65.5 C630.4 85 639.4 100 655.4 119 L658.8 119 C642.6 100 633.6 85 630.6 65.5 Z" fill="#80c020"/>
<path d="M629.8 65.5 C632.8 85 641.8 100 657.8 119 L661.2 119 C645.0 100 636.0 85 633.0 65.5 Z" fill="#e0c020"/>
<path d="M632.2 65.5 C635.2 85 644.2 100 660.2 119 L663.6 119 C647.4 100 638.4 85 635.4 65.5 Z" fill="#f0d020"/>
</g>
<rect x="588.3" y="72.6" width="14.3" height="7.2" fill="#ccf5cc" stroke="#444" stroke-width="0.5"/>
<text x="605.50" y="79.00" font-size="7.4" text-anchor="start" fill="#111" font-weight="normal" font-style="italic" >t</text>
<text x="594.80" y="87.00" font-size="7.4" text-anchor="middle" fill="#111" font-weight="normal" font-style="italic" >b</text>
<text x="590.90" y="130.00" font-size="8.1" text-anchor="middle" fill="#111" font-weight="normal"  >Beam- and plate-based models</text>
</svg></body></html>
